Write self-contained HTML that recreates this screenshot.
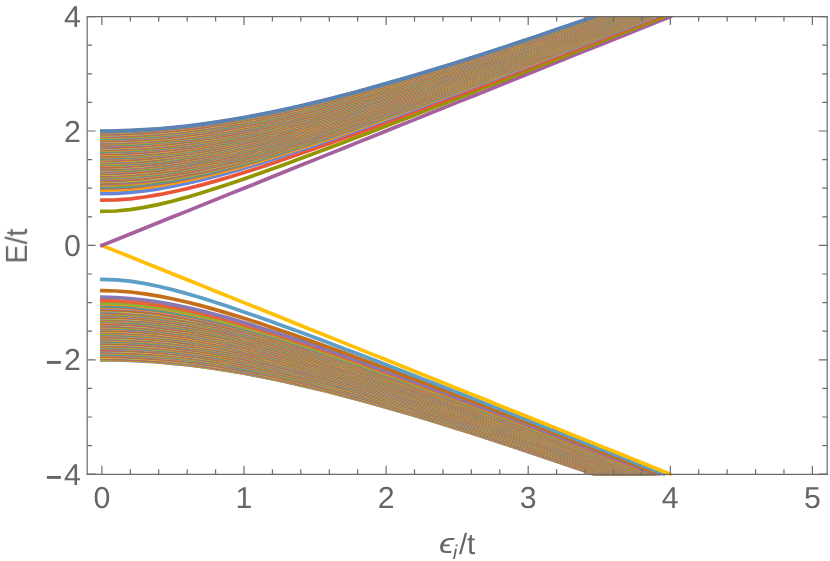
<!DOCTYPE html>
<html><head><meta charset="utf-8"><title>plot</title>
<style>
html,body{margin:0;padding:0;background:#fff;}
body{width:830px;height:561px;overflow:hidden;}
svg{display:block;}
text{font-family:"Liberation Sans",sans-serif;font-size:30.3px;fill:#666;text-rendering:geometricPrecision;}
</style></head><body>
<svg width="830" height="561" viewBox="0 0 830 561">
<rect width="830" height="561" fill="#fff"/>
<defs><clipPath id="c"><rect x="87.2" y="16.6" width="740.0" height="459.2"/></clipPath></defs>
<g clip-path="url(#c)" fill="none" stroke-width="3.7" stroke-linecap="square" stroke-linejoin="round">
<path d="M101.9 359.8 L116.0 359.9 L130.0 360.4 L144.1 361.1 L158.2 362.0 L172.2 363.3 L186.3 364.7 L200.3 366.5 L214.4 368.4 L228.5 370.6 L242.5 373.0 L256.6 375.7 L270.7 378.5 L284.7 381.4 L298.8 384.6 L312.9 387.9 L326.9 391.3 L341.0 394.9 L355.1 398.6 L369.1 402.4 L383.2 406.4 L397.2 410.4 L411.3 414.5 L425.4 418.7 L439.4 423.0 L453.5 427.4 L467.6 431.8 L481.6 436.3 L495.7 440.9 L509.8 445.5 L523.8 450.2 L537.9 454.9 L552.0 459.7 L566.0 464.5 L580.1 469.3 L594.1 474.2" stroke="#5E81B5"/>
<path d="M101.9 359.4 L116.0 359.5 L130.1 359.9 L144.1 360.6 L158.2 361.6 L172.3 362.8 L186.4 364.3 L200.5 366.1 L214.6 368.1 L228.6 370.3 L242.7 372.7 L256.8 375.3 L270.9 378.1 L285.0 381.1 L299.0 384.3 L313.1 387.6 L327.2 391.1 L341.3 394.6 L355.4 398.4 L369.5 402.2 L383.5 406.2 L397.6 410.2 L411.7 414.3 L425.8 418.6 L439.9 422.9 L453.9 427.3 L468.0 431.7 L482.1 436.2 L496.2 440.8 L510.3 445.4 L524.4 450.1 L538.4 454.8 L552.5 459.6 L566.6 464.4 L580.7 469.3 L594.8 474.2" stroke="#E19C24"/>
<path d="M101.9 358.9 L116.0 359.1 L130.1 359.5 L144.2 360.2 L158.3 361.2 L172.4 362.4 L186.5 363.9 L200.6 365.7 L214.7 367.7 L228.8 369.9 L242.9 372.3 L257.0 375.0 L271.1 377.8 L285.2 380.8 L299.3 384.0 L313.4 387.3 L327.5 390.8 L341.6 394.4 L355.7 398.1 L369.8 402.0 L383.9 405.9 L398.0 410.0 L412.1 414.2 L426.2 418.4 L440.3 422.7 L454.4 427.1 L468.5 431.6 L482.6 436.1 L496.7 440.7 L510.8 445.3 L524.9 450.0 L539.0 454.8 L553.1 459.6 L567.2 464.4 L581.3 469.3 L595.4 474.2" stroke="#8FB032"/>
<path d="M101.9 358.5 L116.0 358.6 L130.1 359.1 L144.3 359.8 L158.4 360.8 L172.5 362.0 L186.6 363.5 L200.7 365.3 L214.8 367.3 L229.0 369.5 L243.1 372.0 L257.2 374.6 L271.3 377.5 L285.4 380.5 L299.5 383.7 L313.7 387.0 L327.8 390.5 L341.9 394.1 L356.0 397.9 L370.1 401.8 L384.2 405.7 L398.4 409.8 L412.5 414.0 L426.6 418.2 L440.7 422.6 L454.8 427.0 L469.0 431.5 L483.1 436.0 L497.2 440.6 L511.3 445.3 L525.4 450.0 L539.5 454.7 L553.7 459.5 L567.8 464.4 L581.9 469.3 L596.0 474.2" stroke="#EB6235"/>
<path d="M101.9 358.1 L116.0 358.2 L130.2 358.6 L144.3 359.3 L158.4 360.3 L172.6 361.6 L186.7 363.1 L200.8 364.9 L215.0 366.9 L229.1 369.2 L243.2 371.6 L257.4 374.3 L271.5 377.1 L285.7 380.2 L299.8 383.4 L313.9 386.7 L328.1 390.2 L342.2 393.9 L356.3 397.7 L370.5 401.5 L384.6 405.5 L398.7 409.6 L412.9 413.8 L427.0 418.1 L441.1 422.4 L455.3 426.9 L469.4 431.3 L483.5 435.9 L497.7 440.5 L511.8 445.2 L525.9 449.9 L540.1 454.7 L554.2 459.5 L568.4 464.4 L582.5 469.3 L596.6 474.2" stroke="#8778B3"/>
<path d="M101.9 357.6 L116.1 357.8 L130.2 358.2 L144.4 358.9 L158.5 359.9 L172.7 361.2 L186.8 362.7 L201.0 364.5 L215.1 366.5 L229.3 368.8 L243.4 371.3 L257.6 373.9 L271.7 376.8 L285.9 379.9 L300.0 383.1 L314.2 386.5 L328.3 390.0 L342.5 393.6 L356.6 397.4 L370.8 401.3 L384.9 405.3 L399.1 409.4 L413.3 413.6 L427.4 417.9 L441.6 422.3 L455.7 426.7 L469.9 431.2 L484.0 435.8 L498.2 440.4 L512.3 445.1 L526.5 449.9 L540.6 454.6 L554.8 459.5 L568.9 464.3 L583.1 469.3 L597.2 474.2" stroke="#C56E1A"/>
<path d="M101.9 357.2 L116.1 357.3 L130.2 357.8 L144.4 358.5 L158.6 359.5 L172.7 360.8 L186.9 362.3 L201.1 364.1 L215.3 366.1 L229.4 368.4 L243.6 370.9 L257.8 373.6 L271.9 376.5 L286.1 379.5 L300.3 382.8 L314.4 386.2 L328.6 389.7 L342.8 393.4 L357.0 397.2 L371.1 401.1 L385.3 405.1 L399.5 409.2 L413.6 413.5 L427.8 417.8 L442.0 422.1 L456.1 426.6 L470.3 431.1 L484.5 435.7 L498.7 440.3 L512.8 445.0 L527.0 449.8 L541.2 454.6 L555.3 459.4 L569.5 464.3 L583.7 469.2 L597.8 474.2" stroke="#5D9EC7"/>
<path d="M101.9 356.8 L116.1 356.9 L130.3 357.3 L144.5 358.1 L158.6 359.1 L172.8 360.4 L187.0 361.9 L201.2 363.7 L215.4 365.8 L229.6 368.0 L243.8 370.5 L258.0 373.2 L272.1 376.1 L286.3 379.2 L300.5 382.5 L314.7 385.9 L328.9 389.4 L343.1 393.1 L357.3 396.9 L371.5 400.9 L385.6 404.9 L399.8 409.0 L414.0 413.3 L428.2 417.6 L442.4 422.0 L456.6 426.5 L470.8 431.0 L484.9 435.6 L499.1 440.3 L513.3 445.0 L527.5 449.7 L541.7 454.5 L555.9 459.4 L570.1 464.3 L584.3 469.2 L598.4 474.2" stroke="#FFBF00"/>
<path d="M101.9 356.3 L116.1 356.5 L130.3 356.9 L144.5 357.6 L158.7 358.6 L172.9 359.9 L187.1 361.5 L201.3 363.3 L215.5 365.4 L229.7 367.7 L243.9 370.2 L258.1 372.9 L272.4 375.8 L286.6 378.9 L300.8 382.2 L315.0 385.6 L329.2 389.2 L343.4 392.9 L357.6 396.7 L371.8 400.7 L386.0 404.7 L400.2 408.9 L414.4 413.1 L428.6 417.4 L442.8 421.8 L457.0 426.3 L471.2 430.9 L485.4 435.5 L499.6 440.2 L513.8 444.9 L528.0 449.7 L542.2 454.5 L556.4 459.4 L570.6 464.3 L584.8 469.2 L599.0 474.2" stroke="#A5609D"/>
<path d="M101.9 355.9 L116.1 356.0 L130.3 356.5 L144.6 357.2 L158.8 358.2 L173.0 359.5 L187.2 361.1 L201.4 362.9 L215.7 365.0 L229.9 367.3 L244.1 369.8 L258.3 372.6 L272.6 375.5 L286.8 378.6 L301.0 381.9 L315.2 385.3 L329.4 388.9 L343.7 392.6 L357.9 396.5 L372.1 400.4 L386.3 404.5 L400.5 408.7 L414.8 412.9 L429.0 417.3 L443.2 421.7 L457.4 426.2 L471.7 430.8 L485.9 435.4 L500.1 440.1 L514.3 444.8 L528.5 449.6 L542.8 454.4 L557.0 459.3 L571.2 464.2 L585.4 469.2 L599.6 474.2" stroke="#929600"/>
<path d="M101.9 355.4 L116.1 355.6 L130.4 356.0 L144.6 356.8 L158.9 357.8 L173.1 359.1 L187.3 360.7 L201.6 362.5 L215.8 364.6 L230.0 366.9 L244.3 369.5 L258.5 372.2 L272.8 375.2 L287.0 378.3 L301.2 381.6 L315.5 385.0 L329.7 388.6 L344.0 392.4 L358.2 396.2 L372.4 400.2 L386.7 404.3 L400.9 408.5 L415.1 412.8 L429.4 417.1 L443.6 421.6 L457.9 426.1 L472.1 430.6 L486.3 435.3 L500.6 440.0 L514.8 444.7 L529.1 449.5 L543.3 454.4 L557.5 459.3 L571.8 464.2 L586.0 469.2 L600.2 474.2" stroke="#E95536"/>
<path d="M101.9 355.0 L116.2 355.2 L130.4 355.6 L144.7 356.4 L158.9 357.4 L173.2 358.7 L187.4 360.3 L201.7 362.1 L215.9 364.2 L230.2 366.6 L244.5 369.1 L258.7 371.9 L273.0 374.8 L287.2 378.0 L301.5 381.3 L315.7 384.8 L330.0 388.4 L344.2 392.1 L358.5 396.0 L372.8 400.0 L387.0 404.1 L401.3 408.3 L415.5 412.6 L429.8 417.0 L444.0 421.4 L458.3 425.9 L472.5 430.5 L486.8 435.2 L501.0 439.9 L515.3 444.7 L529.6 449.5 L543.8 454.3 L558.1 459.2 L572.3 464.2 L586.6 469.2 L600.8 474.2" stroke="#6685D9"/>
<path d="M101.9 354.6 L116.2 354.7 L130.4 355.2 L144.7 355.9 L159.0 357.0 L173.3 358.3 L187.5 359.9 L201.8 361.7 L216.1 363.9 L230.3 366.2 L244.6 368.8 L258.9 371.5 L273.2 374.5 L287.4 377.7 L301.7 381.0 L316.0 384.5 L330.3 388.1 L344.5 391.9 L358.8 395.8 L373.1 399.8 L387.3 403.9 L401.6 408.1 L415.9 412.4 L430.2 416.8 L444.4 421.3 L458.7 425.8 L473.0 430.4 L487.2 435.1 L501.5 439.8 L515.8 444.6 L530.1 449.4 L544.3 454.3 L558.6 459.2 L572.9 464.2 L587.2 469.2 L601.4 474.2" stroke="#F89F13"/>
<path d="M101.9 354.1 L116.2 354.3 L130.5 354.7 L144.8 355.5 L159.1 356.5 L173.3 357.9 L187.6 359.5 L201.9 361.3 L216.2 363.5 L230.5 365.8 L244.8 368.4 L259.1 371.2 L273.4 374.2 L287.7 377.4 L301.9 380.7 L316.2 384.2 L330.5 387.9 L344.8 391.6 L359.1 395.5 L373.4 399.6 L387.7 403.7 L402.0 407.9 L416.3 412.2 L430.5 416.6 L444.8 421.1 L459.1 425.7 L473.4 430.3 L487.7 435.0 L502.0 439.7 L516.3 444.5 L530.6 449.4 L544.9 454.2 L559.1 459.2 L573.4 464.1 L587.7 469.2 L602.0 474.2" stroke="#BC5B80"/>
<path d="M101.9 353.7 L116.2 353.9 L130.5 354.3 L144.8 355.1 L159.1 356.1 L173.4 357.5 L187.7 359.1 L202.0 361.0 L216.3 363.1 L230.7 365.5 L245.0 368.1 L259.3 370.9 L273.6 373.9 L287.9 377.1 L302.2 380.4 L316.5 383.9 L330.8 387.6 L345.1 391.4 L359.4 395.3 L373.7 399.3 L388.0 403.5 L402.3 407.7 L416.6 412.1 L430.9 416.5 L445.2 421.0 L459.5 425.5 L473.8 430.2 L488.2 434.9 L502.5 439.6 L516.8 444.4 L531.1 449.3 L545.4 454.2 L559.7 459.1 L574.0 464.1 L588.3 469.1 L602.6 474.2" stroke="#47B66D"/>
<path d="M101.9 353.3 L116.2 353.4 L130.5 353.9 L144.9 354.6 L159.2 355.7 L173.5 357.0 L187.8 358.7 L202.2 360.6 L216.5 362.7 L230.8 365.1 L245.1 367.7 L259.4 370.5 L273.8 373.5 L288.1 376.7 L302.4 380.1 L316.7 383.6 L331.1 387.3 L345.4 391.1 L359.7 395.1 L374.0 399.1 L388.3 403.3 L402.7 407.5 L417.0 411.9 L431.3 416.3 L445.6 420.8 L460.0 425.4 L474.3 430.1 L488.6 434.8 L502.9 439.5 L517.2 444.4 L531.6 449.2 L545.9 454.1 L560.2 459.1 L574.5 464.1 L588.9 469.1 L603.2 474.2" stroke="#5E81B5"/>
<path d="M101.9 352.8 L116.2 353.0 L130.6 353.4 L144.9 354.2 L159.3 355.3 L173.6 356.6 L187.9 358.3 L202.3 360.2 L216.6 362.3 L230.9 364.7 L245.3 367.3 L259.6 370.2 L274.0 373.2 L288.3 376.4 L302.6 379.8 L317.0 383.4 L331.3 387.1 L345.7 390.9 L360.0 394.8 L374.3 398.9 L388.7 403.1 L403.0 407.4 L417.4 411.7 L431.7 416.2 L446.0 420.7 L460.4 425.3 L474.7 430.0 L489.0 434.7 L503.4 439.5 L517.7 444.3 L532.1 449.2 L546.4 454.1 L560.7 459.1 L575.1 464.1 L589.4 469.1 L603.8 474.2" stroke="#E19C24"/>
<path d="M101.9 352.4 L116.3 352.5 L130.6 353.0 L145.0 353.8 L159.3 354.9 L173.7 356.2 L188.0 357.9 L202.4 359.8 L216.7 362.0 L231.1 364.4 L245.5 367.0 L259.8 369.8 L274.2 372.9 L288.5 376.1 L302.9 379.5 L317.2 383.1 L331.6 386.8 L345.9 390.6 L360.3 394.6 L374.6 398.7 L389.0 402.9 L403.4 407.2 L417.7 411.6 L432.1 416.0 L446.4 420.6 L460.8 425.2 L475.1 429.8 L489.5 434.6 L503.8 439.4 L518.2 444.2 L532.6 449.1 L546.9 454.0 L561.3 459.0 L575.6 464.1 L590.0 469.1 L604.3 474.2" stroke="#8FB032"/>
<path d="M101.9 352.0 L116.3 352.1 L130.6 352.6 L145.0 353.4 L159.4 354.4 L173.8 355.8 L188.1 357.5 L202.5 359.4 L216.9 361.6 L231.2 364.0 L245.6 366.6 L260.0 369.5 L274.4 372.6 L288.7 375.8 L303.1 379.2 L317.5 382.8 L331.8 386.5 L346.2 390.4 L360.6 394.4 L375.0 398.5 L389.3 402.7 L403.7 407.0 L418.1 411.4 L432.4 415.9 L446.8 420.4 L461.2 425.0 L475.6 429.7 L489.9 434.5 L504.3 439.3 L518.7 444.1 L533.0 449.0 L547.4 454.0 L561.8 459.0 L576.2 464.0 L590.5 469.1 L604.9 474.2" stroke="#EB6235"/>
<path d="M101.9 351.5 L116.3 351.7 L130.7 352.1 L145.1 352.9 L159.5 354.0 L173.8 355.4 L188.2 357.1 L202.6 359.0 L217.0 361.2 L231.4 363.6 L245.8 366.3 L260.2 369.2 L274.6 372.3 L288.9 375.5 L303.3 378.9 L317.7 382.5 L332.1 386.3 L346.5 390.2 L360.9 394.2 L375.3 398.3 L389.7 402.5 L404.0 406.8 L418.4 411.2 L432.8 415.7 L447.2 420.3 L461.6 424.9 L476.0 429.6 L490.4 434.4 L504.8 439.2 L519.1 444.1 L533.5 449.0 L547.9 454.0 L562.3 459.0 L576.7 464.0 L591.1 469.1 L605.5 474.2" stroke="#8778B3"/>
<path d="M101.9 351.1 L116.3 351.2 L130.7 351.7 L145.1 352.5 L159.5 353.6 L173.9 355.0 L188.3 356.7 L202.7 358.6 L217.1 360.8 L231.5 363.3 L245.9 365.9 L260.3 368.8 L274.7 371.9 L289.1 375.2 L303.6 378.7 L318.0 382.3 L332.4 386.0 L346.8 389.9 L361.2 393.9 L375.6 398.1 L390.0 402.3 L404.4 406.6 L418.8 411.0 L433.2 415.6 L447.6 420.1 L462.0 424.8 L476.4 429.5 L490.8 434.3 L505.2 439.1 L519.6 444.0 L534.0 448.9 L548.4 453.9 L562.8 458.9 L577.2 464.0 L591.6 469.1 L606.0 474.2" stroke="#C56E1A"/>
<path d="M101.9 350.6 L115.9 350.8 L129.9 351.2 L144.0 352.0 L158.0 353.0 L172.0 354.4 L186.0 356.0 L200.0 357.8 L214.1 359.9 L228.1 362.3 L242.1 364.8 L256.1 367.6 L270.1 370.6 L284.2 373.7 L298.2 377.0 L312.2 380.5 L326.2 384.1 L340.2 387.8 L354.2 391.7 L368.3 395.6 L382.3 399.7 L396.3 403.9 L410.3 408.2 L424.3 412.5 L438.4 416.9 L452.4 421.4 L466.4 426.0 L480.4 430.6 L494.4 435.3 L508.5 440.0 L522.5 444.7 L536.5 449.6 L550.5 454.4 L564.5 459.3 L578.6 464.2 L592.6 469.2 L606.6 474.2" stroke="#5D9EC7"/>
<path d="M101.9 350.2 L115.9 350.4 L130.0 350.8 L144.0 351.6 L158.0 352.6 L172.1 354.0 L186.1 355.6 L200.1 357.4 L214.2 359.5 L228.2 361.9 L242.2 364.5 L256.3 367.2 L270.3 370.2 L284.4 373.4 L298.4 376.7 L312.4 380.2 L326.5 383.8 L340.5 387.6 L354.5 391.4 L368.6 395.4 L382.6 399.5 L396.6 403.7 L410.7 408.0 L424.7 412.3 L438.7 416.8 L452.8 421.3 L466.8 425.8 L480.8 430.5 L494.9 435.2 L508.9 439.9 L522.9 444.7 L537.0 449.5 L551.0 454.4 L565.1 459.3 L579.1 464.2 L593.1 469.2 L607.2 474.2" stroke="#FFBF00"/>
<path d="M101.9 349.8 L116.0 349.9 L130.0 350.4 L144.1 351.1 L158.1 352.2 L172.2 353.5 L186.2 355.2 L200.3 357.0 L214.3 359.2 L228.4 361.5 L242.4 364.1 L256.5 366.9 L270.5 369.9 L284.6 373.1 L298.6 376.4 L312.7 379.9 L326.7 383.5 L340.8 387.3 L354.8 391.2 L368.9 395.2 L382.9 399.3 L397.0 403.5 L411.0 407.8 L425.1 412.2 L439.1 416.6 L453.2 421.1 L467.2 425.7 L481.3 430.4 L495.3 435.1 L509.4 439.8 L523.4 444.6 L537.5 449.4 L551.5 454.3 L565.6 459.2 L579.6 464.2 L593.7 469.2 L607.7 474.2" stroke="#A5609D"/>
<path d="M101.9 349.3 L116.0 349.5 L130.0 350.0 L144.1 350.7 L158.2 351.8 L172.2 353.1 L186.3 354.7 L200.4 356.6 L214.4 358.8 L228.5 361.2 L242.6 363.8 L256.6 366.6 L270.7 369.6 L284.8 372.8 L298.8 376.1 L312.9 379.6 L327.0 383.3 L341.0 387.1 L355.1 391.0 L369.1 395.0 L383.2 399.1 L397.3 403.3 L411.3 407.6 L425.4 412.0 L439.5 416.5 L453.5 421.0 L467.6 425.6 L481.7 430.3 L495.7 435.0 L509.8 439.7 L523.9 444.5 L537.9 449.4 L552.0 454.3 L566.1 459.2 L580.1 464.2 L594.2 469.2 L608.3 474.2" stroke="#929600"/>
<path d="M101.9 348.9 L116.0 349.1 L130.1 349.5 L144.1 350.3 L158.2 351.4 L172.3 352.7 L186.4 354.3 L200.5 356.2 L214.5 358.4 L228.6 360.8 L242.7 363.4 L256.8 366.2 L270.9 369.3 L285.0 372.5 L299.0 375.8 L313.1 379.3 L327.2 383.0 L341.3 386.8 L355.4 390.7 L369.4 394.8 L383.5 398.9 L397.6 403.1 L411.7 407.5 L425.8 411.9 L439.8 416.3 L453.9 420.9 L468.0 425.5 L482.1 430.2 L496.2 434.9 L510.2 439.6 L524.3 444.5 L538.4 449.3 L552.5 454.2 L566.6 459.2 L580.7 464.2 L594.7 469.2 L608.8 474.2" stroke="#E95536"/>
<path d="M101.9 348.5 L116.0 348.6 L130.1 349.1 L144.2 349.9 L158.3 350.9 L172.4 352.3 L186.5 353.9 L200.6 355.9 L214.7 358.0 L228.8 360.4 L242.9 363.1 L257.0 365.9 L271.1 368.9 L285.2 372.1 L299.2 375.5 L313.3 379.1 L327.4 382.8 L341.5 386.6 L355.6 390.5 L369.7 394.5 L383.8 398.7 L397.9 402.9 L412.0 407.3 L426.1 411.7 L440.2 416.2 L454.3 420.7 L468.4 425.4 L482.5 430.0 L496.6 434.8 L510.7 439.6 L524.8 444.4 L538.9 449.3 L553.0 454.2 L567.1 459.1 L581.2 464.1 L595.3 469.1 L609.4 474.2" stroke="#6685D9"/>
<path d="M101.9 348.0 L116.0 348.2 L130.1 348.7 L144.2 349.4 L158.3 350.5 L172.5 351.9 L186.6 353.5 L200.7 355.5 L214.8 357.6 L228.9 360.1 L243.0 362.7 L257.1 365.6 L271.2 368.6 L285.3 371.8 L299.5 375.2 L313.6 378.8 L327.7 382.5 L341.8 386.3 L355.9 390.3 L370.0 394.3 L384.1 398.5 L398.2 402.8 L412.3 407.1 L426.5 411.5 L440.6 416.0 L454.7 420.6 L468.8 425.2 L482.9 429.9 L497.0 434.7 L511.1 439.5 L525.2 444.3 L539.4 449.2 L553.5 454.1 L567.6 459.1 L581.7 464.1 L595.8 469.1 L609.9 474.2" stroke="#F89F13"/>
<path d="M101.9 347.6 L116.0 347.8 L130.2 348.2 L144.3 349.0 L158.4 350.1 L172.5 351.5 L186.7 353.1 L200.8 355.1 L214.9 357.3 L229.0 359.7 L243.2 362.3 L257.3 365.2 L271.4 368.3 L285.5 371.5 L299.7 374.9 L313.8 378.5 L327.9 382.2 L342.0 386.1 L356.2 390.0 L370.3 394.1 L384.4 398.3 L398.6 402.6 L412.7 406.9 L426.8 411.4 L440.9 415.9 L455.1 420.5 L469.2 425.1 L483.3 429.8 L497.4 434.6 L511.6 439.4 L525.7 444.3 L539.8 449.2 L553.9 454.1 L568.1 459.1 L582.2 464.1 L596.3 469.1 L610.5 474.2" stroke="#BC5B80"/>
<path d="M101.9 347.2 L116.0 347.3 L130.2 347.8 L144.3 348.6 L158.5 349.7 L172.6 351.1 L186.7 352.7 L200.9 354.7 L215.0 356.9 L229.2 359.3 L243.3 362.0 L257.5 364.9 L271.6 368.0 L285.7 371.2 L299.9 374.7 L314.0 378.2 L328.2 382.0 L342.3 385.8 L356.4 389.8 L370.6 393.9 L384.7 398.1 L398.9 402.4 L413.0 406.8 L427.2 411.2 L441.3 415.7 L455.4 420.3 L469.6 425.0 L483.7 429.7 L497.9 434.5 L512.0 439.3 L526.1 444.2 L540.3 449.1 L554.4 454.1 L568.6 459.0 L582.7 464.1 L596.8 469.1 L611.0 474.2" stroke="#47B66D"/>
<path d="M101.9 346.7 L116.1 346.9 L130.2 347.4 L144.4 348.2 L158.5 349.3 L172.7 350.7 L186.8 352.3 L201.0 354.3 L215.2 356.5 L229.3 359.0 L243.5 361.6 L257.6 364.5 L271.8 367.6 L285.9 370.9 L300.1 374.4 L314.2 378.0 L328.4 381.7 L342.6 385.6 L356.7 389.6 L370.9 393.7 L385.0 397.9 L399.2 402.2 L413.3 406.6 L427.5 411.1 L441.7 415.6 L455.8 420.2 L470.0 424.9 L484.1 429.6 L498.3 434.4 L512.4 439.2 L526.6 444.1 L540.7 449.0 L554.9 454.0 L569.1 459.0 L583.2 464.0 L597.4 469.1 L611.5 474.2" stroke="#5E81B5"/>
<path d="M101.9 346.3 L116.1 346.4 L130.2 346.9 L144.4 347.7 L158.6 348.8 L172.8 350.2 L186.9 351.9 L201.1 353.9 L215.3 356.1 L229.4 358.6 L243.6 361.3 L257.8 364.2 L272.0 367.3 L286.1 370.6 L300.3 374.1 L314.5 377.7 L328.6 381.4 L342.8 385.3 L357.0 389.3 L371.2 393.5 L385.3 397.7 L399.5 402.0 L413.7 406.4 L427.8 410.9 L442.0 415.5 L456.2 420.1 L470.3 424.8 L484.5 429.5 L498.7 434.3 L512.9 439.2 L527.0 444.1 L541.2 449.0 L555.4 454.0 L569.5 459.0 L583.7 464.0 L597.9 469.1 L612.1 474.2" stroke="#E19C24"/>
<path d="M101.9 345.9 L116.1 346.0 L130.3 346.5 L144.5 347.3 L158.6 348.4 L172.8 349.8 L187.0 351.5 L201.2 353.5 L215.4 355.8 L229.6 358.2 L243.8 360.9 L257.9 363.9 L272.1 367.0 L286.3 370.3 L300.5 373.8 L314.7 377.4 L328.9 381.2 L343.1 385.1 L357.2 389.1 L371.4 393.3 L385.6 397.5 L399.8 401.8 L414.0 406.2 L428.2 410.7 L442.4 415.3 L456.5 420.0 L470.7 424.7 L484.9 429.4 L499.1 434.2 L513.3 439.1 L527.5 444.0 L541.7 448.9 L555.8 453.9 L570.0 458.9 L584.2 464.0 L598.4 469.1 L612.6 474.2" stroke="#8FB032"/>
<path d="M101.9 345.4 L116.1 345.6 L130.3 346.1 L144.5 346.9 L158.7 348.0 L172.9 349.4 L187.1 351.1 L201.3 353.1 L215.5 355.4 L229.7 357.9 L243.9 360.6 L258.1 363.5 L272.3 366.7 L286.5 370.0 L300.7 373.5 L314.9 377.1 L329.1 380.9 L343.3 384.8 L357.5 388.9 L371.7 393.0 L385.9 397.3 L400.1 401.6 L414.3 406.1 L428.5 410.6 L442.7 415.2 L456.9 419.8 L471.1 424.5 L485.3 429.3 L499.5 434.1 L513.7 439.0 L527.9 443.9 L542.1 448.9 L556.3 453.9 L570.5 458.9 L584.7 464.0 L598.9 469.1 L613.1 474.2" stroke="#EB6235"/>
<path d="M101.9 345.0 L116.1 345.1 L130.3 345.6 L144.5 346.4 L158.8 347.6 L173.0 349.0 L187.2 350.7 L201.4 352.7 L215.6 355.0 L229.8 357.5 L244.1 360.2 L258.3 363.2 L272.5 366.4 L286.7 369.7 L300.9 373.2 L315.1 376.9 L329.3 380.7 L343.6 384.6 L357.8 388.7 L372.0 392.8 L386.2 397.1 L400.4 401.5 L414.6 405.9 L428.8 410.4 L443.1 415.0 L457.3 419.7 L471.5 424.4 L485.7 429.2 L499.9 434.0 L514.1 438.9 L528.4 443.9 L542.6 448.8 L556.8 453.8 L571.0 458.9 L585.2 464.0 L599.4 469.1 L613.6 474.2" stroke="#8778B3"/>
<path d="M101.9 344.5 L116.1 344.7 L130.4 345.2 L144.6 346.0 L158.8 347.2 L173.0 348.6 L187.3 350.3 L201.5 352.3 L215.7 354.6 L230.0 357.1 L244.2 359.9 L258.4 362.9 L272.7 366.0 L286.9 369.4 L301.1 372.9 L315.3 376.6 L329.6 380.4 L343.8 384.4 L358.0 388.4 L372.3 392.6 L386.5 396.9 L400.7 401.3 L415.0 405.7 L429.2 410.3 L443.4 414.9 L457.6 419.6 L471.9 424.3 L486.1 429.1 L500.3 434.0 L514.6 438.8 L528.8 443.8 L543.0 448.8 L557.2 453.8 L571.5 458.8 L585.7 463.9 L599.9 469.1 L614.2 474.2" stroke="#C56E1A"/>
<path d="M101.9 344.1 L116.1 344.3 L130.4 344.8 L144.6 345.6 L158.9 346.7 L173.1 348.2 L187.4 349.9 L201.6 352.0 L215.9 354.2 L230.1 356.8 L244.3 359.6 L258.6 362.5 L272.8 365.7 L287.1 369.1 L301.3 372.6 L315.6 376.3 L329.8 380.2 L344.0 384.1 L358.3 388.2 L372.5 392.4 L386.8 396.7 L401.0 401.1 L415.3 405.6 L429.5 410.1 L443.8 414.7 L458.0 419.4 L472.2 424.2 L486.5 429.0 L500.7 433.9 L515.0 438.8 L529.2 443.7 L543.5 448.7 L557.7 453.7 L572.0 458.8 L586.2 463.9 L600.4 469.0 L614.7 474.2" stroke="#5D9EC7"/>
<path d="M101.9 343.7 L116.2 343.8 L130.4 344.3 L144.7 345.2 L158.9 346.3 L173.2 347.8 L187.5 349.5 L201.7 351.6 L216.0 353.9 L230.2 356.4 L244.5 359.2 L258.7 362.2 L273.0 365.4 L287.3 368.8 L301.5 372.3 L315.8 376.0 L330.0 379.9 L344.3 383.9 L358.6 388.0 L372.8 392.2 L387.1 396.5 L401.3 400.9 L415.6 405.4 L429.8 410.0 L444.1 414.6 L458.4 419.3 L472.6 424.1 L486.9 428.9 L501.1 433.8 L515.4 438.7 L529.7 443.7 L543.9 448.7 L558.2 453.7 L572.4 458.8 L586.7 463.9 L600.9 469.0 L615.2 474.2" stroke="#FFBF00"/>
<path d="M101.9 343.2 L116.2 343.4 L130.4 343.9 L144.7 344.7 L159.0 345.9 L173.3 347.4 L187.5 349.1 L201.8 351.2 L216.1 353.5 L230.4 356.1 L244.6 358.9 L258.9 361.9 L273.2 365.1 L287.4 368.5 L301.7 372.1 L316.0 375.8 L330.3 379.6 L344.5 383.6 L358.8 387.8 L373.1 392.0 L387.4 396.3 L401.6 400.7 L415.9 405.2 L430.2 409.8 L444.4 414.5 L458.7 419.2 L473.0 424.0 L487.3 428.8 L501.5 433.7 L515.8 438.6 L530.1 443.6 L544.4 448.6 L558.6 453.7 L572.9 458.7 L587.2 463.9 L601.4 469.0 L615.7 474.2" stroke="#A5609D"/>
<path d="M101.9 342.8 L116.2 343.0 L130.5 343.5 L144.8 344.3 L159.0 345.5 L173.3 347.0 L187.6 348.7 L201.9 350.8 L216.2 353.1 L230.5 355.7 L244.8 358.5 L259.1 361.5 L273.3 364.8 L287.6 368.2 L301.9 371.8 L316.2 375.5 L330.5 379.4 L344.8 383.4 L359.1 387.5 L373.4 391.8 L387.6 396.1 L401.9 400.6 L416.2 405.1 L430.5 409.7 L444.8 414.3 L459.1 419.1 L473.4 423.8 L487.6 428.7 L501.9 433.6 L516.2 438.5 L530.5 443.5 L544.8 448.5 L559.1 453.6 L573.4 458.7 L587.7 463.8 L601.9 469.0 L616.2 474.2" stroke="#929600"/>
<path d="M101.9 342.4 L116.2 342.5 L130.5 343.0 L144.8 343.9 L159.1 345.1 L173.4 346.5 L187.7 348.3 L202.0 350.4 L216.3 352.7 L230.6 355.3 L244.9 358.2 L259.2 361.2 L273.5 364.5 L287.8 367.9 L302.1 371.5 L316.4 375.2 L330.7 379.1 L345.0 383.2 L359.3 387.3 L373.6 391.6 L387.9 395.9 L402.2 400.4 L416.5 404.9 L430.8 409.5 L445.1 414.2 L459.4 418.9 L473.7 423.7 L488.0 428.6 L502.3 433.5 L516.6 438.5 L530.9 443.5 L545.2 448.5 L559.5 453.6 L573.8 458.7 L588.1 463.8 L602.4 469.0 L616.7 474.2" stroke="#E95536"/>
<path d="M101.9 341.9 L116.2 342.1 L130.5 342.6 L144.8 343.5 L159.2 344.6 L173.5 346.1 L187.8 347.9 L202.1 350.0 L216.4 352.4 L230.7 355.0 L245.1 357.8 L259.4 360.9 L273.7 364.1 L288.0 367.6 L302.3 371.2 L316.6 375.0 L330.9 378.9 L345.3 382.9 L359.6 387.1 L373.9 391.4 L388.2 395.7 L402.5 400.2 L416.8 404.7 L431.1 409.4 L445.5 414.0 L459.8 418.8 L474.1 423.6 L488.4 428.5 L502.7 433.4 L517.0 438.4 L531.4 443.4 L545.7 448.4 L560.0 453.5 L574.3 458.7 L588.6 463.8 L602.9 469.0 L617.2 474.2" stroke="#6685D9"/>
<path d="M101.9 341.5 L116.2 341.7 L130.6 342.2 L144.9 343.0 L159.2 344.2 L173.5 345.7 L187.9 347.5 L202.2 349.6 L216.5 352.0 L230.9 354.6 L245.2 357.5 L259.5 360.5 L273.8 363.8 L288.2 367.3 L302.5 370.9 L316.8 374.7 L331.2 378.6 L345.5 382.7 L359.8 386.9 L374.2 391.2 L388.5 395.5 L402.8 400.0 L417.1 404.6 L431.5 409.2 L445.8 413.9 L460.1 418.7 L474.5 423.5 L488.8 428.4 L503.1 433.3 L517.4 438.3 L531.8 443.3 L546.1 448.4 L560.4 453.5 L574.8 458.6 L589.1 463.8 L603.4 469.0 L617.7 474.2" stroke="#F89F13"/>
<path d="M101.9 341.1 L116.2 341.2 L130.6 341.7 L144.9 342.6 L159.3 343.8 L173.6 345.3 L188.0 347.1 L202.3 349.2 L216.6 351.6 L231.0 354.3 L245.3 357.1 L259.7 360.2 L274.0 363.5 L288.4 367.0 L302.7 370.6 L317.0 374.4 L331.4 378.4 L345.7 382.5 L360.1 386.6 L374.4 390.9 L388.8 395.3 L403.1 399.8 L417.4 404.4 L431.8 409.1 L446.1 413.8 L460.5 418.6 L474.8 423.4 L489.2 428.3 L503.5 433.2 L517.8 438.2 L532.2 443.3 L546.5 448.3 L560.9 453.4 L575.2 458.6 L589.6 463.8 L603.9 469.0 L618.2 474.2" stroke="#BC5B80"/>
<path d="M101.9 340.6 L116.3 340.8 L130.6 341.3 L145.0 342.2 L159.3 343.4 L173.7 344.9 L188.0 346.7 L202.4 348.9 L216.8 351.2 L231.1 353.9 L245.5 356.8 L259.8 359.9 L274.2 363.2 L288.5 366.7 L302.9 370.3 L317.2 374.2 L331.6 378.1 L346.0 382.2 L360.3 386.4 L374.7 390.7 L389.0 395.2 L403.4 399.7 L417.7 404.2 L432.1 408.9 L446.5 413.6 L460.8 418.4 L475.2 423.3 L489.5 428.2 L503.9 433.1 L518.2 438.2 L532.6 443.2 L547.0 448.3 L561.3 453.4 L575.7 458.6 L590.0 463.7 L604.4 469.0 L618.7 474.2" stroke="#47B66D"/>
<path d="M101.9 340.2 L116.3 340.4 L130.6 340.9 L145.0 341.8 L159.4 343.0 L173.8 344.5 L188.1 346.3 L202.5 348.5 L216.9 350.9 L231.2 353.5 L245.6 356.4 L260.0 359.6 L274.3 362.9 L288.7 366.4 L303.1 370.1 L317.5 373.9 L331.8 377.9 L346.2 382.0 L360.6 386.2 L374.9 390.5 L389.3 395.0 L403.7 399.5 L418.0 404.1 L432.4 408.8 L446.8 413.5 L461.2 418.3 L475.5 423.2 L489.9 428.1 L504.3 433.1 L518.6 438.1 L533.0 443.1 L547.4 448.2 L561.8 453.4 L576.1 458.5 L590.5 463.7 L604.9 468.9 L619.2 474.2" stroke="#5E81B5"/>
<path d="M101.9 339.7 L116.3 339.9 L130.7 340.5 L145.1 341.3 L159.4 342.5 L173.8 344.1 L188.2 345.9 L202.6 348.1 L217.0 350.5 L231.4 353.2 L245.7 356.1 L260.1 359.2 L274.5 362.6 L288.9 366.1 L303.3 369.8 L317.7 373.6 L332.0 377.6 L346.4 381.7 L360.8 386.0 L375.2 390.3 L389.6 394.8 L404.0 399.3 L418.3 403.9 L432.7 408.6 L447.1 413.4 L461.5 418.2 L475.9 423.1 L490.3 428.0 L504.7 433.0 L519.0 438.0 L533.4 443.1 L547.8 448.2 L562.2 453.3 L576.6 458.5 L591.0 463.7 L605.3 468.9 L619.7 474.2" stroke="#E19C24"/>
<path d="M101.9 339.3 L116.3 339.5 L130.7 340.0 L145.1 340.9 L159.5 342.1 L173.9 343.7 L188.3 345.5 L202.7 347.7 L217.1 350.1 L231.5 352.8 L245.9 355.8 L260.3 358.9 L274.7 362.3 L289.1 365.8 L303.5 369.5 L317.9 373.4 L332.3 377.4 L346.7 381.5 L361.1 385.8 L375.5 390.1 L389.9 394.6 L404.3 399.1 L418.6 403.8 L433.0 408.5 L447.4 413.2 L461.8 418.1 L476.2 423.0 L490.6 427.9 L505.0 432.9 L519.4 437.9 L533.8 443.0 L548.2 448.1 L562.6 453.3 L577.0 458.5 L591.4 463.7 L605.8 468.9 L620.2 474.2" stroke="#8FB032"/>
<path d="M101.9 338.9 L115.9 339.0 L129.9 339.6 L144.0 340.4 L158.0 341.6 L172.0 343.0 L186.0 344.8 L200.1 346.9 L214.1 349.2 L228.1 351.8 L242.1 354.6 L256.1 357.6 L270.2 360.8 L284.2 364.2 L298.2 367.8 L312.2 371.5 L326.2 375.4 L340.3 379.4 L354.3 383.5 L368.3 387.7 L382.3 392.0 L396.4 396.4 L410.4 400.8 L424.4 405.4 L438.4 410.0 L452.4 414.7 L466.5 419.4 L480.5 424.2 L494.5 429.0 L508.5 433.9 L522.5 438.8 L536.6 443.8 L550.6 448.8 L564.6 453.8 L578.6 458.9 L592.7 463.9 L606.7 469.1 L620.7 474.2" stroke="#EB6235"/>
<path d="M101.9 338.4 L115.9 338.6 L130.0 339.1 L144.0 340.0 L158.0 341.1 L172.1 342.6 L186.1 344.4 L200.1 346.5 L214.2 348.8 L228.2 351.4 L242.2 354.2 L256.3 357.3 L270.3 360.5 L284.4 363.9 L298.4 367.5 L312.4 371.2 L326.5 375.1 L340.5 379.1 L354.5 383.2 L368.6 387.4 L382.6 391.8 L396.6 396.2 L410.7 400.7 L424.7 405.2 L438.7 409.8 L452.8 414.5 L466.8 419.3 L480.8 424.1 L494.9 428.9 L508.9 433.8 L522.9 438.7 L537.0 443.7 L551.0 448.7 L565.0 453.8 L579.1 458.8 L593.1 463.9 L607.1 469.1 L621.2 474.2" stroke="#8778B3"/>
<path d="M101.9 338.0 L115.9 338.2 L130.0 338.7 L144.0 339.5 L158.1 340.7 L172.1 342.2 L186.2 344.0 L200.2 346.1 L214.3 348.5 L228.3 351.1 L242.4 353.9 L256.4 357.0 L270.5 360.2 L284.5 363.6 L298.6 367.2 L312.6 371.0 L326.7 374.9 L340.7 378.9 L354.8 383.0 L368.8 387.2 L382.9 391.6 L396.9 396.0 L410.9 400.5 L425.0 405.1 L439.0 409.7 L453.1 414.4 L467.1 419.2 L481.2 424.0 L495.2 428.8 L509.3 433.7 L523.3 438.7 L537.4 443.7 L551.4 448.7 L565.5 453.7 L579.5 458.8 L593.6 463.9 L607.6 469.0 L621.7 474.2" stroke="#C56E1A"/>
<path d="M101.9 337.6 L116.0 337.7 L130.0 338.3 L144.1 339.1 L158.1 340.3 L172.2 341.8 L186.3 343.6 L200.3 345.7 L214.4 348.1 L228.4 350.7 L242.5 353.6 L256.6 356.6 L270.6 359.9 L284.7 363.3 L298.7 366.9 L312.8 370.7 L326.9 374.6 L340.9 378.6 L355.0 382.8 L369.1 387.0 L383.1 391.4 L397.2 395.8 L411.2 400.3 L425.3 404.9 L439.4 409.6 L453.4 414.3 L467.5 419.0 L481.5 423.9 L495.6 428.7 L509.7 433.6 L523.7 438.6 L537.8 443.6 L551.8 448.6 L565.9 453.7 L580.0 458.8 L594.0 463.9 L608.1 469.0 L622.1 474.2" stroke="#5D9EC7"/>
<path d="M101.9 337.1 L116.0 337.3 L130.0 337.8 L144.1 338.7 L158.2 339.9 L172.3 341.4 L186.3 343.2 L200.4 345.3 L214.5 347.7 L228.6 350.3 L242.6 353.2 L256.7 356.3 L270.8 359.6 L284.9 363.0 L298.9 366.7 L313.0 370.4 L327.1 374.4 L341.1 378.4 L355.2 382.6 L369.3 386.8 L383.4 391.2 L397.4 395.6 L411.5 400.1 L425.6 404.7 L439.7 409.4 L453.7 414.1 L467.8 418.9 L481.9 423.8 L496.0 428.6 L510.0 433.6 L524.1 438.5 L538.2 443.5 L552.3 448.6 L566.3 453.6 L580.4 458.7 L594.5 463.9 L608.5 469.0 L622.6 474.2" stroke="#FFBF00"/>
<path d="M101.9 336.7 L116.0 336.9 L130.1 337.4 L144.2 338.3 L158.2 339.5 L172.3 341.0 L186.4 342.8 L200.5 344.9 L214.6 347.3 L228.7 350.0 L242.8 352.9 L256.8 356.0 L270.9 359.3 L285.0 362.7 L299.1 366.4 L313.2 370.2 L327.3 374.1 L341.4 378.2 L355.5 382.3 L369.5 386.6 L383.6 391.0 L397.7 395.4 L411.8 400.0 L425.9 404.6 L440.0 409.3 L454.1 414.0 L468.1 418.8 L482.2 423.6 L496.3 428.5 L510.4 433.5 L524.5 438.5 L538.6 443.5 L552.7 448.5 L566.7 453.6 L580.8 458.7 L594.9 463.8 L609.0 469.0 L623.1 474.2" stroke="#A5609D"/>
<path d="M101.9 336.3 L116.0 336.4 L130.1 337.0 L144.2 337.8 L158.3 339.1 L172.4 340.6 L186.5 342.4 L200.6 344.6 L214.7 347.0 L228.8 349.6 L242.9 352.5 L257.0 355.6 L271.1 358.9 L285.2 362.4 L299.3 366.1 L313.4 369.9 L327.5 373.9 L341.6 377.9 L355.7 382.1 L369.8 386.4 L383.9 390.8 L398.0 395.3 L412.1 399.8 L426.2 404.4 L440.3 409.1 L454.4 413.9 L468.5 418.7 L482.6 423.5 L496.7 428.4 L510.8 433.4 L524.9 438.4 L539.0 443.4 L553.1 448.5 L567.2 453.6 L581.3 458.7 L595.4 463.8 L609.5 469.0 L623.6 474.2" stroke="#929600"/>
<path d="M101.9 335.8 L116.0 336.0 L130.1 336.5 L144.2 337.4 L158.3 338.6 L172.5 340.2 L186.6 342.0 L200.7 344.2 L214.8 346.6 L228.9 349.3 L243.0 352.2 L257.1 355.3 L271.2 358.6 L285.4 362.1 L299.5 365.8 L313.6 369.6 L327.7 373.6 L341.8 377.7 L355.9 381.9 L370.0 386.2 L384.1 390.6 L398.2 395.1 L412.4 399.7 L426.5 404.3 L440.6 409.0 L454.7 413.8 L468.8 418.6 L482.9 423.4 L497.0 428.4 L511.1 433.3 L525.2 438.3 L539.4 443.4 L553.5 448.4 L567.6 453.5 L581.7 458.7 L595.8 463.8 L609.9 469.0 L624.0 474.2" stroke="#E95536"/>
<path d="M101.9 335.4 L116.0 335.6 L130.1 336.1 L144.3 337.0 L158.4 338.2 L172.5 339.8 L186.6 341.6 L200.8 343.8 L214.9 346.2 L229.0 348.9 L243.1 351.8 L257.3 355.0 L271.4 358.3 L285.5 361.8 L299.6 365.5 L313.8 369.4 L327.9 373.4 L342.0 377.5 L356.1 381.7 L370.3 386.0 L384.4 390.4 L398.5 394.9 L412.6 399.5 L426.8 404.1 L440.9 408.9 L455.0 413.6 L469.1 418.5 L483.3 423.3 L497.4 428.3 L511.5 433.2 L525.6 438.2 L539.7 443.3 L553.9 448.4 L568.0 453.5 L582.1 458.6 L596.2 463.8 L610.4 469.0 L624.5 474.2" stroke="#6685D9"/>
<path d="M101.9 335.0 L116.0 335.1 L130.2 335.7 L144.3 336.6 L158.4 337.8 L172.6 339.4 L186.7 341.2 L200.9 343.4 L215.0 345.9 L229.1 348.6 L243.3 351.5 L257.4 354.7 L271.5 358.0 L285.7 361.6 L299.8 365.3 L313.9 369.1 L328.1 373.1 L342.2 377.2 L356.4 381.5 L370.5 385.8 L384.6 390.2 L398.8 394.7 L412.9 399.3 L427.0 404.0 L441.2 408.7 L455.3 413.5 L469.5 418.3 L483.6 423.2 L497.7 428.2 L511.9 433.2 L526.0 438.2 L540.1 443.2 L554.3 448.3 L568.4 453.4 L582.5 458.6 L596.7 463.8 L610.8 469.0 L625.0 474.2" stroke="#F89F13"/>
<path d="M101.9 334.5 L116.0 334.7 L130.2 335.2 L144.3 336.1 L158.5 337.4 L172.6 339.0 L186.8 340.8 L200.9 343.0 L215.1 345.5 L229.2 348.2 L243.4 351.2 L257.5 354.3 L271.7 357.7 L285.8 361.3 L300.0 365.0 L314.1 368.9 L328.3 372.9 L342.4 377.0 L356.6 381.2 L370.7 385.6 L384.9 390.0 L399.0 394.6 L413.2 399.2 L427.3 403.8 L441.5 408.6 L455.6 413.4 L469.8 418.2 L483.9 423.1 L498.1 428.1 L512.2 433.1 L526.4 438.1 L540.5 443.2 L554.7 448.3 L568.8 453.4 L583.0 458.6 L597.1 463.8 L611.3 469.0 L625.4 474.2" stroke="#BC5B80"/>
<path d="M101.9 334.1 L116.1 334.3 L130.2 334.8 L144.4 335.7 L158.5 337.0 L172.7 338.5 L186.9 340.4 L201.0 342.6 L215.2 345.1 L229.4 347.9 L243.5 350.8 L257.7 354.0 L271.8 357.4 L286.0 361.0 L300.2 364.7 L314.3 368.6 L328.5 372.6 L342.6 376.8 L356.8 381.0 L371.0 385.4 L385.1 389.8 L399.3 394.4 L413.5 399.0 L427.6 403.7 L441.8 408.4 L455.9 413.2 L470.1 418.1 L484.3 423.0 L498.4 428.0 L512.6 433.0 L526.7 438.0 L540.9 443.1 L555.1 448.2 L569.2 453.4 L583.4 458.5 L597.5 463.7 L611.7 469.0 L625.9 474.2" stroke="#47B66D"/>
<path d="M101.9 333.6 L116.1 333.8 L130.2 334.4 L144.4 335.3 L158.6 336.5 L172.8 338.1 L186.9 340.1 L201.1 342.3 L215.3 344.7 L229.5 347.5 L243.6 350.5 L257.8 353.7 L272.0 357.1 L286.2 360.7 L300.3 364.4 L314.5 368.3 L328.7 372.4 L342.9 376.5 L357.0 380.8 L371.2 385.2 L385.4 389.6 L399.5 394.2 L413.7 398.8 L427.9 403.5 L442.1 408.3 L456.2 413.1 L470.4 418.0 L484.6 422.9 L498.8 427.9 L512.9 432.9 L527.1 438.0 L541.3 443.1 L555.5 448.2 L569.6 453.3 L583.8 458.5 L598.0 463.7 L612.2 468.9 L626.3 474.2" stroke="#5E81B5"/>
<path d="M101.9 333.2 L116.1 333.4 L130.3 333.9 L144.5 334.9 L158.6 336.1 L172.8 337.7 L187.0 339.7 L201.2 341.9 L215.4 344.4 L229.6 347.1 L243.8 350.1 L257.9 353.4 L272.1 356.8 L286.3 360.4 L300.5 364.1 L314.7 368.1 L328.9 372.1 L343.1 376.3 L357.2 380.6 L371.4 385.0 L385.6 389.5 L399.8 394.0 L414.0 398.7 L428.2 403.4 L442.4 408.2 L456.5 413.0 L470.7 417.9 L484.9 422.8 L499.1 427.8 L513.3 432.8 L527.5 437.9 L541.7 443.0 L555.8 448.1 L570.0 453.3 L584.2 458.5 L598.4 463.7 L612.6 468.9 L626.8 474.2" stroke="#E19C24"/>
<path d="M101.9 332.8 L116.1 333.0 L130.3 333.5 L144.5 334.4 L158.7 335.7 L172.9 337.3 L187.1 339.3 L201.3 341.5 L215.5 344.0 L229.7 346.8 L243.9 349.8 L258.1 353.0 L272.3 356.5 L286.5 360.1 L300.7 363.9 L314.9 367.8 L329.1 371.9 L343.3 376.1 L357.5 380.4 L371.7 384.8 L385.9 389.3 L400.1 393.9 L414.3 398.5 L428.5 403.2 L442.7 408.0 L456.8 412.9 L471.0 417.8 L485.2 422.7 L499.4 427.7 L513.6 432.8 L527.8 437.8 L542.0 442.9 L556.2 448.1 L570.4 453.3 L584.6 458.5 L598.8 463.7 L613.0 468.9 L627.2 474.2" stroke="#8FB032"/>
<path d="M101.9 332.3 L116.1 332.5 L130.3 333.1 L144.5 334.0 L158.7 335.3 L173.0 336.9 L187.2 338.9 L201.4 341.1 L215.6 343.6 L229.8 346.4 L244.0 349.5 L258.2 352.7 L272.4 356.2 L286.6 359.8 L300.8 363.6 L315.1 367.5 L329.3 371.6 L343.5 375.8 L357.7 380.2 L371.9 384.6 L386.1 389.1 L400.3 393.7 L414.5 398.3 L428.7 403.1 L442.9 407.9 L457.2 412.8 L471.4 417.7 L485.6 422.6 L499.8 427.6 L514.0 432.7 L528.2 437.8 L542.4 442.9 L556.6 448.0 L570.8 453.2 L585.0 458.4 L599.3 463.7 L613.5 468.9 L627.7 474.2" stroke="#EB6235"/>
<path d="M101.9 331.9 L116.1 332.1 L130.3 332.7 L144.6 333.6 L158.8 334.9 L173.0 336.5 L187.2 338.5 L201.5 340.7 L215.7 343.3 L229.9 346.1 L244.1 349.1 L258.3 352.4 L272.6 355.9 L286.8 359.5 L301.0 363.3 L315.2 367.3 L329.5 371.4 L343.7 375.6 L357.9 379.9 L372.1 384.4 L386.3 388.9 L400.6 393.5 L414.8 398.2 L429.0 402.9 L443.2 407.8 L457.5 412.6 L471.7 417.6 L485.9 422.5 L500.1 427.5 L514.3 432.6 L528.6 437.7 L542.8 442.8 L557.0 448.0 L571.2 453.2 L585.4 458.4 L599.7 463.6 L613.9 468.9 L628.1 474.2" stroke="#8778B3"/>
<path d="M101.9 331.5 L116.1 331.7 L130.4 332.2 L144.6 333.2 L158.8 334.5 L173.1 336.1 L187.3 338.1 L201.5 340.3 L215.8 342.9 L230.0 345.7 L244.2 348.8 L258.5 352.1 L272.7 355.6 L286.9 359.2 L301.2 363.0 L315.4 367.0 L329.6 371.1 L343.9 375.4 L358.1 379.7 L372.3 384.2 L386.6 388.7 L400.8 393.3 L415.0 398.0 L429.3 402.8 L443.5 407.6 L457.7 412.5 L472.0 417.4 L486.2 422.4 L500.5 427.5 L514.7 432.5 L528.9 437.6 L543.2 442.8 L557.4 447.9 L571.6 453.1 L585.9 458.4 L600.1 463.6 L614.3 468.9 L628.6 474.2" stroke="#C56E1A"/>
<path d="M101.9 331.0 L116.1 331.2 L130.4 331.8 L144.6 332.7 L158.9 334.0 L173.1 335.7 L187.4 337.7 L201.6 340.0 L215.9 342.5 L230.1 345.4 L244.4 348.5 L258.6 351.8 L272.8 355.3 L287.1 358.9 L301.3 362.8 L315.6 366.8 L329.8 370.9 L344.1 375.2 L358.3 379.5 L372.6 384.0 L386.8 388.5 L401.1 393.2 L415.3 397.9 L429.6 402.6 L443.8 407.5 L458.0 412.4 L472.3 417.3 L486.5 422.3 L500.8 427.4 L515.0 432.4 L529.3 437.6 L543.5 442.7 L557.8 447.9 L572.0 453.1 L586.3 458.3 L600.5 463.6 L614.7 468.9 L629.0 474.2" stroke="#5D9EC7"/>
<path d="M101.9 330.6 L116.2 330.8 L130.4 331.4 L144.7 332.3 L158.9 333.6 L173.2 335.3 L187.4 337.3 L201.7 339.6 L216.0 342.2 L230.2 345.0 L244.5 348.1 L258.7 351.4 L273.0 354.9 L287.2 358.6 L301.5 362.5 L315.8 366.5 L330.0 370.7 L344.3 374.9 L358.5 379.3 L372.8 383.8 L387.1 388.3 L401.3 393.0 L415.6 397.7 L429.8 402.5 L444.1 407.4 L458.3 412.3 L472.6 417.2 L486.9 422.2 L501.1 427.3 L515.4 432.4 L529.6 437.5 L543.9 442.7 L558.1 447.8 L572.4 453.1 L586.7 458.3 L600.9 463.6 L615.2 468.9 L629.4 474.2" stroke="#FFBF00"/>
<path d="M101.9 330.2 L116.2 330.3 L130.4 330.9 L144.7 331.9 L159.0 333.2 L173.2 334.9 L187.5 336.9 L201.8 339.2 L216.1 341.8 L230.3 344.7 L244.6 347.8 L258.9 351.1 L273.1 354.6 L287.4 358.4 L301.7 362.2 L315.9 366.3 L330.2 370.4 L344.5 374.7 L358.7 379.1 L373.0 383.6 L387.3 388.2 L401.6 392.8 L415.8 397.6 L430.1 402.4 L444.4 407.2 L458.6 412.1 L472.9 417.1 L487.2 422.1 L501.4 427.2 L515.7 432.3 L530.0 437.4 L544.2 442.6 L558.5 447.8 L572.8 453.0 L587.1 458.3 L601.3 463.6 L615.6 468.9 L629.9 474.2" stroke="#A5609D"/>
<path d="M101.9 329.7 L116.2 329.9 L130.5 330.5 L144.7 331.5 L159.0 332.8 L173.3 334.5 L187.6 336.5 L201.9 338.8 L216.1 341.4 L230.4 344.3 L244.7 347.5 L259.0 350.8 L273.3 354.3 L287.6 358.1 L301.8 362.0 L316.1 366.0 L330.4 370.2 L344.7 374.5 L359.0 378.9 L373.2 383.4 L387.5 388.0 L401.8 392.7 L416.1 397.4 L430.4 402.2 L444.6 407.1 L458.9 412.0 L473.2 417.0 L487.5 422.0 L501.8 427.1 L516.0 432.2 L530.3 437.4 L544.6 442.5 L558.9 447.8 L573.2 453.0 L587.5 458.3 L601.7 463.6 L616.0 468.9 L630.3 474.2" stroke="#929600"/>
<path d="M101.9 329.3 L116.2 329.5 L130.5 330.1 L144.8 331.0 L159.1 332.4 L173.4 334.1 L187.7 336.1 L201.9 338.4 L216.2 341.1 L230.5 344.0 L244.8 347.1 L259.1 350.5 L273.4 354.0 L287.7 357.8 L302.0 361.7 L316.3 365.7 L330.6 369.9 L344.9 374.2 L359.2 378.7 L373.5 383.2 L387.8 387.8 L402.0 392.5 L416.3 397.2 L430.6 402.1 L444.9 407.0 L459.2 411.9 L473.5 416.9 L487.8 421.9 L502.1 427.0 L516.4 432.1 L530.7 437.3 L545.0 442.5 L559.3 447.7 L573.6 453.0 L587.8 458.2 L602.1 463.5 L616.4 468.9 L630.7 474.2" stroke="#E95536"/>
<path d="M101.9 328.8 L116.2 329.0 L130.5 329.6 L144.8 330.6 L159.1 332.0 L173.4 333.7 L187.7 335.7 L202.0 338.1 L216.3 340.7 L230.6 343.6 L244.9 346.8 L259.2 350.2 L273.5 353.7 L287.9 357.5 L302.2 361.4 L316.5 365.5 L330.8 369.7 L345.1 374.0 L359.4 378.5 L373.7 383.0 L388.0 387.6 L402.3 392.3 L416.6 397.1 L430.9 401.9 L445.2 406.8 L459.5 411.8 L473.8 416.8 L488.1 421.8 L502.4 426.9 L516.7 432.1 L531.0 437.2 L545.3 442.4 L559.6 447.7 L573.9 452.9 L588.2 458.2 L602.5 463.5 L616.8 468.8 L631.1 474.2" stroke="#6685D9"/>
<path d="M101.9 328.4 L116.2 328.6 L130.5 329.2 L144.8 330.2 L159.2 331.6 L173.5 333.3 L187.8 335.3 L202.1 337.7 L216.4 340.4 L230.7 343.3 L245.1 346.5 L259.4 349.8 L273.7 353.4 L288.0 357.2 L302.3 361.2 L316.6 365.2 L330.9 369.5 L345.3 373.8 L359.6 378.3 L373.9 382.8 L388.2 387.4 L402.5 392.1 L416.8 396.9 L431.2 401.8 L445.5 406.7 L459.8 411.7 L474.1 416.7 L488.4 421.7 L502.7 426.8 L517.0 432.0 L531.4 437.2 L545.7 442.4 L560.0 447.6 L574.3 452.9 L588.6 458.2 L602.9 463.5 L617.3 468.8 L631.6 474.2" stroke="#F89F13"/>
<path d="M101.9 328.0 L116.2 328.2 L130.6 328.8 L144.9 329.8 L159.2 331.1 L173.5 332.9 L187.9 334.9 L202.2 337.3 L216.5 340.0 L230.8 342.9 L245.2 346.1 L259.5 349.5 L273.8 353.1 L288.1 356.9 L302.5 360.9 L316.8 365.0 L331.1 369.2 L345.5 373.6 L359.8 378.0 L374.1 382.6 L388.4 387.3 L402.8 392.0 L417.1 396.8 L431.4 401.6 L445.7 406.6 L460.1 411.5 L474.4 416.6 L488.7 421.6 L503.1 426.8 L517.4 431.9 L531.7 437.1 L546.0 442.3 L560.4 447.6 L574.7 452.9 L589.0 458.2 L603.3 463.5 L617.7 468.8 L632.0 474.2" stroke="#BC5B80"/>
<path d="M101.9 327.5 L116.2 327.7 L130.6 328.3 L144.9 329.3 L159.3 330.7 L173.6 332.5 L187.9 334.5 L202.3 336.9 L216.6 339.6 L230.9 342.6 L245.3 345.8 L259.6 349.2 L274.0 352.8 L288.3 356.6 L302.6 360.6 L317.0 364.7 L331.3 369.0 L345.6 373.4 L360.0 377.8 L374.3 382.4 L388.7 387.1 L403.0 391.8 L417.3 396.6 L431.7 401.5 L446.0 406.4 L460.4 411.4 L474.7 416.5 L489.0 421.6 L503.4 426.7 L517.7 431.8 L532.0 437.0 L546.4 442.3 L560.7 447.5 L575.1 452.8 L589.4 458.1 L603.7 463.5 L618.1 468.8 L632.4 474.2" stroke="#47B66D"/>
<path d="M101.9 327.1 L116.2 327.3 L130.6 327.9 L144.9 328.9 L159.3 330.3 L173.6 332.1 L188.0 334.1 L202.3 336.6 L216.7 339.3 L231.0 342.2 L245.4 345.5 L259.7 348.9 L274.1 352.5 L288.4 356.4 L302.8 360.4 L317.1 364.5 L331.5 368.8 L345.8 373.1 L360.2 377.6 L374.5 382.2 L388.9 386.9 L403.2 391.6 L417.6 396.5 L431.9 401.4 L446.3 406.3 L460.6 411.3 L475.0 416.4 L489.3 421.5 L503.7 426.6 L518.0 431.8 L532.4 437.0 L546.7 442.2 L561.1 447.5 L575.4 452.8 L589.8 458.1 L604.1 463.4 L618.5 468.8 L632.8 474.2" stroke="#5E81B5"/>
<path d="M101.9 326.7 L116.3 326.9 L130.6 327.5 L145.0 328.5 L159.3 329.9 L173.7 331.7 L188.1 333.8 L202.4 336.2 L216.8 338.9 L231.1 341.9 L245.5 345.1 L259.9 348.6 L274.2 352.2 L288.6 356.1 L302.9 360.1 L317.3 364.2 L331.7 368.5 L346.0 372.9 L360.4 377.4 L374.7 382.0 L389.1 386.7 L403.5 391.5 L417.8 396.3 L432.2 401.2 L446.6 406.2 L460.9 411.2 L475.3 416.3 L489.6 421.4 L504.0 426.5 L518.4 431.7 L532.7 436.9 L547.1 442.2 L561.4 447.4 L575.8 452.7 L590.2 458.1 L604.5 463.4 L618.9 468.8 L633.2 474.2" stroke="#E19C24"/>
<path d="M101.9 326.2 L116.3 326.4 L130.6 327.1 L145.0 328.1 L159.4 329.5 L173.8 331.2 L188.1 333.4 L202.5 335.8 L216.9 338.5 L231.2 341.5 L245.6 344.8 L260.0 348.3 L274.4 351.9 L288.7 355.8 L303.1 359.8 L317.5 364.0 L331.8 368.3 L346.2 372.7 L360.6 377.2 L375.0 381.8 L389.3 386.5 L403.7 391.3 L418.1 396.2 L432.4 401.1 L446.8 406.1 L461.2 411.1 L475.6 416.2 L489.9 421.3 L504.3 426.4 L518.7 431.6 L533.0 436.9 L547.4 442.1 L561.8 447.4 L576.2 452.7 L590.5 458.1 L604.9 463.4 L619.3 468.8 L633.6 474.2" stroke="#8FB032"/>
<path d="M101.9 325.8 L116.3 326.0 L130.7 326.6 L145.0 327.6 L159.4 329.1 L173.8 330.8 L188.2 333.0 L202.6 335.4 L217.0 338.2 L231.3 341.2 L245.7 344.5 L260.1 348.0 L274.5 351.7 L288.9 355.5 L303.3 359.6 L317.6 363.7 L332.0 368.1 L346.4 372.5 L360.8 377.0 L375.2 381.6 L389.6 386.4 L403.9 391.2 L418.3 396.0 L432.7 400.9 L447.1 405.9 L461.5 411.0 L475.8 416.0 L490.2 421.2 L504.6 426.3 L519.0 431.6 L533.4 436.8 L547.8 442.1 L562.1 447.4 L576.5 452.7 L590.9 458.0 L605.3 463.4 L619.7 468.8 L634.1 474.2" stroke="#EB6235"/>
<path d="M101.9 325.4 L116.3 325.6 L130.7 326.2 L145.1 327.2 L159.5 328.6 L173.9 330.4 L188.3 332.6 L202.7 335.1 L217.0 337.8 L231.4 340.9 L245.8 344.1 L260.2 347.6 L274.6 351.4 L289.0 355.2 L303.4 359.3 L317.8 363.5 L332.2 367.8 L346.6 372.3 L361.0 376.8 L375.4 381.5 L389.8 386.2 L404.2 391.0 L418.6 395.9 L433.0 400.8 L447.3 405.8 L461.7 410.9 L476.1 415.9 L490.5 421.1 L504.9 426.3 L519.3 431.5 L533.7 436.7 L548.1 442.0 L562.5 447.3 L576.9 452.6 L591.3 458.0 L605.7 463.4 L620.1 468.8 L634.5 474.2" stroke="#8778B3"/>
<path d="M101.9 324.9 L115.9 325.1 L130.0 325.7 L144.0 326.7 L158.0 328.1 L172.0 329.8 L186.1 331.8 L200.1 334.2 L214.1 336.9 L228.1 339.8 L242.2 342.9 L256.2 346.3 L270.2 349.9 L284.2 353.6 L298.3 357.5 L312.3 361.6 L326.3 365.7 L340.3 370.0 L354.4 374.4 L368.4 378.9 L382.4 383.5 L396.4 388.2 L410.5 392.9 L424.5 397.7 L438.5 402.5 L452.5 407.4 L466.6 412.3 L480.6 417.3 L494.6 422.4 L508.6 427.4 L522.7 432.5 L536.7 437.6 L550.7 442.8 L564.7 448.0 L578.8 453.2 L592.8 458.4 L606.8 463.6 L620.8 468.9 L634.9 474.2" stroke="#C56E1A"/>
<path d="M101.9 324.5 L115.9 324.7 L130.0 325.3 L144.0 326.3 L158.0 327.6 L172.1 329.4 L186.1 331.4 L200.2 333.8 L214.2 336.5 L228.2 339.4 L242.3 342.6 L256.3 346.0 L270.3 349.6 L284.4 353.3 L298.4 357.3 L312.4 361.3 L326.5 365.5 L340.5 369.8 L354.5 374.2 L368.6 378.7 L382.6 383.3 L396.7 388.0 L410.7 392.7 L424.7 397.5 L438.8 402.4 L452.8 407.3 L466.8 412.2 L480.9 417.2 L494.9 422.3 L508.9 427.3 L523.0 432.4 L537.0 437.6 L551.1 442.7 L565.1 447.9 L579.1 453.1 L593.2 458.4 L607.2 463.6 L621.2 468.9 L635.3 474.2" stroke="#5D9EC7"/>
<path d="M101.9 324.0 L115.9 324.2 L130.0 324.9 L144.0 325.9 L158.1 327.2 L172.1 329.0 L186.2 331.1 L200.2 333.4 L214.3 336.1 L228.3 339.1 L242.4 342.3 L256.4 345.7 L270.5 349.3 L284.5 353.0 L298.6 357.0 L312.6 361.1 L326.6 365.3 L340.7 369.6 L354.7 374.0 L368.8 378.5 L382.8 383.1 L396.9 387.8 L410.9 392.6 L425.0 397.4 L439.0 402.2 L453.1 407.2 L467.1 412.1 L481.2 417.1 L495.2 422.2 L509.2 427.3 L523.3 432.4 L537.3 437.5 L551.4 442.7 L565.4 447.9 L579.5 453.1 L593.5 458.4 L607.6 463.6 L621.6 468.9 L635.7 474.2" stroke="#FFBF00"/>
<path d="M101.9 323.6 L116.0 323.8 L130.0 324.4 L144.1 325.4 L158.1 326.8 L172.2 328.6 L186.2 330.7 L200.3 333.1 L214.4 335.8 L228.4 338.7 L242.5 341.9 L256.5 345.4 L270.6 349.0 L284.6 352.8 L298.7 356.7 L312.8 360.8 L326.8 365.0 L340.9 369.4 L354.9 373.8 L369.0 378.3 L383.0 383.0 L397.1 387.7 L411.2 392.4 L425.2 397.2 L439.3 402.1 L453.3 407.0 L467.4 412.0 L481.4 417.0 L495.5 422.1 L509.5 427.2 L523.6 432.3 L537.7 437.5 L551.7 442.6 L565.8 447.8 L579.8 453.1 L593.9 458.3 L607.9 463.6 L622.0 468.9 L636.1 474.2" stroke="#A5609D"/>
<path d="M101.9 323.2 L116.0 323.4 L130.0 324.0 L144.1 325.0 L158.2 326.4 L172.2 328.2 L186.3 330.3 L200.4 332.7 L214.4 335.4 L228.5 338.4 L242.6 341.6 L256.6 345.0 L270.7 348.7 L284.8 352.5 L298.8 356.5 L312.9 360.6 L327.0 364.8 L341.0 369.2 L355.1 373.6 L369.2 378.2 L383.2 382.8 L397.3 387.5 L411.4 392.3 L425.4 397.1 L439.5 402.0 L453.6 406.9 L467.6 411.9 L481.7 416.9 L495.8 422.0 L509.8 427.1 L523.9 432.2 L538.0 437.4 L552.1 442.6 L566.1 447.8 L580.2 453.0 L594.3 458.3 L608.3 463.6 L622.4 468.9 L636.5 474.2" stroke="#929600"/>
<path d="M101.9 322.7 L116.0 322.9 L130.1 323.6 L144.1 324.6 L158.2 326.0 L172.3 327.8 L186.4 329.9 L200.4 332.3 L214.5 335.0 L228.6 338.0 L242.7 341.3 L256.8 344.7 L270.8 348.4 L284.9 352.2 L299.0 356.2 L313.1 360.3 L327.1 364.6 L341.2 368.9 L355.3 373.4 L369.4 378.0 L383.5 382.6 L397.5 387.3 L411.6 392.1 L425.7 397.0 L439.8 401.9 L453.8 406.8 L467.9 411.8 L482.0 416.8 L496.1 421.9 L510.1 427.0 L524.2 432.2 L538.3 437.3 L552.4 442.5 L566.5 447.8 L580.5 453.0 L594.6 458.3 L608.7 463.6 L622.8 468.9 L636.8 474.2" stroke="#E95536"/>
<path d="M101.9 322.3 L116.0 322.5 L130.1 323.1 L144.2 324.2 L158.3 325.6 L172.3 327.4 L186.4 329.5 L200.5 331.9 L214.6 334.7 L228.7 337.7 L242.8 340.9 L256.9 344.4 L271.0 348.1 L285.0 351.9 L299.1 355.9 L313.2 360.1 L327.3 364.3 L341.4 368.7 L355.5 373.2 L369.6 377.8 L383.7 382.4 L397.7 387.2 L411.8 392.0 L425.9 396.8 L440.0 401.7 L454.1 406.7 L468.2 411.7 L482.3 416.7 L496.4 421.8 L510.4 426.9 L524.5 432.1 L538.6 437.3 L552.7 442.5 L566.8 447.7 L580.9 453.0 L595.0 458.3 L609.1 463.6 L623.1 468.9 L637.2 474.2" stroke="#6685D9"/>
<path d="M101.9 321.9 L116.0 322.1 L130.1 322.7 L144.2 323.7 L158.3 325.2 L172.4 327.0 L186.5 329.1 L200.6 331.6 L214.7 334.3 L228.8 337.3 L242.9 340.6 L257.0 344.1 L271.1 347.8 L285.2 351.6 L299.3 355.7 L313.4 359.8 L327.5 364.1 L341.6 368.5 L355.7 373.0 L369.8 377.6 L383.9 382.3 L398.0 387.0 L412.1 391.8 L426.2 396.7 L440.3 401.6 L454.3 406.6 L468.4 411.6 L482.5 416.6 L496.6 421.7 L510.7 426.9 L524.8 432.0 L538.9 437.2 L553.0 442.4 L567.1 447.7 L581.2 452.9 L595.3 458.2 L609.4 463.5 L623.5 468.9 L637.6 474.2" stroke="#F89F13"/>
<path d="M101.9 321.4 L116.0 321.6 L130.1 322.3 L144.2 323.3 L158.3 324.7 L172.4 326.6 L186.5 328.7 L200.7 331.2 L214.8 334.0 L228.9 337.0 L243.0 340.3 L257.1 343.8 L271.2 347.5 L285.3 351.4 L299.4 355.4 L313.5 359.6 L327.6 363.9 L341.7 368.3 L355.8 372.8 L370.0 377.4 L384.1 382.1 L398.2 386.8 L412.3 391.6 L426.4 396.5 L440.5 401.5 L454.6 406.4 L468.7 411.5 L482.8 416.5 L496.9 421.6 L511.0 426.8 L525.1 432.0 L539.3 437.2 L553.4 442.4 L567.5 447.6 L581.6 452.9 L595.7 458.2 L609.8 463.5 L623.9 468.9 L638.0 474.2" stroke="#BC5B80"/>
<path d="M101.9 321.0 L116.0 321.2 L130.1 321.8 L144.3 322.9 L158.4 324.3 L172.5 326.1 L186.6 328.3 L200.7 330.8 L214.8 333.6 L229.0 336.7 L243.1 340.0 L257.2 343.5 L271.3 347.2 L285.4 351.1 L299.6 355.1 L313.7 359.3 L327.8 363.6 L341.9 368.1 L356.0 372.6 L370.1 377.2 L384.3 381.9 L398.4 386.7 L412.5 391.5 L426.6 396.4 L440.7 401.3 L454.9 406.3 L469.0 411.4 L483.1 416.4 L497.2 421.6 L511.3 426.7 L525.4 431.9 L539.6 437.1 L553.7 442.3 L567.8 447.6 L581.9 452.9 L596.0 458.2 L610.2 463.5 L624.3 468.8 L638.4 474.2" stroke="#47B66D"/>
<path d="M101.9 320.5 L116.0 320.8 L130.2 321.4 L144.3 322.5 L158.4 323.9 L172.5 325.7 L186.7 327.9 L200.8 330.4 L214.9 333.2 L229.1 336.3 L243.2 339.6 L257.3 343.2 L271.4 346.9 L285.6 350.8 L299.7 354.9 L313.8 359.1 L328.0 363.4 L342.1 367.8 L356.2 372.4 L370.3 377.0 L384.5 381.7 L398.6 386.5 L412.7 391.3 L426.8 396.3 L441.0 401.2 L455.1 406.2 L469.2 411.3 L483.4 416.4 L497.5 421.5 L511.6 426.6 L525.7 431.8 L539.9 437.0 L554.0 442.3 L568.1 447.6 L582.3 452.8 L596.4 458.2 L610.5 463.5 L624.6 468.8 L638.8 474.2" stroke="#5E81B5"/>
<path d="M101.9 320.1 L116.0 320.3 L130.2 321.0 L144.3 322.0 L158.5 323.5 L172.6 325.3 L186.7 327.5 L200.9 330.1 L215.0 332.9 L229.1 336.0 L243.3 339.3 L257.4 342.9 L271.6 346.6 L285.7 350.5 L299.8 354.6 L314.0 358.8 L328.1 363.2 L342.2 367.6 L356.4 372.2 L370.5 376.8 L384.7 381.5 L398.8 386.3 L412.9 391.2 L427.1 396.1 L441.2 401.1 L455.4 406.1 L469.5 411.2 L483.6 416.3 L497.8 421.4 L511.9 426.6 L526.0 431.8 L540.2 437.0 L554.3 442.2 L568.5 447.5 L582.6 452.8 L596.7 458.1 L610.9 463.5 L625.0 468.8 L639.1 474.2" stroke="#E19C24"/>
<path d="M101.9 319.7 L116.0 319.9 L130.2 320.5 L144.3 321.6 L158.5 323.1 L172.6 324.9 L186.8 327.2 L200.9 329.7 L215.1 332.5 L229.2 335.6 L243.4 339.0 L257.5 342.6 L271.7 346.3 L285.8 350.3 L300.0 354.4 L314.1 358.6 L328.3 363.0 L342.4 367.4 L356.6 372.0 L370.7 376.6 L384.9 381.4 L399.0 386.2 L413.2 391.0 L427.3 396.0 L441.5 401.0 L455.6 406.0 L469.7 411.1 L483.9 416.2 L498.0 421.3 L512.2 426.5 L526.3 431.7 L540.5 436.9 L554.6 442.2 L568.8 447.5 L582.9 452.8 L597.1 458.1 L611.2 463.5 L625.4 468.8 L639.5 474.2" stroke="#8FB032"/>
<path d="M101.9 319.2 L116.1 319.4 L130.2 320.1 L144.4 321.2 L158.5 322.7 L172.7 324.5 L186.8 326.8 L201.0 329.3 L215.2 332.2 L229.3 335.3 L243.5 338.7 L257.6 342.3 L271.8 346.0 L286.0 350.0 L300.1 354.1 L314.3 358.4 L328.4 362.7 L342.6 367.2 L356.7 371.8 L370.9 376.5 L385.1 381.2 L399.2 386.0 L413.4 390.9 L427.5 395.8 L441.7 400.8 L455.8 405.9 L470.0 410.9 L484.2 416.1 L498.3 421.2 L512.5 426.4 L526.6 431.6 L540.8 436.9 L555.0 442.1 L569.1 447.4 L583.3 452.8 L597.4 458.1 L611.6 463.4 L625.7 468.8 L639.9 474.2" stroke="#EB6235"/>
<path d="M101.9 318.8 L116.1 319.0 L130.2 319.7 L144.4 320.8 L158.6 322.2 L172.7 324.1 L186.9 326.4 L201.1 328.9 L215.2 331.8 L229.4 335.0 L243.6 338.3 L257.7 341.9 L271.9 345.7 L286.1 349.7 L300.2 353.8 L314.4 358.1 L328.6 362.5 L342.7 367.0 L356.9 371.6 L371.1 376.3 L385.3 381.0 L399.4 385.9 L413.6 390.8 L427.8 395.7 L441.9 400.7 L456.1 405.8 L470.3 410.8 L484.4 416.0 L498.6 421.1 L512.8 426.3 L526.9 431.6 L541.1 436.8 L555.3 442.1 L569.4 447.4 L583.6 452.7 L597.8 458.1 L611.9 463.4 L626.1 468.8 L640.3 474.2" stroke="#8778B3"/>
<path d="M101.9 318.3 L116.1 318.6 L130.3 319.2 L144.4 320.3 L158.6 321.8 L172.8 323.7 L187.0 326.0 L201.1 328.6 L215.3 331.5 L229.5 334.6 L243.7 338.0 L257.9 341.6 L272.0 345.5 L286.2 349.4 L300.4 353.6 L314.6 357.9 L328.7 362.3 L342.9 366.8 L357.1 371.4 L371.3 376.1 L385.4 380.9 L399.6 385.7 L413.8 390.6 L428.0 395.6 L442.2 400.6 L456.3 405.6 L470.5 410.7 L484.7 415.9 L498.9 421.1 L513.0 426.3 L527.2 431.5 L541.4 436.8 L555.6 442.0 L569.8 447.4 L583.9 452.7 L598.1 458.0 L612.3 463.4 L626.5 468.8 L640.6 474.2" stroke="#C56E1A"/>
<path d="M101.9 317.9 L116.1 318.1 L130.3 318.8 L144.5 319.9 L158.6 321.4 L172.8 323.3 L187.0 325.6 L201.2 328.2 L215.4 331.1 L229.6 334.3 L243.8 337.7 L258.0 341.3 L272.1 345.2 L286.3 349.2 L300.5 353.3 L314.7 357.6 L328.9 362.0 L343.1 366.6 L357.3 371.2 L371.5 375.9 L385.6 380.7 L399.8 385.5 L414.0 390.5 L428.2 395.4 L442.4 400.5 L456.6 405.5 L470.8 410.6 L485.0 415.8 L499.1 421.0 L513.3 426.2 L527.5 431.4 L541.7 436.7 L555.9 442.0 L570.1 447.3 L584.3 452.7 L598.4 458.0 L612.6 463.4 L626.8 468.8 L641.0 474.2" stroke="#5D9EC7"/>
<path d="M101.9 317.5 L116.1 317.7 L130.3 318.4 L144.5 319.5 L158.7 321.0 L172.9 322.9 L187.1 325.2 L201.3 327.8 L215.5 330.7 L229.7 333.9 L243.9 337.4 L258.1 341.0 L272.3 344.9 L286.5 348.9 L300.7 353.1 L314.9 357.4 L329.0 361.8 L343.2 366.4 L357.4 371.0 L371.6 375.7 L385.8 380.5 L400.0 385.4 L414.2 390.3 L428.4 395.3 L442.6 400.3 L456.8 405.4 L471.0 410.5 L485.2 415.7 L499.4 420.9 L513.6 426.1 L527.8 431.4 L542.0 436.6 L556.2 442.0 L570.4 447.3 L584.6 452.6 L598.8 458.0 L613.0 463.4 L627.2 468.8 L641.4 474.2" stroke="#FFBF00"/>
<path d="M101.9 317.0 L116.1 317.2 L130.3 317.9 L144.5 319.0 L158.7 320.6 L172.9 322.5 L187.1 324.8 L201.3 327.4 L215.6 330.4 L229.8 333.6 L244.0 337.0 L258.2 340.7 L272.4 344.6 L286.6 348.6 L300.8 352.8 L315.0 357.1 L329.2 361.6 L343.4 366.1 L357.6 370.8 L371.8 375.5 L386.0 380.3 L400.2 385.2 L414.4 390.2 L428.6 395.2 L442.9 400.2 L457.1 405.3 L471.3 410.4 L485.5 415.6 L499.7 420.8 L513.9 426.0 L528.1 431.3 L542.3 436.6 L556.5 441.9 L570.7 447.2 L584.9 452.6 L599.1 458.0 L613.3 463.4 L627.5 468.8 L641.7 474.2" stroke="#A5609D"/>
<path d="M101.9 316.6 L116.1 316.8 L130.3 317.5 L144.5 318.6 L158.8 320.1 L173.0 322.1 L187.2 324.4 L201.4 327.1 L215.6 330.0 L229.8 333.2 L244.1 336.7 L258.3 340.4 L272.5 344.3 L286.7 348.3 L300.9 352.6 L315.1 356.9 L329.4 361.4 L343.6 365.9 L357.8 370.6 L372.0 375.3 L386.2 380.2 L400.4 385.1 L414.7 390.0 L428.9 395.0 L443.1 400.1 L457.3 405.2 L471.5 410.3 L485.7 415.5 L500.0 420.7 L514.2 426.0 L528.4 431.2 L542.6 436.5 L556.8 441.9 L571.0 447.2 L585.2 452.6 L599.5 458.0 L613.7 463.4 L627.9 468.8 L642.1 474.2" stroke="#929600"/>
<path d="M101.9 316.1 L116.1 316.3 L130.4 317.0 L144.6 318.2 L158.8 319.7 L173.0 321.7 L187.3 324.0 L201.5 326.7 L215.7 329.7 L229.9 332.9 L244.2 336.4 L258.4 340.1 L272.6 344.0 L286.8 348.1 L301.1 352.3 L315.3 356.7 L329.5 361.1 L343.7 365.7 L358.0 370.4 L372.2 375.2 L386.4 380.0 L400.6 384.9 L414.9 389.9 L429.1 394.9 L443.3 400.0 L457.5 405.1 L471.8 410.2 L486.0 415.4 L500.2 420.6 L514.4 425.9 L528.7 431.2 L542.9 436.5 L557.1 441.8 L571.3 447.2 L585.6 452.5 L599.8 457.9 L614.0 463.3 L628.3 468.8 L642.5 474.2" stroke="#E95536"/>
<path d="M101.9 315.7 L116.1 315.9 L130.4 316.6 L144.6 317.7 L158.8 319.3 L173.1 321.3 L187.3 323.6 L201.5 326.3 L215.8 329.3 L230.0 332.6 L244.3 336.1 L258.5 339.8 L272.7 343.7 L287.0 347.8 L301.2 352.0 L315.4 356.4 L329.7 360.9 L343.9 365.5 L358.1 370.2 L372.4 375.0 L386.6 379.8 L400.8 384.7 L415.1 389.7 L429.3 394.8 L443.5 399.8 L457.8 405.0 L472.0 410.1 L486.3 415.3 L500.5 420.6 L514.7 425.8 L529.0 431.1 L543.2 436.4 L557.4 441.8 L571.7 447.1 L585.9 452.5 L600.1 457.9 L614.4 463.3 L628.6 468.8 L642.8 474.2" stroke="#6685D9"/>
<path d="M101.9 315.2 L116.1 315.4 L130.4 316.1 L144.6 317.3 L158.9 318.9 L173.1 320.9 L187.4 323.2 L201.6 325.9 L215.9 328.9 L230.1 332.2 L244.3 335.7 L258.6 339.5 L272.8 343.4 L287.1 347.5 L301.3 351.8 L315.6 356.2 L329.8 360.7 L344.1 365.3 L358.3 370.0 L372.6 374.8 L386.8 379.7 L401.0 384.6 L415.3 389.6 L429.5 394.6 L443.8 399.7 L458.0 404.8 L472.3 410.0 L486.5 415.2 L500.8 420.5 L515.0 425.7 L529.2 431.0 L543.5 436.4 L557.7 441.7 L572.0 447.1 L586.2 452.5 L600.5 457.9 L614.7 463.3 L629.0 468.7 L643.2 474.2" stroke="#F89F13"/>
<path d="M101.9 314.7 L116.2 315.0 L130.4 315.7 L144.7 316.8 L158.9 318.4 L173.2 320.4 L187.4 322.8 L201.7 325.5 L215.9 328.6 L230.2 331.9 L244.4 335.4 L258.7 339.2 L273.0 343.1 L287.2 347.2 L301.5 351.5 L315.7 355.9 L330.0 360.4 L344.2 365.1 L358.5 369.8 L372.7 374.6 L387.0 379.5 L401.2 384.4 L415.5 389.4 L429.8 394.5 L444.0 399.6 L458.3 404.7 L472.5 409.9 L486.8 415.1 L501.0 420.4 L515.3 425.7 L529.5 431.0 L543.8 436.3 L558.0 441.7 L572.3 447.0 L586.6 452.4 L600.8 457.9 L615.1 463.3 L629.3 468.7 L643.6 474.2" stroke="#BC5B80"/>
<path d="M101.9 314.3 L116.2 314.5 L130.4 315.2 L144.7 316.4 L159.0 318.0 L173.2 320.0 L187.5 322.4 L201.7 325.1 L216.0 328.2 L230.3 331.5 L244.5 335.1 L258.8 338.8 L273.1 342.8 L287.3 347.0 L301.6 351.3 L315.9 355.7 L330.1 360.2 L344.4 364.9 L358.7 369.6 L372.9 374.4 L387.2 379.3 L401.4 384.3 L415.7 389.3 L430.0 394.3 L444.2 399.5 L458.5 404.6 L472.8 409.8 L487.0 415.0 L501.3 420.3 L515.6 425.6 L529.8 430.9 L544.1 436.3 L558.4 441.6 L572.6 447.0 L586.9 452.4 L601.1 457.8 L615.4 463.3 L629.7 468.7 L643.9 474.2" stroke="#47B66D"/>
<path d="M101.9 313.8 L116.2 314.0 L130.4 314.8 L144.7 315.9 L159.0 317.6 L173.3 319.6 L187.5 322.0 L201.8 324.8 L216.1 327.8 L230.4 331.2 L244.6 334.7 L258.9 338.5 L273.2 342.5 L287.5 346.7 L301.7 351.0 L316.0 355.4 L330.3 360.0 L344.6 364.6 L358.8 369.4 L373.1 374.2 L387.4 379.1 L401.6 384.1 L415.9 389.1 L430.2 394.2 L444.5 399.3 L458.7 404.5 L473.0 409.7 L487.3 414.9 L501.6 420.2 L515.8 425.5 L530.1 430.8 L544.4 436.2 L558.7 441.6 L572.9 447.0 L587.2 452.4 L601.5 457.8 L615.8 463.3 L630.0 468.7 L644.3 474.2" stroke="#5E81B5"/>
<path d="M101.9 313.3 L116.2 313.6 L130.5 314.3 L144.8 315.5 L159.0 317.1 L173.3 319.2 L187.6 321.6 L201.9 324.4 L216.2 327.4 L230.5 330.8 L244.7 334.4 L259.0 338.2 L273.3 342.2 L287.6 346.4 L301.9 350.7 L316.2 355.2 L330.4 359.8 L344.7 364.4 L359.0 369.2 L373.3 374.0 L387.6 379.0 L401.9 383.9 L416.1 389.0 L430.4 394.1 L444.7 399.2 L459.0 404.4 L473.3 409.6 L487.6 414.8 L501.8 420.1 L516.1 425.4 L530.4 430.8 L544.7 436.1 L559.0 441.5 L573.3 446.9 L587.5 452.4 L601.8 457.8 L616.1 463.2 L630.4 468.7 L644.7 474.2" stroke="#E19C24"/>
<path d="M101.9 312.8 L116.2 313.1 L130.5 313.8 L144.8 315.0 L159.1 316.7 L173.4 318.7 L187.7 321.2 L202.0 324.0 L216.2 327.1 L230.5 330.4 L244.8 334.1 L259.1 337.9 L273.4 341.9 L287.7 346.1 L302.0 350.5 L316.3 354.9 L330.6 359.5 L344.9 364.2 L359.2 369.0 L373.5 373.8 L387.8 378.8 L402.1 383.8 L416.4 388.8 L430.6 393.9 L444.9 399.1 L459.2 404.3 L473.5 409.5 L487.8 414.8 L502.1 420.0 L516.4 425.4 L530.7 430.7 L545.0 436.1 L559.3 441.5 L573.6 446.9 L587.9 452.3 L602.2 457.8 L616.5 463.2 L630.7 468.7 L645.0 474.2" stroke="#8FB032"/>
<path d="M101.9 312.4 L116.2 312.6 L130.5 313.3 L144.8 314.5 L159.1 316.2 L173.4 318.3 L187.7 320.7 L202.0 323.5 L216.3 326.7 L230.6 330.1 L244.9 333.7 L259.2 337.6 L273.5 341.6 L287.8 345.8 L302.1 350.2 L316.4 354.7 L330.7 359.3 L345.1 364.0 L359.4 368.8 L373.7 373.7 L388.0 378.6 L402.3 383.6 L416.6 388.7 L430.9 393.8 L445.2 398.9 L459.5 404.1 L473.8 409.4 L488.1 414.7 L502.4 420.0 L516.7 425.3 L531.0 430.6 L545.3 436.0 L559.6 441.4 L573.9 446.8 L588.2 452.3 L602.5 457.7 L616.8 463.2 L631.1 468.7 L645.4 474.2" stroke="#EB6235"/>
<path d="M101.9 311.9 L116.2 312.1 L130.5 312.8 L144.8 314.1 L159.2 315.7 L173.5 317.8 L187.8 320.3 L202.1 323.1 L216.4 326.3 L230.7 329.7 L245.0 333.4 L259.3 337.2 L273.7 341.3 L288.0 345.5 L302.3 349.9 L316.6 354.4 L330.9 359.0 L345.2 363.8 L359.5 368.6 L373.8 373.5 L388.2 378.4 L402.5 383.4 L416.8 388.5 L431.1 393.6 L445.4 398.8 L459.7 404.0 L474.0 409.3 L488.4 414.6 L502.7 419.9 L517.0 425.2 L531.3 430.6 L545.6 436.0 L559.9 441.4 L574.2 446.8 L588.5 452.3 L602.9 457.7 L617.2 463.2 L631.5 468.7 L645.8 474.2" stroke="#8778B3"/>
<path d="M101.9 311.3 L116.2 311.6 L130.5 312.3 L144.9 313.6 L159.2 315.3 L173.5 317.4 L187.8 319.9 L202.2 322.7 L216.5 325.9 L230.8 329.3 L245.1 333.0 L259.5 336.9 L273.8 341.0 L288.1 345.2 L302.4 349.6 L316.7 354.2 L331.1 358.8 L345.4 363.5 L359.7 368.4 L374.0 373.3 L388.4 378.2 L402.7 383.3 L417.0 388.4 L431.3 393.5 L445.7 398.7 L460.0 403.9 L474.3 409.2 L488.6 414.5 L503.0 419.8 L517.3 425.1 L531.6 430.5 L545.9 435.9 L560.2 441.3 L574.6 446.8 L588.9 452.2 L603.2 457.7 L617.5 463.2 L631.9 468.7 L646.2 474.2" stroke="#C56E1A"/>
<path d="M101.9 310.8 L116.2 311.1 L130.6 311.8 L144.9 313.1 L159.2 314.8 L173.6 316.9 L187.9 319.4 L202.2 322.3 L216.6 325.5 L230.9 328.9 L245.2 332.6 L259.6 336.5 L273.9 340.6 L288.2 344.9 L302.6 349.3 L316.9 353.9 L331.2 358.5 L345.6 363.3 L359.9 368.1 L374.2 373.1 L388.6 378.0 L402.9 383.1 L417.2 388.2 L431.6 393.3 L445.9 398.5 L460.2 403.8 L474.6 409.1 L488.9 414.4 L503.2 419.7 L517.6 425.1 L531.9 430.4 L546.2 435.8 L560.6 441.3 L574.9 446.7 L589.2 452.2 L603.6 457.7 L617.9 463.2 L632.2 468.7 L646.6 474.2" stroke="#5D9EC7"/>
<path d="M101.9 310.3 L116.2 310.5 L130.6 311.3 L144.9 312.5 L159.3 314.3 L173.6 316.4 L188.0 318.9 L202.3 321.8 L216.7 325.0 L231.0 328.5 L245.3 332.2 L259.7 336.2 L274.0 340.3 L288.4 344.6 L302.7 349.0 L317.1 353.6 L331.4 358.3 L345.8 363.1 L360.1 367.9 L374.4 372.8 L388.8 377.9 L403.1 382.9 L417.5 388.0 L431.8 393.2 L446.2 398.4 L460.5 403.7 L474.8 408.9 L489.2 414.3 L503.5 419.6 L517.9 425.0 L532.2 430.4 L546.6 435.8 L560.9 441.2 L575.3 446.7 L589.6 452.2 L603.9 457.6 L618.3 463.2 L632.6 468.7 L647.0 474.2" stroke="#FFBF00"/>
<path d="M101.9 309.7 L116.3 310.0 L130.6 310.7 L145.0 312.0 L159.3 313.7 L173.7 315.9 L188.0 318.5 L202.4 321.4 L216.7 324.6 L231.1 328.1 L245.4 331.9 L259.8 335.8 L274.2 340.0 L288.5 344.3 L302.9 348.7 L317.2 353.3 L331.6 358.0 L345.9 362.8 L360.3 367.7 L374.6 372.6 L389.0 377.7 L403.4 382.7 L417.7 387.9 L432.1 393.0 L446.4 398.3 L460.8 403.5 L475.1 408.8 L489.5 414.1 L503.8 419.5 L518.2 424.9 L532.5 430.3 L546.9 435.7 L561.3 441.2 L575.6 446.6 L590.0 452.1 L604.3 457.6 L618.7 463.1 L633.0 468.7 L647.4 474.2" stroke="#A5609D"/>
<path d="M101.9 309.1 L116.3 309.4 L130.6 310.2 L145.0 311.4 L159.4 313.2 L173.7 315.4 L188.1 318.0 L202.5 320.9 L216.8 324.1 L231.2 327.7 L245.6 331.4 L259.9 335.4 L274.3 339.6 L288.7 343.9 L303.0 348.4 L317.4 353.0 L331.8 357.7 L346.1 362.6 L360.5 367.4 L374.9 372.4 L389.2 377.4 L403.6 382.5 L418.0 387.7 L432.3 392.9 L446.7 398.1 L461.1 403.4 L475.4 408.7 L489.8 414.0 L504.2 419.4 L518.5 424.8 L532.9 430.2 L547.3 435.7 L561.6 441.1 L576.0 446.6 L590.3 452.1 L604.7 457.6 L619.1 463.1 L633.4 468.7 L647.8 474.2" stroke="#929600"/>
<path d="M101.9 308.5 L116.3 308.8 L130.7 309.6 L145.0 310.8 L159.4 312.6 L173.8 314.8 L188.2 317.4 L202.5 320.4 L216.9 323.7 L231.3 327.2 L245.7 331.0 L260.1 335.0 L274.4 339.2 L288.8 343.6 L303.2 348.1 L317.6 352.7 L331.9 357.5 L346.3 362.3 L360.7 367.2 L375.1 372.2 L389.5 377.2 L403.8 382.3 L418.2 387.5 L432.6 392.7 L447.0 398.0 L461.3 403.3 L475.7 408.6 L490.1 413.9 L504.5 419.3 L518.9 424.7 L533.2 430.1 L547.6 435.6 L562.0 441.1 L576.4 446.5 L590.7 452.0 L605.1 457.6 L619.5 463.1 L633.9 468.6 L648.3 474.2" stroke="#E95536"/>
<path d="M101.9 307.9 L116.3 308.1 L130.7 308.9 L145.1 310.2 L159.5 312.0 L173.8 314.2 L188.2 316.9 L202.6 319.9 L217.0 323.2 L231.4 326.8 L245.8 330.6 L260.2 334.6 L274.6 338.8 L289.0 343.2 L303.4 347.8 L317.7 352.4 L332.1 357.2 L346.5 362.0 L360.9 366.9 L375.3 371.9 L389.7 377.0 L404.1 382.1 L418.5 387.3 L432.9 392.5 L447.3 397.8 L461.6 403.1 L476.0 408.4 L490.4 413.8 L504.8 419.2 L519.2 424.6 L533.6 430.1 L548.0 435.5 L562.4 441.0 L576.8 446.5 L591.2 452.0 L605.5 457.5 L619.9 463.1 L634.3 468.6 L648.7 474.2" stroke="#6685D9"/>
<path d="M101.9 307.2 L115.9 307.4 L130.0 308.2 L144.0 309.5 L158.0 311.2 L172.1 313.3 L186.1 315.9 L200.1 318.7 L214.2 321.9 L228.2 325.4 L242.2 329.1 L256.3 333.0 L270.3 337.1 L284.3 341.4 L298.4 345.7 L312.4 350.3 L326.4 354.9 L340.5 359.6 L354.5 364.4 L368.5 369.2 L382.6 374.2 L396.6 379.1 L410.6 384.2 L424.7 389.3 L438.7 394.4 L452.7 399.5 L466.8 404.7 L480.8 410.0 L494.8 415.2 L508.9 420.5 L522.9 425.8 L536.9 431.1 L551.0 436.4 L565.0 441.8 L579.0 447.1 L593.1 452.5 L607.1 457.9 L621.1 463.3 L635.2 468.8 L649.2 474.2" stroke="#F89F13"/>
<path d="M101.9 306.4 L115.9 306.7 L130.0 307.5 L144.0 308.8 L158.1 310.5 L172.1 312.7 L186.2 315.2 L200.2 318.2 L214.3 321.4 L228.3 324.9 L242.4 328.6 L256.4 332.5 L270.5 336.7 L284.5 340.9 L298.5 345.4 L312.6 349.9 L326.6 354.5 L340.7 359.3 L354.7 364.1 L368.8 369.0 L382.8 373.9 L396.9 378.9 L410.9 384.0 L425.0 389.1 L439.0 394.2 L453.1 399.4 L467.1 404.6 L481.1 409.8 L495.2 415.1 L509.2 420.4 L523.3 425.7 L537.3 431.0 L551.4 436.3 L565.4 441.7 L579.5 447.1 L593.5 452.5 L607.6 457.9 L621.6 463.3 L635.7 468.8 L649.7 474.2" stroke="#BC5B80"/>
<path d="M101.9 305.7 L116.0 305.9 L130.0 306.7 L144.1 308.0 L158.1 309.8 L172.2 312.0 L186.3 314.6 L200.3 317.5 L214.4 320.8 L228.4 324.3 L242.5 328.1 L256.6 332.0 L270.6 336.2 L284.7 340.5 L298.7 344.9 L312.8 349.5 L326.9 354.2 L340.9 358.9 L355.0 363.8 L369.0 368.7 L383.1 373.6 L397.2 378.7 L411.2 383.7 L425.3 388.8 L439.3 394.0 L453.4 399.2 L467.5 404.4 L481.5 409.7 L495.6 414.9 L509.6 420.2 L523.7 425.6 L537.8 430.9 L551.8 436.3 L565.9 441.6 L579.9 447.0 L594.0 452.4 L608.1 457.9 L622.1 463.3 L636.2 468.7 L650.2 474.2" stroke="#47B66D"/>
<path d="M101.9 304.8 L116.0 305.1 L130.0 305.9 L144.1 307.2 L158.2 309.0 L172.3 311.2 L186.3 313.9 L200.4 316.8 L214.5 320.1 L228.6 323.7 L242.6 327.5 L256.7 331.5 L270.8 335.7 L284.9 340.0 L298.9 344.5 L313.0 349.1 L327.1 353.8 L341.2 358.6 L355.2 363.4 L369.3 368.4 L383.4 373.3 L397.5 378.4 L411.5 383.5 L425.6 388.6 L439.7 393.8 L453.8 399.0 L467.8 404.2 L481.9 409.5 L496.0 414.8 L510.1 420.1 L524.1 425.4 L538.2 430.8 L552.3 436.2 L566.4 441.6 L580.4 447.0 L594.5 452.4 L608.6 457.8 L622.7 463.3 L636.7 468.7 L650.8 474.2" stroke="#5E81B5"/>
<path d="M101.9 303.9 L116.0 304.2 L130.1 305.0 L144.2 306.3 L158.3 308.1 L172.4 310.4 L186.4 313.1 L200.5 316.1 L214.6 319.4 L228.7 323.0 L242.8 326.9 L256.9 330.9 L271.0 335.1 L285.1 339.5 L299.2 344.0 L313.3 348.6 L327.3 353.4 L341.4 358.2 L355.5 363.1 L369.6 368.0 L383.7 373.0 L397.8 378.1 L411.9 383.2 L426.0 388.4 L440.1 393.6 L454.2 398.8 L468.2 404.0 L482.3 409.3 L496.4 414.6 L510.5 420.0 L524.6 425.3 L538.7 430.7 L552.8 436.1 L566.9 441.5 L581.0 446.9 L595.1 452.3 L609.1 457.8 L623.2 463.3 L637.3 468.7 L651.4 474.2" stroke="#E19C24"/>
<path d="M101.9 302.9 L116.0 303.2 L130.1 304.0 L144.2 305.4 L158.3 307.2 L172.4 309.5 L186.5 312.2 L200.6 315.3 L214.8 318.7 L228.9 322.3 L243.0 326.2 L257.1 330.3 L271.2 334.6 L285.3 339.0 L299.4 343.5 L313.5 348.2 L327.6 352.9 L341.7 357.8 L355.8 362.7 L369.9 367.7 L384.0 372.7 L398.1 377.8 L412.3 382.9 L426.4 388.1 L440.5 393.3 L454.6 398.6 L468.7 403.8 L482.8 409.1 L496.9 414.5 L511.0 419.8 L525.1 425.2 L539.2 430.6 L553.3 436.0 L567.4 441.4 L581.5 446.8 L595.6 452.3 L609.7 457.8 L623.9 463.2 L638.0 468.7 L652.1 474.2" stroke="#8FB032"/>
<path d="M101.9 300.6 L116.0 300.9 L130.2 301.8 L144.3 303.2 L158.5 305.1 L172.6 307.5 L186.8 310.3 L200.9 313.5 L215.1 317.0 L229.2 320.7 L243.3 324.7 L257.5 328.9 L271.6 333.2 L285.8 337.7 L299.9 342.4 L314.1 347.1 L328.2 351.9 L342.3 356.8 L356.5 361.8 L370.6 366.8 L384.8 371.9 L398.9 377.1 L413.1 382.3 L427.2 387.5 L441.4 392.8 L455.5 398.1 L469.6 403.4 L483.8 408.7 L497.9 414.1 L512.1 419.5 L526.2 424.9 L540.4 430.3 L554.5 435.8 L568.6 441.2 L582.8 446.7 L596.9 452.2 L611.1 457.7 L625.2 463.2 L639.4 468.7 L653.5 474.2" stroke="#EB6235"/>
<path d="M101.9 297.2 L116.1 297.5 L130.3 298.5 L144.5 300.0 L158.7 302.0 L172.9 304.6 L187.1 307.5 L201.3 310.9 L215.5 314.5 L229.7 318.4 L243.9 322.5 L258.1 326.9 L272.2 331.4 L286.4 336.0 L300.6 340.7 L314.8 345.6 L329.0 350.5 L343.2 355.5 L357.4 360.6 L371.6 365.7 L385.8 370.9 L400.0 376.1 L414.2 381.4 L428.4 386.7 L442.6 392.0 L456.8 397.4 L471.0 402.7 L485.2 408.2 L499.4 413.6 L513.6 419.0 L527.8 424.5 L542.0 430.0 L556.2 435.5 L570.4 441.0 L584.6 446.5 L598.7 452.0 L612.9 457.5 L627.1 463.1 L641.3 468.6 L655.5 474.2" stroke="#8778B3"/>
<path d="M101.9 290.6 L116.2 291.0 L130.5 292.0 L144.8 293.8 L159.0 296.1 L173.3 299.0 L187.6 302.3 L201.9 305.9 L216.2 309.9 L230.5 314.1 L244.8 318.5 L259.1 323.1 L273.3 327.9 L287.6 332.8 L301.9 337.7 L316.2 342.8 L330.5 347.9 L344.8 353.1 L359.1 358.4 L373.4 363.6 L387.6 369.0 L401.9 374.4 L416.2 379.8 L430.5 385.2 L444.8 390.6 L459.1 396.1 L473.4 401.6 L487.7 407.1 L501.9 412.7 L516.2 418.2 L530.5 423.8 L544.8 429.3 L559.1 434.9 L573.4 440.5 L587.7 446.1 L602.0 451.7 L616.2 457.3 L630.5 462.9 L644.8 468.6 L659.1 474.2" stroke="#C56E1A"/>
<path d="M101.9 279.4 L116.0 279.8 L130.0 281.2 L144.1 283.4 L158.1 286.2 L172.2 289.6 L186.2 293.4 L200.3 297.6 L214.3 302.0 L228.4 306.6 L242.4 311.4 L256.5 316.3 L270.5 321.3 L284.6 326.4 L298.6 331.6 L312.7 336.8 L326.7 342.1 L340.8 347.4 L354.8 352.7 L368.9 358.1 L382.9 363.5 L397.0 369.0 L411.1 374.4 L425.1 379.9 L439.2 385.3 L453.2 390.8 L467.3 396.3 L481.3 401.9 L495.4 407.4 L509.4 412.9 L523.5 418.5 L537.5 424.0 L551.6 429.6 L565.6 435.1 L579.7 440.7 L593.7 446.3 L607.8 451.9 L621.8 457.4 L635.9 463.0 L649.9 468.6 L664.0 474.2" stroke="#5D9EC7"/>
<path d="M101.9 245.4 L116.1 251.1 L130.3 256.8 L144.5 262.6 L158.7 268.3 L172.9 274.0 L187.2 279.7 L201.4 285.4 L215.6 291.2 L229.8 296.9 L244.0 302.6 L258.2 308.3 L272.4 314.0 L286.6 319.8 L300.8 325.5 L315.0 331.2 L329.3 336.9 L343.5 342.6 L357.7 348.4 L371.9 354.1 L386.1 359.8 L400.3 365.5 L414.5 371.2 L428.7 377.0 L442.9 382.7 L457.1 388.4 L471.4 394.1 L485.6 399.8 L499.8 405.6 L514.0 411.3 L528.2 417.0 L542.4 422.7 L556.6 428.4 L570.8 434.2 L585.0 439.9 L599.2 445.6 L613.5 451.3 L627.7 457.0 L641.9 462.8 L656.1 468.5 L670.3 474.2" stroke="#FFBF00"/>
<path d="M101.9 245.4 L116.1 239.7 L130.3 234.0 L144.5 228.2 L158.7 222.5 L172.9 216.8 L187.2 211.1 L201.4 205.4 L215.6 199.6 L229.8 193.9 L244.0 188.2 L258.2 182.5 L272.4 176.8 L286.6 171.0 L300.8 165.3 L315.0 159.6 L329.3 153.9 L343.5 148.2 L357.7 142.4 L371.9 136.7 L386.1 131.0 L400.3 125.3 L414.5 119.6 L428.7 113.8 L442.9 108.1 L457.1 102.4 L471.4 96.7 L485.6 91.0 L499.8 85.2 L514.0 79.5 L528.2 73.8 L542.4 68.1 L556.6 62.4 L570.8 56.6 L585.0 50.9 L599.2 45.2 L613.5 39.5 L627.7 33.8 L641.9 28.0 L656.1 22.3 L670.3 16.6" stroke="#A5609D"/>
<path d="M101.9 211.4 L116.0 211.0 L130.0 209.6 L144.1 207.4 L158.1 204.6 L172.2 201.2 L186.2 197.4 L200.3 193.2 L214.3 188.8 L228.4 184.2 L242.4 179.4 L256.5 174.5 L270.5 169.5 L284.6 164.4 L298.6 159.2 L312.7 154.0 L326.7 148.7 L340.8 143.4 L354.8 138.1 L368.9 132.7 L382.9 127.3 L397.0 121.8 L411.1 116.4 L425.1 110.9 L439.2 105.5 L453.2 100.0 L467.3 94.5 L481.3 88.9 L495.4 83.4 L509.4 77.9 L523.5 72.3 L537.5 66.8 L551.6 61.2 L565.6 55.7 L579.7 50.1 L593.7 44.5 L607.8 38.9 L621.8 33.4 L635.9 27.8 L649.9 22.2 L664.0 16.6" stroke="#929600"/>
<path d="M101.9 200.2 L116.2 199.8 L130.5 198.8 L144.8 197.0 L159.0 194.7 L173.3 191.8 L187.6 188.5 L201.9 184.9 L216.2 180.9 L230.5 176.7 L244.8 172.3 L259.1 167.7 L273.3 162.9 L287.6 158.0 L301.9 153.1 L316.2 148.0 L330.5 142.9 L344.8 137.7 L359.1 132.4 L373.4 127.2 L387.6 121.8 L401.9 116.4 L416.2 111.0 L430.5 105.6 L444.8 100.2 L459.1 94.7 L473.4 89.2 L487.7 83.7 L501.9 78.1 L516.2 72.6 L530.5 67.0 L544.8 61.5 L559.1 55.9 L573.4 50.3 L587.7 44.7 L602.0 39.1 L616.2 33.5 L630.5 27.9 L644.8 22.2 L659.1 16.6" stroke="#E95536"/>
<path d="M101.9 193.6 L116.1 193.3 L130.3 192.3 L144.5 190.8 L158.7 188.8 L172.9 186.2 L187.1 183.3 L201.3 179.9 L215.5 176.3 L229.7 172.4 L243.9 168.3 L258.1 163.9 L272.2 159.4 L286.4 154.8 L300.6 150.1 L314.8 145.2 L329.0 140.3 L343.2 135.3 L357.4 130.2 L371.6 125.1 L385.8 119.9 L400.0 114.7 L414.2 109.4 L428.4 104.1 L442.6 98.8 L456.8 93.4 L471.0 88.1 L485.2 82.6 L499.4 77.2 L513.6 71.8 L527.8 66.3 L542.0 60.8 L556.2 55.3 L570.4 49.8 L584.6 44.3 L598.7 38.8 L612.9 33.3 L627.1 27.7 L641.3 22.2 L655.5 16.6" stroke="#6685D9"/>
<path d="M101.9 190.2 L116.0 189.9 L130.2 189.0 L144.3 187.6 L158.5 185.7 L172.6 183.3 L186.8 180.5 L200.9 177.3 L215.1 173.8 L229.2 170.1 L243.3 166.1 L257.5 161.9 L271.6 157.6 L285.8 153.1 L299.9 148.4 L314.1 143.7 L328.2 138.9 L342.3 134.0 L356.5 129.0 L370.6 124.0 L384.8 118.9 L398.9 113.7 L413.1 108.5 L427.2 103.3 L441.4 98.0 L455.5 92.7 L469.6 87.4 L483.8 82.1 L497.9 76.7 L512.1 71.3 L526.2 65.9 L540.4 60.5 L554.5 55.0 L568.6 49.6 L582.8 44.1 L596.9 38.6 L611.1 33.1 L625.2 27.6 L639.4 22.1 L653.5 16.6" stroke="#F89F13"/>
<path d="M101.9 187.9 L116.0 187.6 L130.1 186.8 L144.2 185.4 L158.3 183.6 L172.4 181.3 L186.5 178.6 L200.6 175.5 L214.8 172.1 L228.9 168.5 L243.0 164.6 L257.1 160.5 L271.2 156.2 L285.3 151.8 L299.4 147.3 L313.5 142.6 L327.6 137.9 L341.7 133.0 L355.8 128.1 L369.9 123.1 L384.0 118.1 L398.1 113.0 L412.3 107.9 L426.4 102.7 L440.5 97.5 L454.6 92.2 L468.7 87.0 L482.8 81.7 L496.9 76.3 L511.0 71.0 L525.1 65.6 L539.2 60.2 L553.3 54.8 L567.4 49.4 L581.5 44.0 L595.6 38.5 L609.7 33.0 L623.9 27.6 L638.0 22.1 L652.1 16.6" stroke="#BC5B80"/>
<path d="M101.9 186.9 L116.0 186.6 L130.1 185.8 L144.2 184.5 L158.3 182.7 L172.4 180.4 L186.4 177.7 L200.5 174.7 L214.6 171.4 L228.7 167.8 L242.8 163.9 L256.9 159.9 L271.0 155.7 L285.1 151.3 L299.2 146.8 L313.3 142.2 L327.3 137.4 L341.4 132.6 L355.5 127.7 L369.6 122.8 L383.7 117.8 L397.8 112.7 L411.9 107.6 L426.0 102.4 L440.1 97.2 L454.2 92.0 L468.2 86.8 L482.3 81.5 L496.4 76.2 L510.5 70.8 L524.6 65.5 L538.7 60.1 L552.8 54.7 L566.9 49.3 L581.0 43.9 L595.1 38.5 L609.1 33.0 L623.2 27.5 L637.3 22.1 L651.4 16.6" stroke="#47B66D"/>
<path d="M101.9 186.0 L116.0 185.7 L130.0 184.9 L144.1 183.6 L158.2 181.8 L172.3 179.6 L186.3 176.9 L200.4 174.0 L214.5 170.7 L228.6 167.1 L242.6 163.3 L256.7 159.3 L270.8 155.1 L284.9 150.8 L298.9 146.3 L313.0 141.7 L327.1 137.0 L341.2 132.2 L355.2 127.4 L369.3 122.4 L383.4 117.5 L397.5 112.4 L411.5 107.3 L425.6 102.2 L439.7 97.0 L453.8 91.8 L467.8 86.6 L481.9 81.3 L496.0 76.0 L510.1 70.7 L524.1 65.4 L538.2 60.0 L552.3 54.6 L566.4 49.2 L580.4 43.8 L594.5 38.4 L608.6 33.0 L622.7 27.5 L636.7 22.1 L650.8 16.6" stroke="#5E81B5"/>
<path d="M101.9 185.1 L116.0 184.9 L130.0 184.1 L144.1 182.8 L158.1 181.0 L172.2 178.8 L186.3 176.2 L200.3 173.3 L214.4 170.0 L228.4 166.5 L242.5 162.7 L256.6 158.8 L270.6 154.6 L284.7 150.3 L298.7 145.9 L312.8 141.3 L326.9 136.6 L340.9 131.9 L355.0 127.0 L369.0 122.1 L383.1 117.2 L397.2 112.1 L411.2 107.1 L425.3 102.0 L439.3 96.8 L453.4 91.6 L467.5 86.4 L481.5 81.1 L495.6 75.9 L509.6 70.6 L523.7 65.2 L537.8 59.9 L551.8 54.5 L565.9 49.2 L579.9 43.8 L594.0 38.4 L608.1 32.9 L622.1 27.5 L636.2 22.1 L650.2 16.6" stroke="#E19C24"/>
<path d="M101.9 184.4 L115.9 184.1 L130.0 183.3 L144.0 182.0 L158.1 180.3 L172.1 178.1 L186.2 175.6 L200.2 172.6 L214.3 169.4 L228.3 165.9 L242.4 162.2 L256.4 158.3 L270.5 154.1 L284.5 149.9 L298.5 145.4 L312.6 140.9 L326.6 136.3 L340.7 131.5 L354.7 126.7 L368.8 121.8 L382.8 116.9 L396.9 111.9 L410.9 106.8 L425.0 101.7 L439.0 96.6 L453.1 91.4 L467.1 86.2 L481.1 81.0 L495.2 75.7 L509.2 70.4 L523.3 65.1 L537.3 59.8 L551.4 54.5 L565.4 49.1 L579.5 43.7 L593.5 38.3 L607.6 32.9 L621.6 27.5 L635.7 22.0 L649.7 16.6" stroke="#8FB032"/>
<path d="M101.9 183.6 L115.9 183.4 L130.0 182.6 L144.0 181.3 L158.0 179.6 L172.1 177.5 L186.1 174.9 L200.1 172.1 L214.2 168.9 L228.2 165.4 L242.2 161.7 L256.3 157.8 L270.3 153.7 L284.3 149.4 L298.4 145.1 L312.4 140.5 L326.4 135.9 L340.5 131.2 L354.5 126.4 L368.5 121.6 L382.6 116.6 L396.6 111.7 L410.6 106.6 L424.7 101.5 L438.7 96.4 L452.7 91.3 L466.8 86.1 L480.8 80.8 L494.8 75.6 L508.9 70.3 L522.9 65.0 L536.9 59.7 L551.0 54.4 L565.0 49.0 L579.0 43.7 L593.1 38.3 L607.1 32.9 L621.1 27.5 L635.2 22.0 L649.2 16.6" stroke="#EB6235"/>
<path d="M101.9 182.9 L116.3 182.7 L130.7 181.9 L145.1 180.6 L159.5 178.8 L173.8 176.6 L188.2 173.9 L202.6 170.9 L217.0 167.6 L231.4 164.0 L245.8 160.2 L260.2 156.2 L274.6 152.0 L289.0 147.6 L303.4 143.0 L317.7 138.4 L332.1 133.6 L346.5 128.8 L360.9 123.9 L375.3 118.9 L389.7 113.8 L404.1 108.7 L418.5 103.5 L432.9 98.3 L447.3 93.0 L461.6 87.7 L476.0 82.4 L490.4 77.0 L504.8 71.6 L519.2 66.2 L533.6 60.7 L548.0 55.3 L562.4 49.8 L576.8 44.3 L591.2 38.8 L605.5 33.3 L619.9 27.7 L634.3 22.2 L648.7 16.6" stroke="#8778B3"/>
<path d="M101.9 182.3 L116.3 182.0 L130.7 181.2 L145.0 180.0 L159.4 178.2 L173.8 176.0 L188.2 173.4 L202.5 170.4 L216.9 167.1 L231.3 163.6 L245.7 159.8 L260.1 155.8 L274.4 151.6 L288.8 147.2 L303.2 142.7 L317.6 138.1 L331.9 133.3 L346.3 128.5 L360.7 123.6 L375.1 118.6 L389.5 113.6 L403.8 108.5 L418.2 103.3 L432.6 98.1 L447.0 92.8 L461.3 87.5 L475.7 82.2 L490.1 76.9 L504.5 71.5 L518.9 66.1 L533.2 60.7 L547.6 55.2 L562.0 49.7 L576.4 44.3 L590.7 38.8 L605.1 33.2 L619.5 27.7 L633.9 22.2 L648.3 16.6" stroke="#C56E1A"/>
<path d="M101.9 181.7 L116.3 181.4 L130.6 180.6 L145.0 179.4 L159.4 177.6 L173.7 175.4 L188.1 172.8 L202.5 169.9 L216.8 166.7 L231.2 163.1 L245.6 159.4 L259.9 155.4 L274.3 151.2 L288.7 146.9 L303.0 142.4 L317.4 137.8 L331.8 133.1 L346.1 128.2 L360.5 123.4 L374.9 118.4 L389.2 113.4 L403.6 108.3 L418.0 103.1 L432.3 97.9 L446.7 92.7 L461.1 87.4 L475.4 82.1 L489.8 76.8 L504.2 71.4 L518.5 66.0 L532.9 60.6 L547.3 55.1 L561.6 49.7 L576.0 44.2 L590.3 38.7 L604.7 33.2 L619.1 27.7 L633.4 22.1 L647.8 16.6" stroke="#5D9EC7"/>
<path d="M101.9 181.1 L116.3 180.8 L130.6 180.1 L145.0 178.8 L159.3 177.1 L173.7 174.9 L188.0 172.3 L202.4 169.4 L216.7 166.2 L231.1 162.7 L245.4 158.9 L259.8 155.0 L274.2 150.8 L288.5 146.5 L302.9 142.1 L317.2 137.5 L331.6 132.8 L345.9 128.0 L360.3 123.1 L374.6 118.2 L389.0 113.1 L403.4 108.1 L417.7 102.9 L432.1 97.8 L446.4 92.5 L460.8 87.3 L475.1 82.0 L489.5 76.7 L503.8 71.3 L518.2 65.9 L532.5 60.5 L546.9 55.1 L561.3 49.6 L575.6 44.2 L590.0 38.7 L604.3 33.2 L618.7 27.7 L633.0 22.1 L647.4 16.6" stroke="#FFBF00"/>
<path d="M101.9 180.5 L116.2 180.3 L130.6 179.5 L144.9 178.3 L159.3 176.5 L173.6 174.4 L188.0 171.9 L202.3 169.0 L216.7 165.8 L231.0 162.3 L245.3 158.6 L259.7 154.6 L274.0 150.5 L288.4 146.2 L302.7 141.8 L317.1 137.2 L331.4 132.5 L345.8 127.7 L360.1 122.9 L374.4 118.0 L388.8 112.9 L403.1 107.9 L417.5 102.8 L431.8 97.6 L446.2 92.4 L460.5 87.1 L474.8 81.9 L489.2 76.5 L503.5 71.2 L517.9 65.8 L532.2 60.4 L546.6 55.0 L560.9 49.6 L575.3 44.1 L589.6 38.6 L603.9 33.2 L618.3 27.6 L632.6 22.1 L647.0 16.6" stroke="#A5609D"/>
<path d="M101.9 180.0 L116.2 179.7 L130.6 179.0 L144.9 177.7 L159.2 176.0 L173.6 173.9 L187.9 171.4 L202.2 168.5 L216.6 165.3 L230.9 161.9 L245.2 158.2 L259.6 154.3 L273.9 150.2 L288.2 145.9 L302.6 141.5 L316.9 136.9 L331.2 132.3 L345.6 127.5 L359.9 122.7 L374.2 117.7 L388.6 112.8 L402.9 107.7 L417.2 102.6 L431.6 97.5 L445.9 92.3 L460.2 87.0 L474.6 81.7 L488.9 76.4 L503.2 71.1 L517.6 65.7 L531.9 60.4 L546.2 55.0 L560.6 49.5 L574.9 44.1 L589.2 38.6 L603.6 33.1 L617.9 27.6 L632.2 22.1 L646.6 16.6" stroke="#929600"/>
<path d="M101.9 179.5 L116.2 179.2 L130.5 178.5 L144.9 177.2 L159.2 175.5 L173.5 173.4 L187.8 170.9 L202.2 168.1 L216.5 164.9 L230.8 161.5 L245.1 157.8 L259.5 153.9 L273.8 149.8 L288.1 145.6 L302.4 141.2 L316.7 136.6 L331.1 132.0 L345.4 127.3 L359.7 122.4 L374.0 117.5 L388.4 112.6 L402.7 107.5 L417.0 102.4 L431.3 97.3 L445.7 92.1 L460.0 86.9 L474.3 81.6 L488.6 76.3 L503.0 71.0 L517.3 65.7 L531.6 60.3 L545.9 54.9 L560.2 49.5 L574.6 44.0 L588.9 38.6 L603.2 33.1 L617.5 27.6 L631.9 22.1 L646.2 16.6" stroke="#E95536"/>
<path d="M101.9 178.9 L116.2 178.7 L130.5 178.0 L144.8 176.7 L159.2 175.1 L173.5 173.0 L187.8 170.5 L202.1 167.7 L216.4 164.5 L230.7 161.1 L245.0 157.4 L259.3 153.6 L273.7 149.5 L288.0 145.3 L302.3 140.9 L316.6 136.4 L330.9 131.8 L345.2 127.0 L359.5 122.2 L373.8 117.3 L388.2 112.4 L402.5 107.4 L416.8 102.3 L431.1 97.2 L445.4 92.0 L459.7 86.8 L474.0 81.5 L488.4 76.2 L502.7 70.9 L517.0 65.6 L531.3 60.2 L545.6 54.8 L559.9 49.4 L574.2 44.0 L588.5 38.5 L602.9 33.1 L617.2 27.6 L631.5 22.1 L645.8 16.6" stroke="#6685D9"/>
<path d="M101.9 178.4 L116.2 178.2 L130.5 177.5 L144.8 176.3 L159.1 174.6 L173.4 172.5 L187.7 170.1 L202.0 167.3 L216.3 164.1 L230.6 160.7 L244.9 157.1 L259.2 153.2 L273.5 149.2 L287.8 145.0 L302.1 140.6 L316.4 136.1 L330.7 131.5 L345.1 126.8 L359.4 122.0 L373.7 117.1 L388.0 112.2 L402.3 107.2 L416.6 102.1 L430.9 97.0 L445.2 91.9 L459.5 86.7 L473.8 81.4 L488.1 76.1 L502.4 70.8 L516.7 65.5 L531.0 60.2 L545.3 54.8 L559.6 49.4 L573.9 44.0 L588.2 38.5 L602.5 33.1 L616.8 27.6 L631.1 22.1 L645.4 16.6" stroke="#F89F13"/>
<path d="M101.9 178.0 L116.2 177.7 L130.5 177.0 L144.8 175.8 L159.1 174.1 L173.4 172.1 L187.7 169.6 L202.0 166.8 L216.2 163.7 L230.5 160.4 L244.8 156.7 L259.1 152.9 L273.4 148.9 L287.7 144.7 L302.0 140.3 L316.3 135.9 L330.6 131.3 L344.9 126.6 L359.2 121.8 L373.5 117.0 L387.8 112.0 L402.1 107.0 L416.4 102.0 L430.6 96.9 L444.9 91.7 L459.2 86.5 L473.5 81.3 L487.8 76.0 L502.1 70.8 L516.4 65.4 L530.7 60.1 L545.0 54.7 L559.3 49.3 L573.6 43.9 L587.9 38.5 L602.2 33.0 L616.5 27.6 L630.7 22.1 L645.0 16.6" stroke="#BC5B80"/>
<path d="M101.9 177.5 L116.2 177.2 L130.5 176.5 L144.8 175.3 L159.0 173.7 L173.3 171.6 L187.6 169.2 L201.9 166.4 L216.2 163.4 L230.5 160.0 L244.7 156.4 L259.0 152.6 L273.3 148.6 L287.6 144.4 L301.9 140.1 L316.2 135.6 L330.4 131.0 L344.7 126.4 L359.0 121.6 L373.3 116.8 L387.6 111.8 L401.9 106.9 L416.1 101.8 L430.4 96.7 L444.7 91.6 L459.0 86.4 L473.3 81.2 L487.6 76.0 L501.8 70.7 L516.1 65.4 L530.4 60.0 L544.7 54.7 L559.0 49.3 L573.3 43.9 L587.5 38.4 L601.8 33.0 L616.1 27.6 L630.4 22.1 L644.7 16.6" stroke="#47B66D"/>
<path d="M101.9 177.0 L116.2 176.8 L130.4 176.0 L144.7 174.9 L159.0 173.2 L173.3 171.2 L187.5 168.8 L201.8 166.0 L216.1 163.0 L230.4 159.6 L244.6 156.1 L258.9 152.3 L273.2 148.3 L287.5 144.1 L301.7 139.8 L316.0 135.4 L330.3 130.8 L344.6 126.2 L358.8 121.4 L373.1 116.6 L387.4 111.7 L401.6 106.7 L415.9 101.7 L430.2 96.6 L444.5 91.5 L458.7 86.3 L473.0 81.1 L487.3 75.9 L501.6 70.6 L515.8 65.3 L530.1 60.0 L544.4 54.6 L558.7 49.2 L572.9 43.8 L587.2 38.4 L601.5 33.0 L615.8 27.5 L630.0 22.1 L644.3 16.6" stroke="#5E81B5"/>
<path d="M101.9 176.5 L116.2 176.3 L130.4 175.6 L144.7 174.4 L159.0 172.8 L173.2 170.8 L187.5 168.4 L201.7 165.7 L216.0 162.6 L230.3 159.3 L244.5 155.7 L258.8 152.0 L273.1 148.0 L287.3 143.8 L301.6 139.5 L315.9 135.1 L330.1 130.6 L344.4 125.9 L358.7 121.2 L372.9 116.4 L387.2 111.5 L401.4 106.5 L415.7 101.5 L430.0 96.5 L444.2 91.3 L458.5 86.2 L472.8 81.0 L487.0 75.8 L501.3 70.5 L515.6 65.2 L529.8 59.9 L544.1 54.5 L558.4 49.2 L572.6 43.8 L586.9 38.4 L601.1 33.0 L615.4 27.5 L629.7 22.1 L643.9 16.6" stroke="#E19C24"/>
<path d="M101.9 176.1 L116.2 175.8 L130.4 175.1 L144.7 174.0 L158.9 172.4 L173.2 170.4 L187.4 168.0 L201.7 165.3 L215.9 162.2 L230.2 158.9 L244.4 155.4 L258.7 151.6 L273.0 147.7 L287.2 143.6 L301.5 139.3 L315.7 134.9 L330.0 130.4 L344.2 125.7 L358.5 121.0 L372.7 116.2 L387.0 111.3 L401.2 106.4 L415.5 101.4 L429.8 96.3 L444.0 91.2 L458.3 86.1 L472.5 80.9 L486.8 75.7 L501.0 70.4 L515.3 65.1 L529.5 59.8 L543.8 54.5 L558.0 49.1 L572.3 43.8 L586.6 38.4 L600.8 32.9 L615.1 27.5 L629.3 22.1 L643.6 16.6" stroke="#8FB032"/>
<path d="M101.9 175.6 L116.1 175.4 L130.4 174.7 L144.6 173.5 L158.9 171.9 L173.1 169.9 L187.4 167.6 L201.6 164.9 L215.9 161.9 L230.1 158.6 L244.3 155.1 L258.6 151.3 L272.8 147.4 L287.1 143.3 L301.3 139.0 L315.6 134.6 L329.8 130.1 L344.1 125.5 L358.3 120.8 L372.6 116.0 L386.8 111.1 L401.0 106.2 L415.3 101.2 L429.5 96.2 L443.8 91.1 L458.0 86.0 L472.3 80.8 L486.5 75.6 L500.8 70.3 L515.0 65.1 L529.2 59.8 L543.5 54.4 L557.7 49.1 L572.0 43.7 L586.2 38.3 L600.5 32.9 L614.7 27.5 L629.0 22.1 L643.2 16.6" stroke="#EB6235"/>
<path d="M101.9 175.1 L116.1 174.9 L130.4 174.2 L144.6 173.1 L158.8 171.5 L173.1 169.5 L187.3 167.2 L201.5 164.5 L215.8 161.5 L230.0 158.2 L244.3 154.7 L258.5 151.0 L272.7 147.1 L287.0 143.0 L301.2 138.8 L315.4 134.4 L329.7 129.9 L343.9 125.3 L358.1 120.6 L372.4 115.8 L386.6 111.0 L400.8 106.1 L415.1 101.1 L429.3 96.0 L443.5 91.0 L457.8 85.8 L472.0 80.7 L486.3 75.5 L500.5 70.2 L514.7 65.0 L529.0 59.7 L543.2 54.4 L557.4 49.0 L571.7 43.7 L585.9 38.3 L600.1 32.9 L614.4 27.5 L628.6 22.0 L642.8 16.6" stroke="#8778B3"/>
<path d="M101.9 174.7 L116.1 174.5 L130.4 173.8 L144.6 172.6 L158.8 171.1 L173.0 169.1 L187.3 166.8 L201.5 164.1 L215.7 161.1 L229.9 157.9 L244.2 154.4 L258.4 150.7 L272.6 146.8 L286.8 142.7 L301.1 138.5 L315.3 134.1 L329.5 129.7 L343.7 125.1 L358.0 120.4 L372.2 115.6 L386.4 110.8 L400.6 105.9 L414.9 100.9 L429.1 95.9 L443.3 90.8 L457.5 85.7 L471.8 80.6 L486.0 75.4 L500.2 70.2 L514.4 64.9 L528.7 59.6 L542.9 54.3 L557.1 49.0 L571.3 43.6 L585.6 38.3 L599.8 32.9 L614.0 27.5 L628.3 22.0 L642.5 16.6" stroke="#C56E1A"/>
<path d="M101.9 174.2 L116.1 174.0 L130.3 173.3 L144.5 172.2 L158.8 170.7 L173.0 168.7 L187.2 166.4 L201.4 163.7 L215.6 160.8 L229.8 157.6 L244.1 154.1 L258.3 150.4 L272.5 146.5 L286.7 142.5 L300.9 138.2 L315.1 133.9 L329.4 129.4 L343.6 124.9 L357.8 120.2 L372.0 115.5 L386.2 110.6 L400.4 105.7 L414.7 100.8 L428.9 95.8 L443.1 90.7 L457.3 85.6 L471.5 80.5 L485.7 75.3 L500.0 70.1 L514.2 64.8 L528.4 59.6 L542.6 54.3 L556.8 48.9 L571.0 43.6 L585.2 38.2 L599.5 32.8 L613.7 27.4 L627.9 22.0 L642.1 16.6" stroke="#5D9EC7"/>
<path d="M101.9 173.8 L116.1 173.6 L130.3 172.9 L144.5 171.8 L158.7 170.2 L172.9 168.3 L187.1 166.0 L201.3 163.4 L215.6 160.4 L229.8 157.2 L244.0 153.8 L258.2 150.1 L272.4 146.2 L286.6 142.2 L300.8 138.0 L315.0 133.7 L329.2 129.2 L343.4 124.7 L357.6 120.0 L371.8 115.3 L386.0 110.5 L400.2 105.6 L414.4 100.6 L428.6 95.6 L442.9 90.6 L457.1 85.5 L471.3 80.4 L485.5 75.2 L499.7 70.0 L513.9 64.8 L528.1 59.5 L542.3 54.2 L556.5 48.9 L570.7 43.6 L584.9 38.2 L599.1 32.8 L613.3 27.4 L627.5 22.0 L641.7 16.6" stroke="#FFBF00"/>
<path d="M101.9 173.3 L116.1 173.1 L130.3 172.4 L144.5 171.3 L158.7 169.8 L172.9 167.9 L187.1 165.6 L201.3 163.0 L215.5 160.1 L229.7 156.9 L243.9 153.4 L258.1 149.8 L272.3 145.9 L286.5 141.9 L300.7 137.7 L314.9 133.4 L329.0 129.0 L343.2 124.4 L357.4 119.8 L371.6 115.1 L385.8 110.3 L400.0 105.4 L414.2 100.5 L428.4 95.5 L442.6 90.5 L456.8 85.4 L471.0 80.3 L485.2 75.1 L499.4 69.9 L513.6 64.7 L527.8 59.4 L542.0 54.2 L556.2 48.8 L570.4 43.5 L584.6 38.2 L598.8 32.8 L613.0 27.4 L627.2 22.0 L641.4 16.6" stroke="#A5609D"/>
<path d="M101.9 172.9 L116.1 172.7 L130.3 172.0 L144.5 170.9 L158.6 169.4 L172.8 167.5 L187.0 165.2 L201.2 162.6 L215.4 159.7 L229.6 156.5 L243.8 153.1 L258.0 149.5 L272.1 145.6 L286.3 141.6 L300.5 137.5 L314.7 133.2 L328.9 128.8 L343.1 124.2 L357.3 119.6 L371.5 114.9 L385.6 110.1 L399.8 105.3 L414.0 100.3 L428.2 95.4 L442.4 90.3 L456.6 85.3 L470.8 80.2 L485.0 75.0 L499.1 69.8 L513.3 64.6 L527.5 59.4 L541.7 54.1 L555.9 48.8 L570.1 43.5 L584.3 38.1 L598.4 32.8 L612.6 27.4 L626.8 22.0 L641.0 16.6" stroke="#929600"/>
<path d="M101.9 172.5 L116.1 172.2 L130.3 171.6 L144.4 170.5 L158.6 169.0 L172.8 167.1 L187.0 164.8 L201.1 162.2 L215.3 159.3 L229.5 156.2 L243.7 152.8 L257.9 149.2 L272.0 145.3 L286.2 141.4 L300.4 137.2 L314.6 132.9 L328.7 128.5 L342.9 124.0 L357.1 119.4 L371.3 114.7 L385.4 109.9 L399.6 105.1 L413.8 100.2 L428.0 95.2 L442.2 90.2 L456.3 85.2 L470.5 80.1 L484.7 74.9 L498.9 69.7 L513.0 64.5 L527.2 59.3 L541.4 54.0 L555.6 48.8 L569.8 43.4 L583.9 38.1 L598.1 32.8 L612.3 27.4 L626.5 22.0 L640.6 16.6" stroke="#E95536"/>
<path d="M101.9 172.0 L116.1 171.8 L130.2 171.1 L144.4 170.0 L158.6 168.6 L172.7 166.7 L186.9 164.4 L201.1 161.9 L215.2 159.0 L229.4 155.8 L243.6 152.5 L257.7 148.9 L271.9 145.1 L286.1 141.1 L300.2 137.0 L314.4 132.7 L328.6 128.3 L342.7 123.8 L356.9 119.2 L371.1 114.5 L385.3 109.8 L399.4 104.9 L413.6 100.0 L427.8 95.1 L441.9 90.1 L456.1 85.0 L470.3 80.0 L484.4 74.8 L498.6 69.7 L512.8 64.5 L526.9 59.2 L541.1 54.0 L555.3 48.7 L569.4 43.4 L583.6 38.1 L597.8 32.7 L611.9 27.4 L626.1 22.0 L640.3 16.6" stroke="#6685D9"/>
<path d="M101.9 171.6 L116.1 171.4 L130.2 170.7 L144.4 169.6 L158.5 168.1 L172.7 166.3 L186.8 164.0 L201.0 161.5 L215.2 158.6 L229.3 155.5 L243.5 152.1 L257.6 148.5 L271.8 144.8 L286.0 140.8 L300.1 136.7 L314.3 132.4 L328.4 128.1 L342.6 123.6 L356.7 119.0 L370.9 114.3 L385.1 109.6 L399.2 104.8 L413.4 99.9 L427.5 95.0 L441.7 90.0 L455.8 84.9 L470.0 79.9 L484.2 74.7 L498.3 69.6 L512.5 64.4 L526.6 59.2 L540.8 53.9 L555.0 48.7 L569.1 43.4 L583.3 38.0 L597.4 32.7 L611.6 27.4 L625.7 22.0 L639.9 16.6" stroke="#F89F13"/>
<path d="M101.9 171.1 L116.0 170.9 L130.2 170.3 L144.3 169.2 L158.5 167.7 L172.6 165.9 L186.8 163.6 L200.9 161.1 L215.1 158.3 L229.2 155.2 L243.4 151.8 L257.5 148.2 L271.7 144.5 L285.8 140.5 L300.0 136.4 L314.1 132.2 L328.3 127.8 L342.4 123.4 L356.6 118.8 L370.7 114.2 L384.9 109.4 L399.0 104.6 L413.2 99.8 L427.3 94.8 L441.5 89.8 L455.6 84.8 L469.7 79.7 L483.9 74.6 L498.0 69.5 L512.2 64.3 L526.3 59.1 L540.5 53.9 L554.6 48.6 L568.8 43.3 L582.9 38.0 L597.1 32.7 L611.2 27.3 L625.4 22.0 L639.5 16.6" stroke="#BC5B80"/>
<path d="M101.9 170.7 L116.0 170.5 L130.2 169.8 L144.3 168.8 L158.5 167.3 L172.6 165.5 L186.7 163.3 L200.9 160.7 L215.0 157.9 L229.1 154.8 L243.3 151.5 L257.4 147.9 L271.6 144.2 L285.7 140.3 L299.8 136.2 L314.0 132.0 L328.1 127.6 L342.2 123.2 L356.4 118.6 L370.5 114.0 L384.7 109.3 L398.8 104.5 L412.9 99.6 L427.1 94.7 L441.2 89.7 L455.4 84.7 L469.5 79.6 L483.6 74.5 L497.8 69.4 L511.9 64.2 L526.0 59.0 L540.2 53.8 L554.3 48.6 L568.5 43.3 L582.6 38.0 L596.7 32.7 L610.9 27.3 L625.0 22.0 L639.1 16.6" stroke="#47B66D"/>
<path d="M101.9 170.3 L116.0 170.0 L130.2 169.4 L144.3 168.3 L158.4 166.9 L172.5 165.1 L186.7 162.9 L200.8 160.4 L214.9 157.6 L229.1 154.5 L243.2 151.2 L257.3 147.6 L271.4 143.9 L285.6 140.0 L299.7 135.9 L313.8 131.7 L328.0 127.4 L342.1 123.0 L356.2 118.4 L370.3 113.8 L384.5 109.1 L398.6 104.3 L412.7 99.5 L426.8 94.5 L441.0 89.6 L455.1 84.6 L469.2 79.5 L483.4 74.4 L497.5 69.3 L511.6 64.2 L525.7 59.0 L539.9 53.8 L554.0 48.5 L568.1 43.2 L582.3 38.0 L596.4 32.6 L610.5 27.3 L624.6 22.0 L638.8 16.6" stroke="#5E81B5"/>
<path d="M101.9 169.8 L116.0 169.6 L130.1 169.0 L144.3 167.9 L158.4 166.5 L172.5 164.7 L186.6 162.5 L200.7 160.0 L214.8 157.2 L229.0 154.1 L243.1 150.8 L257.2 147.3 L271.3 143.6 L285.4 139.7 L299.6 135.7 L313.7 131.5 L327.8 127.2 L341.9 122.7 L356.0 118.2 L370.1 113.6 L384.3 108.9 L398.4 104.1 L412.5 99.3 L426.6 94.4 L440.7 89.5 L454.9 84.5 L469.0 79.4 L483.1 74.4 L497.2 69.2 L511.3 64.1 L525.4 58.9 L539.6 53.7 L553.7 48.5 L567.8 43.2 L581.9 37.9 L596.0 32.6 L610.2 27.3 L624.3 22.0 L638.4 16.6" stroke="#E19C24"/>
<path d="M101.9 169.4 L116.0 169.2 L130.1 168.5 L144.2 167.5 L158.3 166.1 L172.4 164.2 L186.5 162.1 L200.7 159.6 L214.8 156.8 L228.9 153.8 L243.0 150.5 L257.1 147.0 L271.2 143.3 L285.3 139.4 L299.4 135.4 L313.5 131.2 L327.6 126.9 L341.7 122.5 L355.8 118.0 L370.0 113.4 L384.1 108.7 L398.2 104.0 L412.3 99.2 L426.4 94.3 L440.5 89.3 L454.6 84.4 L468.7 79.3 L482.8 74.3 L496.9 69.2 L511.0 64.0 L525.1 58.8 L539.3 53.6 L553.4 48.4 L567.5 43.2 L581.6 37.9 L595.7 32.6 L609.8 27.3 L623.9 21.9 L638.0 16.6" stroke="#8FB032"/>
<path d="M101.9 168.9 L116.0 168.7 L130.1 168.1 L144.2 167.1 L158.3 165.6 L172.4 163.8 L186.5 161.7 L200.6 159.2 L214.7 156.5 L228.8 153.5 L242.9 150.2 L257.0 146.7 L271.1 143.0 L285.2 139.2 L299.3 135.1 L313.4 131.0 L327.5 126.7 L341.6 122.3 L355.7 117.8 L369.8 113.2 L383.9 108.5 L398.0 103.8 L412.1 99.0 L426.2 94.1 L440.3 89.2 L454.3 84.2 L468.4 79.2 L482.5 74.2 L496.6 69.1 L510.7 63.9 L524.8 58.8 L538.9 53.6 L553.0 48.4 L567.1 43.1 L581.2 37.9 L595.3 32.6 L609.4 27.3 L623.5 21.9 L637.6 16.6" stroke="#EB6235"/>
<path d="M101.9 168.5 L116.0 168.3 L130.1 167.7 L144.2 166.6 L158.3 165.2 L172.3 163.4 L186.4 161.3 L200.5 158.9 L214.6 156.1 L228.7 153.1 L242.8 149.9 L256.9 146.4 L271.0 142.7 L285.0 138.9 L299.1 134.9 L313.2 130.7 L327.3 126.5 L341.4 122.1 L355.5 117.6 L369.6 113.0 L383.7 108.4 L397.7 103.6 L411.8 98.8 L425.9 94.0 L440.0 89.1 L454.1 84.1 L468.2 79.1 L482.3 74.1 L496.4 69.0 L510.4 63.9 L524.5 58.7 L538.6 53.5 L552.7 48.3 L566.8 43.1 L580.9 37.8 L595.0 32.5 L609.1 27.2 L623.1 21.9 L637.2 16.6" stroke="#8778B3"/>
<path d="M101.9 168.1 L116.0 167.9 L130.1 167.2 L144.1 166.2 L158.2 164.8 L172.3 163.0 L186.4 160.9 L200.4 158.5 L214.5 155.8 L228.6 152.8 L242.7 149.5 L256.8 146.1 L270.8 142.4 L284.9 138.6 L299.0 134.6 L313.1 130.5 L327.1 126.2 L341.2 121.9 L355.3 117.4 L369.4 112.8 L383.5 108.2 L397.5 103.5 L411.6 98.7 L425.7 93.8 L439.8 88.9 L453.8 84.0 L467.9 79.0 L482.0 74.0 L496.1 68.9 L510.1 63.8 L524.2 58.6 L538.3 53.5 L552.4 48.3 L566.5 43.0 L580.5 37.8 L594.6 32.5 L608.7 27.2 L622.8 21.9 L636.8 16.6" stroke="#C56E1A"/>
<path d="M101.9 167.6 L116.0 167.4 L130.0 166.8 L144.1 165.8 L158.2 164.4 L172.2 162.6 L186.3 160.5 L200.4 158.1 L214.4 155.4 L228.5 152.4 L242.6 149.2 L256.6 145.8 L270.7 142.1 L284.8 138.3 L298.8 134.3 L312.9 130.2 L327.0 126.0 L341.0 121.6 L355.1 117.2 L369.2 112.6 L383.2 108.0 L397.3 103.3 L411.4 98.5 L425.4 93.7 L439.5 88.8 L453.6 83.9 L467.6 78.9 L481.7 73.9 L495.8 68.8 L509.8 63.7 L523.9 58.6 L538.0 53.4 L552.1 48.2 L566.1 43.0 L580.2 37.8 L594.3 32.5 L608.3 27.2 L622.4 21.9 L636.5 16.6" stroke="#5D9EC7"/>
<path d="M101.9 167.2 L116.0 167.0 L130.0 166.4 L144.1 165.4 L158.1 164.0 L172.2 162.2 L186.2 160.1 L200.3 157.7 L214.4 155.0 L228.4 152.1 L242.5 148.9 L256.5 145.4 L270.6 141.8 L284.6 138.0 L298.7 134.1 L312.8 130.0 L326.8 125.8 L340.9 121.4 L354.9 117.0 L369.0 112.5 L383.0 107.8 L397.1 103.1 L411.2 98.4 L425.2 93.6 L439.3 88.7 L453.3 83.8 L467.4 78.8 L481.4 73.8 L495.5 68.7 L509.5 63.6 L523.6 58.5 L537.7 53.3 L551.7 48.2 L565.8 43.0 L579.8 37.7 L593.9 32.5 L607.9 27.2 L622.0 21.9 L636.1 16.6" stroke="#FFBF00"/>
<path d="M101.9 166.8 L115.9 166.6 L130.0 165.9 L144.0 164.9 L158.1 163.6 L172.1 161.8 L186.2 159.7 L200.2 157.4 L214.3 154.7 L228.3 151.7 L242.4 148.5 L256.4 145.1 L270.5 141.5 L284.5 137.8 L298.6 133.8 L312.6 129.7 L326.6 125.5 L340.7 121.2 L354.7 116.8 L368.8 112.3 L382.8 107.7 L396.9 103.0 L410.9 98.2 L425.0 93.4 L439.0 88.6 L453.1 83.6 L467.1 78.7 L481.2 73.7 L495.2 68.6 L509.2 63.5 L523.3 58.4 L537.3 53.3 L551.4 48.1 L565.4 42.9 L579.5 37.7 L593.5 32.4 L607.6 27.2 L621.6 21.9 L635.7 16.6" stroke="#A5609D"/>
<path d="M101.9 166.3 L115.9 166.1 L130.0 165.5 L144.0 164.5 L158.0 163.2 L172.1 161.4 L186.1 159.4 L200.2 157.0 L214.2 154.3 L228.2 151.4 L242.3 148.2 L256.3 144.8 L270.3 141.2 L284.4 137.5 L298.4 133.5 L312.4 129.5 L326.5 125.3 L340.5 121.0 L354.5 116.6 L368.6 112.1 L382.6 107.5 L396.7 102.8 L410.7 98.1 L424.7 93.3 L438.8 88.4 L452.8 83.5 L466.8 78.6 L480.9 73.6 L494.9 68.5 L508.9 63.5 L523.0 58.4 L537.0 53.2 L551.1 48.1 L565.1 42.9 L579.1 37.7 L593.2 32.4 L607.2 27.2 L621.2 21.9 L635.3 16.6" stroke="#929600"/>
<path d="M101.9 165.9 L115.9 165.7 L130.0 165.1 L144.0 164.1 L158.0 162.7 L172.0 161.0 L186.1 159.0 L200.1 156.6 L214.1 153.9 L228.1 151.0 L242.2 147.9 L256.2 144.5 L270.2 140.9 L284.2 137.2 L298.3 133.3 L312.3 129.2 L326.3 125.1 L340.3 120.8 L354.4 116.4 L368.4 111.9 L382.4 107.3 L396.4 102.6 L410.5 97.9 L424.5 93.1 L438.5 88.3 L452.5 83.4 L466.6 78.5 L480.6 73.5 L494.6 68.4 L508.6 63.4 L522.7 58.3 L536.7 53.2 L550.7 48.0 L564.7 42.8 L578.8 37.6 L592.8 32.4 L606.8 27.2 L620.8 21.9 L634.9 16.6" stroke="#E95536"/>
<path d="M101.9 165.4 L116.3 165.2 L130.7 164.6 L145.1 163.6 L159.5 162.2 L173.9 160.4 L188.3 158.2 L202.7 155.7 L217.0 153.0 L231.4 149.9 L245.8 146.7 L260.2 143.2 L274.6 139.4 L289.0 135.6 L303.4 131.5 L317.8 127.3 L332.2 123.0 L346.6 118.5 L361.0 114.0 L375.4 109.3 L389.8 104.6 L404.2 99.8 L418.6 94.9 L433.0 90.0 L447.3 85.0 L461.7 79.9 L476.1 74.9 L490.5 69.7 L504.9 64.5 L519.3 59.3 L533.7 54.1 L548.1 48.8 L562.5 43.5 L576.9 38.2 L591.3 32.8 L605.7 27.4 L620.1 22.0 L634.5 16.6" stroke="#6685D9"/>
<path d="M101.9 165.0 L116.3 164.8 L130.7 164.2 L145.0 163.2 L159.4 161.7 L173.8 160.0 L188.2 157.8 L202.6 155.4 L217.0 152.6 L231.3 149.6 L245.7 146.3 L260.1 142.8 L274.5 139.1 L288.9 135.3 L303.3 131.2 L317.6 127.1 L332.0 122.7 L346.4 118.3 L360.8 113.8 L375.2 109.2 L389.6 104.4 L403.9 99.6 L418.3 94.8 L432.7 89.9 L447.1 84.9 L461.5 79.8 L475.8 74.8 L490.2 69.6 L504.6 64.5 L519.0 59.2 L533.4 54.0 L547.8 48.7 L562.1 43.4 L576.5 38.1 L590.9 32.8 L605.3 27.4 L619.7 22.0 L634.1 16.6" stroke="#F89F13"/>
<path d="M101.9 164.6 L116.3 164.4 L130.6 163.7 L145.0 162.7 L159.4 161.3 L173.8 159.6 L188.1 157.4 L202.5 155.0 L216.9 152.3 L231.2 149.3 L245.6 146.0 L260.0 142.5 L274.4 138.9 L288.7 135.0 L303.1 131.0 L317.5 126.8 L331.8 122.5 L346.2 118.1 L360.6 113.6 L375.0 109.0 L389.3 104.3 L403.7 99.5 L418.1 94.6 L432.4 89.7 L446.8 84.7 L461.2 79.7 L475.6 74.6 L489.9 69.5 L504.3 64.4 L518.7 59.2 L533.0 53.9 L547.4 48.7 L561.8 43.4 L576.2 38.1 L590.5 32.7 L604.9 27.4 L619.3 22.0 L633.6 16.6" stroke="#BC5B80"/>
<path d="M101.9 164.1 L116.3 163.9 L130.6 163.3 L145.0 162.3 L159.3 160.9 L173.7 159.1 L188.1 157.0 L202.4 154.6 L216.8 151.9 L231.1 148.9 L245.5 145.7 L259.9 142.2 L274.2 138.6 L288.6 134.7 L302.9 130.7 L317.3 126.6 L331.7 122.3 L346.0 117.9 L360.4 113.4 L374.7 108.8 L389.1 104.1 L403.5 99.3 L417.8 94.5 L432.2 89.6 L446.6 84.6 L460.9 79.6 L475.3 74.5 L489.6 69.4 L504.0 64.3 L518.4 59.1 L532.7 53.9 L547.1 48.6 L561.4 43.4 L575.8 38.1 L590.2 32.7 L604.5 27.4 L618.9 22.0 L633.2 16.6" stroke="#47B66D"/>
<path d="M101.9 163.7 L116.2 163.5 L130.6 162.9 L144.9 161.9 L159.3 160.5 L173.6 158.7 L188.0 156.7 L202.3 154.2 L216.7 151.5 L231.0 148.6 L245.4 145.3 L259.7 141.9 L274.1 138.3 L288.4 134.4 L302.8 130.4 L317.1 126.3 L331.5 122.0 L345.8 117.7 L360.2 113.2 L374.5 108.6 L388.9 103.9 L403.2 99.2 L417.6 94.3 L431.9 89.4 L446.3 84.5 L460.6 79.5 L475.0 74.4 L489.3 69.3 L503.7 64.2 L518.0 59.0 L532.4 53.8 L546.7 48.6 L561.1 43.3 L575.4 38.0 L589.8 32.7 L604.1 27.4 L618.5 22.0 L632.8 16.6" stroke="#5E81B5"/>
<path d="M101.9 163.3 L116.2 163.1 L130.6 162.5 L144.9 161.5 L159.3 160.1 L173.6 158.3 L187.9 156.3 L202.3 153.9 L216.6 151.2 L230.9 148.2 L245.3 145.0 L259.6 141.6 L274.0 138.0 L288.3 134.2 L302.6 130.2 L317.0 126.1 L331.3 121.8 L345.6 117.4 L360.0 113.0 L374.3 108.4 L388.7 103.7 L403.0 99.0 L417.3 94.2 L431.7 89.3 L446.0 84.4 L460.4 79.4 L474.7 74.3 L489.0 69.2 L503.4 64.1 L517.7 59.0 L532.0 53.8 L546.4 48.5 L560.7 43.3 L575.1 38.0 L589.4 32.7 L603.7 27.3 L618.1 22.0 L632.4 16.6" stroke="#E19C24"/>
<path d="M101.9 162.8 L116.2 162.6 L130.6 162.0 L144.9 161.0 L159.2 159.7 L173.5 157.9 L187.9 155.9 L202.2 153.5 L216.5 150.8 L230.8 147.9 L245.2 144.7 L259.5 141.3 L273.8 137.7 L288.1 133.9 L302.5 129.9 L316.8 125.8 L331.1 121.6 L345.5 117.2 L359.8 112.8 L374.1 108.2 L388.4 103.5 L402.8 98.8 L417.1 94.0 L431.4 89.2 L445.7 84.2 L460.1 79.3 L474.4 74.2 L488.7 69.2 L503.1 64.0 L517.4 58.9 L531.7 53.7 L546.0 48.5 L560.4 43.2 L574.7 37.9 L589.0 32.6 L603.3 27.3 L617.7 22.0 L632.0 16.6" stroke="#8FB032"/>
<path d="M101.9 162.4 L116.2 162.2 L130.5 161.6 L144.8 160.6 L159.2 159.2 L173.5 157.5 L187.8 155.5 L202.1 153.1 L216.4 150.4 L230.7 147.5 L245.1 144.3 L259.4 141.0 L273.7 137.4 L288.0 133.6 L302.3 129.6 L316.6 125.6 L330.9 121.3 L345.3 117.0 L359.6 112.5 L373.9 108.0 L388.2 103.4 L402.5 98.7 L416.8 93.9 L431.2 89.0 L445.5 84.1 L459.8 79.1 L474.1 74.1 L488.4 69.1 L502.7 64.0 L517.0 58.8 L531.4 53.6 L545.7 48.4 L560.0 43.2 L574.3 37.9 L588.6 32.6 L602.9 27.3 L617.3 22.0 L631.6 16.6" stroke="#EB6235"/>
<path d="M101.9 162.0 L116.2 161.8 L130.5 161.2 L144.8 160.2 L159.1 158.8 L173.4 157.1 L187.7 155.1 L202.0 152.7 L216.3 150.1 L230.6 147.2 L244.9 144.0 L259.2 140.6 L273.5 137.1 L287.9 133.3 L302.2 129.4 L316.5 125.3 L330.8 121.1 L345.1 116.8 L359.4 112.3 L373.7 107.8 L388.0 103.2 L402.3 98.5 L416.6 93.7 L430.9 88.9 L445.2 84.0 L459.5 79.0 L473.8 74.0 L488.1 69.0 L502.4 63.9 L516.7 58.7 L531.0 53.6 L545.3 48.4 L559.6 43.1 L573.9 37.9 L588.2 32.6 L602.5 27.3 L616.8 22.0 L631.1 16.6" stroke="#8778B3"/>
<path d="M101.9 161.5 L116.2 161.3 L130.5 160.7 L144.8 159.8 L159.1 158.4 L173.4 156.7 L187.7 154.7 L201.9 152.4 L216.2 149.7 L230.5 146.8 L244.8 143.7 L259.1 140.3 L273.4 136.8 L287.7 133.0 L302.0 129.1 L316.3 125.1 L330.6 120.9 L344.9 116.6 L359.2 112.1 L373.5 107.6 L387.8 103.0 L402.0 98.3 L416.3 93.6 L430.6 88.7 L444.9 83.8 L459.2 78.9 L473.5 73.9 L487.8 68.9 L502.1 63.8 L516.4 58.7 L530.7 53.5 L545.0 48.3 L559.3 43.1 L573.6 37.8 L587.8 32.6 L602.1 27.3 L616.4 21.9 L630.7 16.6" stroke="#C56E1A"/>
<path d="M101.9 161.1 L116.2 160.9 L130.5 160.3 L144.7 159.3 L159.0 158.0 L173.3 156.3 L187.6 154.3 L201.9 152.0 L216.1 149.4 L230.4 146.5 L244.7 143.3 L259.0 140.0 L273.3 136.5 L287.6 132.7 L301.8 128.8 L316.1 124.8 L330.4 120.6 L344.7 116.3 L359.0 111.9 L373.2 107.4 L387.5 102.8 L401.8 98.1 L416.1 93.4 L430.4 88.6 L444.6 83.7 L458.9 78.8 L473.2 73.8 L487.5 68.8 L501.8 63.7 L516.0 58.6 L530.3 53.4 L544.6 48.3 L558.9 43.0 L573.2 37.8 L587.5 32.5 L601.7 27.2 L616.0 21.9 L630.3 16.6" stroke="#5D9EC7"/>
<path d="M101.9 160.6 L116.2 160.5 L130.4 159.9 L144.7 158.9 L159.0 157.6 L173.2 155.9 L187.5 153.9 L201.8 151.6 L216.1 149.0 L230.3 146.1 L244.6 143.0 L258.9 139.7 L273.1 136.2 L287.4 132.4 L301.7 128.6 L315.9 124.5 L330.2 120.4 L344.5 116.1 L358.7 111.7 L373.0 107.2 L387.3 102.6 L401.6 98.0 L415.8 93.2 L430.1 88.4 L444.4 83.6 L458.6 78.7 L472.9 73.7 L487.2 68.7 L501.4 63.6 L515.7 58.5 L530.0 53.4 L544.2 48.2 L558.5 43.0 L572.8 37.8 L587.1 32.5 L601.3 27.2 L615.6 21.9 L629.9 16.6" stroke="#FFBF00"/>
<path d="M101.9 160.2 L116.2 160.0 L130.4 159.4 L144.7 158.5 L158.9 157.2 L173.2 155.5 L187.4 153.5 L201.7 151.2 L216.0 148.6 L230.2 145.8 L244.5 142.7 L258.7 139.4 L273.0 135.9 L287.2 132.2 L301.5 128.3 L315.8 124.3 L330.0 120.1 L344.3 115.9 L358.5 111.5 L372.8 107.0 L387.1 102.5 L401.3 97.8 L415.6 93.1 L429.8 88.3 L444.1 83.4 L458.3 78.5 L472.6 73.6 L486.9 68.6 L501.1 63.5 L515.4 58.4 L529.6 53.3 L543.9 48.1 L558.1 43.0 L572.4 37.7 L586.7 32.5 L600.9 27.2 L615.2 21.9 L629.4 16.6" stroke="#A5609D"/>
<path d="M101.9 159.8 L116.1 159.6 L130.4 159.0 L144.6 158.1 L158.9 156.8 L173.1 155.1 L187.4 153.1 L201.6 150.8 L215.9 148.3 L230.1 145.4 L244.4 142.3 L258.6 139.0 L272.8 135.5 L287.1 131.9 L301.3 128.0 L315.6 124.0 L329.8 119.9 L344.1 115.6 L358.3 111.3 L372.6 106.8 L386.8 102.3 L401.1 97.6 L415.3 92.9 L429.6 88.2 L443.8 83.3 L458.0 78.4 L472.3 73.5 L486.5 68.5 L500.8 63.4 L515.0 58.4 L529.3 53.2 L543.5 48.1 L557.8 42.9 L572.0 37.7 L586.3 32.5 L600.5 27.2 L614.7 21.9 L629.0 16.6" stroke="#929600"/>
<path d="M101.9 159.3 L116.1 159.1 L130.4 158.6 L144.6 157.6 L158.8 156.3 L173.1 154.7 L187.3 152.7 L201.5 150.5 L215.8 147.9 L230.0 145.1 L244.2 142.0 L258.5 138.7 L272.7 135.2 L286.9 131.6 L301.2 127.8 L315.4 123.8 L329.6 119.7 L343.9 115.4 L358.1 111.1 L372.3 106.6 L386.6 102.1 L400.8 97.5 L415.0 92.8 L429.3 88.0 L443.5 83.2 L457.7 78.3 L472.0 73.4 L486.2 68.4 L500.5 63.3 L514.7 58.3 L528.9 53.2 L543.2 48.0 L557.4 42.9 L571.6 37.7 L585.9 32.4 L600.1 27.2 L614.3 21.9 L628.6 16.6" stroke="#E95536"/>
<path d="M101.9 158.9 L116.1 158.7 L130.3 158.1 L144.6 157.2 L158.8 155.9 L173.0 154.3 L187.2 152.3 L201.5 150.1 L215.7 147.5 L229.9 144.7 L244.1 141.7 L258.3 138.4 L272.6 134.9 L286.8 131.3 L301.0 127.5 L315.2 123.5 L329.5 119.4 L343.7 115.2 L357.9 110.9 L372.1 106.4 L386.3 101.9 L400.6 97.3 L414.8 92.6 L429.0 87.9 L443.2 83.0 L457.5 78.2 L471.7 73.2 L485.9 68.3 L500.1 63.3 L514.3 58.2 L528.6 53.1 L542.8 48.0 L557.0 42.8 L571.2 37.6 L585.4 32.4 L599.7 27.2 L613.9 21.9 L628.1 16.6" stroke="#6685D9"/>
<path d="M101.9 158.5 L116.1 158.3 L130.3 157.7 L144.5 156.8 L158.7 155.5 L173.0 153.9 L187.2 151.9 L201.4 149.7 L215.6 147.2 L229.8 144.4 L244.0 141.3 L258.2 138.1 L272.4 134.6 L286.6 131.0 L300.8 127.2 L315.1 123.3 L329.3 119.2 L343.5 115.0 L357.7 110.6 L371.9 106.2 L386.1 101.7 L400.3 97.1 L414.5 92.5 L428.7 87.7 L442.9 82.9 L457.2 78.0 L471.4 73.1 L485.6 68.2 L499.8 63.2 L514.0 58.1 L528.2 53.0 L542.4 47.9 L556.6 42.8 L570.8 37.6 L585.0 32.4 L599.3 27.1 L613.5 21.9 L627.7 16.6" stroke="#F89F13"/>
<path d="M101.9 158.0 L116.1 157.8 L130.3 157.3 L144.5 156.4 L158.7 155.1 L172.9 153.5 L187.1 151.5 L201.3 149.3 L215.5 146.8 L229.7 144.0 L243.9 141.0 L258.1 137.8 L272.3 134.3 L286.5 130.7 L300.7 126.9 L314.9 123.0 L329.1 118.9 L343.3 114.7 L357.5 110.4 L371.7 106.0 L385.9 101.5 L400.1 96.9 L414.3 92.3 L428.5 87.6 L442.7 82.8 L456.8 77.9 L471.0 73.0 L485.2 68.1 L499.4 63.1 L513.6 58.0 L527.8 53.0 L542.0 47.9 L556.2 42.7 L570.4 37.5 L584.6 32.3 L598.8 27.1 L613.0 21.9 L627.2 16.6" stroke="#BC5B80"/>
<path d="M101.9 157.6 L116.1 157.4 L130.3 156.9 L144.5 155.9 L158.6 154.7 L172.8 153.1 L187.0 151.1 L201.2 148.9 L215.4 146.4 L229.6 143.7 L243.8 140.7 L257.9 137.4 L272.1 134.0 L286.3 130.4 L300.5 126.7 L314.7 122.7 L328.9 118.7 L343.1 114.5 L357.2 110.2 L371.4 105.8 L385.6 101.3 L399.8 96.8 L414.0 92.1 L428.2 87.4 L442.4 82.6 L456.5 77.8 L470.7 72.9 L484.9 68.0 L499.1 63.0 L513.3 58.0 L527.5 52.9 L541.7 47.8 L555.8 42.7 L570.0 37.5 L584.2 32.3 L598.4 27.1 L612.6 21.9 L626.8 16.6" stroke="#47B66D"/>
<path d="M101.9 157.2 L116.1 157.0 L130.2 156.4 L144.4 155.5 L158.6 154.3 L172.8 152.7 L186.9 150.7 L201.1 148.5 L215.3 146.1 L229.5 143.3 L243.6 140.3 L257.8 137.1 L272.0 133.7 L286.2 130.1 L300.3 126.4 L314.5 122.5 L328.7 118.4 L342.9 114.3 L357.0 110.0 L371.2 105.6 L385.4 101.2 L399.5 96.6 L413.7 92.0 L427.9 87.3 L442.1 82.5 L456.2 77.7 L470.4 72.8 L484.6 67.9 L498.8 62.9 L512.9 57.9 L527.1 52.8 L541.3 47.7 L555.5 42.6 L569.6 37.5 L583.8 32.3 L598.0 27.1 L612.2 21.9 L626.3 16.6" stroke="#5E81B5"/>
<path d="M101.9 156.7 L116.1 156.5 L130.2 156.0 L144.4 155.1 L158.5 153.8 L172.7 152.3 L186.9 150.4 L201.0 148.2 L215.2 145.7 L229.4 142.9 L243.5 140.0 L257.7 136.8 L271.8 133.4 L286.0 129.8 L300.2 126.1 L314.3 122.2 L328.5 118.2 L342.6 114.0 L356.8 109.8 L371.0 105.4 L385.1 101.0 L399.3 96.4 L413.5 91.8 L427.6 87.1 L441.8 82.4 L455.9 77.6 L470.1 72.7 L484.3 67.8 L498.4 62.8 L512.6 57.8 L526.7 52.8 L540.9 47.7 L555.1 42.6 L569.2 37.4 L583.4 32.3 L597.5 27.1 L611.7 21.8 L625.9 16.6" stroke="#E19C24"/>
<path d="M101.9 156.3 L116.0 156.1 L130.2 155.6 L144.3 154.7 L158.5 153.4 L172.6 151.8 L186.8 150.0 L200.9 147.8 L215.1 145.3 L229.2 142.6 L243.4 139.6 L257.5 136.5 L271.7 133.1 L285.8 129.5 L300.0 125.8 L314.1 121.9 L328.3 117.9 L342.4 113.8 L356.6 109.6 L370.7 105.2 L384.9 100.8 L399.0 96.2 L413.2 91.6 L427.3 87.0 L441.5 82.2 L455.6 77.4 L469.8 72.6 L483.9 67.7 L498.1 62.7 L512.2 57.7 L526.4 52.7 L540.5 47.6 L554.7 42.5 L568.8 37.4 L583.0 32.2 L597.1 27.0 L611.3 21.8 L625.4 16.6" stroke="#8FB032"/>
<path d="M101.9 155.8 L116.0 155.7 L130.2 155.1 L144.3 154.2 L158.4 153.0 L172.6 151.4 L186.7 149.6 L200.9 147.4 L215.0 144.9 L229.1 142.2 L243.3 139.3 L257.4 136.1 L271.5 132.8 L285.7 129.2 L299.8 125.5 L313.9 121.7 L328.1 117.7 L342.2 113.6 L356.4 109.3 L370.5 105.0 L384.6 100.6 L398.8 96.1 L412.9 91.5 L427.0 86.8 L441.2 82.1 L455.3 77.3 L469.5 72.5 L483.6 67.6 L497.7 62.6 L511.9 57.6 L526.0 52.6 L540.1 47.6 L554.3 42.5 L568.4 37.4 L582.5 32.2 L596.7 27.0 L610.8 21.8 L625.0 16.6" stroke="#EB6235"/>
<path d="M101.9 155.4 L116.0 155.2 L130.1 154.7 L144.3 153.8 L158.4 152.6 L172.5 151.0 L186.6 149.2 L200.8 147.0 L214.9 144.6 L229.0 141.9 L243.1 139.0 L257.3 135.8 L271.4 132.5 L285.5 129.0 L299.6 125.3 L313.8 121.4 L327.9 117.4 L342.0 113.3 L356.1 109.1 L370.3 104.8 L384.4 100.4 L398.5 95.9 L412.6 91.3 L426.8 86.7 L440.9 81.9 L455.0 77.2 L469.1 72.3 L483.3 67.5 L497.4 62.5 L511.5 57.6 L525.6 52.6 L539.7 47.5 L553.9 42.4 L568.0 37.3 L582.1 32.2 L596.2 27.0 L610.4 21.8 L624.5 16.6" stroke="#8778B3"/>
<path d="M101.9 155.0 L116.0 154.8 L130.1 154.3 L144.2 153.4 L158.3 152.2 L172.5 150.6 L186.6 148.8 L200.7 146.6 L214.8 144.2 L228.9 141.5 L243.0 138.6 L257.1 135.5 L271.2 132.2 L285.4 128.7 L299.5 125.0 L313.6 121.2 L327.7 117.2 L341.8 113.1 L355.9 108.9 L370.0 104.6 L384.1 100.2 L398.2 95.7 L412.4 91.1 L426.5 86.5 L440.6 81.8 L454.7 77.0 L468.8 72.2 L482.9 67.4 L497.0 62.4 L511.1 57.5 L525.2 52.5 L539.4 47.4 L553.5 42.4 L567.6 37.3 L581.7 32.1 L595.8 27.0 L609.9 21.8 L624.0 16.6" stroke="#C56E1A"/>
<path d="M101.9 154.5 L116.0 154.4 L130.1 153.8 L144.2 153.0 L158.3 151.7 L172.4 150.2 L186.5 148.4 L200.6 146.2 L214.7 143.8 L228.8 141.2 L242.9 138.3 L257.0 135.2 L271.1 131.9 L285.2 128.4 L299.3 124.7 L313.4 120.9 L327.5 116.9 L341.6 112.9 L355.7 108.7 L369.8 104.4 L383.9 100.0 L398.0 95.5 L412.1 91.0 L426.2 86.4 L440.3 81.7 L454.4 76.9 L468.5 72.1 L482.6 67.3 L496.7 62.4 L510.8 57.4 L524.9 52.4 L539.0 47.4 L553.1 42.3 L567.2 37.2 L581.3 32.1 L595.4 27.0 L609.5 21.8 L623.6 16.6" stroke="#5D9EC7"/>
<path d="M101.9 154.1 L116.0 153.9 L130.1 153.4 L144.2 152.5 L158.2 151.3 L172.3 149.8 L186.4 148.0 L200.5 145.9 L214.6 143.5 L228.7 140.8 L242.8 137.9 L256.8 134.8 L270.9 131.5 L285.0 128.1 L299.1 124.4 L313.2 120.6 L327.3 116.7 L341.4 112.6 L355.5 108.5 L369.5 104.2 L383.6 99.8 L397.7 95.4 L411.8 90.8 L425.9 86.2 L440.0 81.5 L454.1 76.8 L468.1 72.0 L482.2 67.2 L496.3 62.3 L510.4 57.3 L524.5 52.3 L538.6 47.3 L552.7 42.3 L566.7 37.2 L580.8 32.1 L594.9 27.0 L609.0 21.8 L623.1 16.6" stroke="#FFBF00"/>
<path d="M101.9 153.7 L116.0 153.5 L130.0 153.0 L144.1 152.1 L158.2 150.9 L172.3 149.4 L186.3 147.6 L200.4 145.5 L214.5 143.1 L228.6 140.5 L242.6 137.6 L256.7 134.5 L270.8 131.2 L284.9 127.8 L298.9 124.1 L313.0 120.4 L327.1 116.4 L341.1 112.4 L355.2 108.2 L369.3 104.0 L383.4 99.6 L397.4 95.2 L411.5 90.7 L425.6 86.1 L439.7 81.4 L453.7 76.7 L467.8 71.9 L481.9 67.0 L496.0 62.2 L510.0 57.2 L524.1 52.3 L538.2 47.3 L552.3 42.2 L566.3 37.2 L580.4 32.1 L594.5 26.9 L608.5 21.8 L622.6 16.6" stroke="#A5609D"/>
<path d="M101.9 153.2 L116.0 153.1 L130.0 152.5 L144.1 151.7 L158.1 150.5 L172.2 149.0 L186.3 147.2 L200.3 145.1 L214.4 142.7 L228.4 140.1 L242.5 137.2 L256.6 134.2 L270.6 130.9 L284.7 127.5 L298.7 123.9 L312.8 120.1 L326.9 116.2 L340.9 112.2 L355.0 108.0 L369.1 103.8 L383.1 99.4 L397.2 95.0 L411.2 90.5 L425.3 85.9 L439.4 81.2 L453.4 76.5 L467.5 71.8 L481.5 66.9 L495.6 62.1 L509.7 57.2 L523.7 52.2 L537.8 47.2 L551.8 42.2 L565.9 37.1 L580.0 32.0 L594.0 26.9 L608.1 21.8 L622.1 16.6" stroke="#929600"/>
<path d="M101.9 152.8 L115.9 152.6 L130.0 152.1 L144.0 151.3 L158.1 150.1 L172.1 148.6 L186.2 146.8 L200.2 144.7 L214.3 142.3 L228.3 139.7 L242.4 136.9 L256.4 133.8 L270.5 130.6 L284.5 127.2 L298.6 123.6 L312.6 119.8 L326.7 115.9 L340.7 111.9 L354.8 107.8 L368.8 103.6 L382.9 99.2 L396.9 94.8 L410.9 90.3 L425.0 85.7 L439.0 81.1 L453.1 76.4 L467.1 71.6 L481.2 66.8 L495.2 62.0 L509.3 57.1 L523.3 52.1 L537.4 47.1 L551.4 42.1 L565.5 37.1 L579.5 32.0 L593.6 26.9 L607.6 21.8 L621.7 16.6" stroke="#E95536"/>
<path d="M101.9 152.4 L115.9 152.2 L130.0 151.7 L144.0 150.8 L158.0 149.7 L172.1 148.2 L186.1 146.4 L200.1 144.3 L214.2 142.0 L228.2 139.4 L242.2 136.6 L256.3 133.5 L270.3 130.3 L284.4 126.9 L298.4 123.3 L312.4 119.6 L326.5 115.7 L340.5 111.7 L354.5 107.6 L368.6 103.4 L382.6 99.0 L396.6 94.6 L410.7 90.1 L424.7 85.6 L438.7 81.0 L452.8 76.3 L466.8 71.5 L480.8 66.7 L494.9 61.9 L508.9 57.0 L522.9 52.1 L537.0 47.1 L551.0 42.1 L565.0 37.0 L579.1 32.0 L593.1 26.9 L607.1 21.7 L621.2 16.6" stroke="#6685D9"/>
<path d="M101.9 151.9 L115.9 151.8 L129.9 151.2 L144.0 150.4 L158.0 149.2 L172.0 147.8 L186.0 146.0 L200.1 143.9 L214.1 141.6 L228.1 139.0 L242.1 136.2 L256.1 133.2 L270.2 130.0 L284.2 126.6 L298.2 123.0 L312.2 119.3 L326.2 115.4 L340.3 111.4 L354.3 107.3 L368.3 103.1 L382.3 98.8 L396.4 94.4 L410.4 90.0 L424.4 85.4 L438.4 80.8 L452.4 76.1 L466.5 71.4 L480.5 66.6 L494.5 61.8 L508.5 56.9 L522.5 52.0 L536.6 47.0 L550.6 42.0 L564.6 37.0 L578.6 31.9 L592.7 26.9 L606.7 21.7 L620.7 16.6" stroke="#F89F13"/>
<path d="M101.9 151.5 L116.3 151.3 L130.7 150.8 L145.1 149.9 L159.5 148.7 L173.9 147.1 L188.3 145.3 L202.7 143.1 L217.1 140.7 L231.5 138.0 L245.9 135.0 L260.3 131.9 L274.7 128.5 L289.1 125.0 L303.5 121.3 L317.9 117.4 L332.3 113.4 L346.7 109.3 L361.1 105.0 L375.5 100.7 L389.9 96.2 L404.3 91.7 L418.6 87.0 L433.0 82.3 L447.4 77.6 L461.8 72.7 L476.2 67.8 L490.6 62.9 L505.0 57.9 L519.4 52.9 L533.8 47.8 L548.2 42.7 L562.6 37.5 L577.0 32.3 L591.4 27.1 L605.8 21.9 L620.2 16.6" stroke="#BC5B80"/>
<path d="M101.9 151.1 L116.3 150.9 L130.7 150.3 L145.1 149.5 L159.4 148.3 L173.8 146.7 L188.2 144.9 L202.6 142.7 L217.0 140.3 L231.4 137.6 L245.7 134.7 L260.1 131.6 L274.5 128.2 L288.9 124.7 L303.3 121.0 L317.7 117.2 L332.0 113.2 L346.4 109.1 L360.8 104.8 L375.2 100.5 L389.6 96.0 L404.0 91.5 L418.3 86.9 L432.7 82.2 L447.1 77.4 L461.5 72.6 L475.9 67.7 L490.3 62.8 L504.7 57.8 L519.0 52.8 L533.4 47.7 L547.8 42.6 L562.2 37.5 L576.6 32.3 L591.0 27.1 L605.3 21.9 L619.7 16.6" stroke="#47B66D"/>
<path d="M101.9 150.6 L116.3 150.4 L130.6 149.9 L145.0 149.0 L159.4 147.8 L173.8 146.3 L188.1 144.5 L202.5 142.3 L216.9 139.9 L231.2 137.3 L245.6 134.4 L260.0 131.2 L274.3 127.9 L288.7 124.4 L303.1 120.7 L317.5 116.9 L331.8 112.9 L346.2 108.8 L360.6 104.6 L374.9 100.3 L389.3 95.8 L403.7 91.3 L418.0 86.7 L432.4 82.0 L446.8 77.3 L461.2 72.5 L475.5 67.6 L489.9 62.7 L504.3 57.7 L518.6 52.7 L533.0 47.7 L547.4 42.6 L561.8 37.4 L576.1 32.3 L590.5 27.1 L604.9 21.9 L619.2 16.6" stroke="#5E81B5"/>
<path d="M101.9 150.2 L116.3 150.0 L130.6 149.5 L145.0 148.6 L159.3 147.4 L173.7 145.9 L188.0 144.1 L202.4 141.9 L216.8 139.6 L231.1 136.9 L245.5 134.0 L259.8 130.9 L274.2 127.6 L288.5 124.1 L302.9 120.5 L317.2 116.6 L331.6 112.7 L346.0 108.6 L360.3 104.4 L374.7 100.1 L389.0 95.6 L403.4 91.1 L417.7 86.6 L432.1 81.9 L446.5 77.2 L460.8 72.4 L475.2 67.5 L489.5 62.6 L503.9 57.7 L518.2 52.6 L532.6 47.6 L547.0 42.5 L561.3 37.4 L575.7 32.2 L590.0 27.1 L604.4 21.8 L618.7 16.6" stroke="#E19C24"/>
<path d="M101.9 149.7 L116.2 149.6 L130.6 149.1 L144.9 148.2 L159.3 147.0 L173.6 145.5 L188.0 143.7 L202.3 141.6 L216.6 139.2 L231.0 136.5 L245.3 133.7 L259.7 130.6 L274.0 127.3 L288.4 123.8 L302.7 120.2 L317.0 116.4 L331.4 112.4 L345.7 108.3 L360.1 104.2 L374.4 99.9 L388.8 95.5 L403.1 91.0 L417.4 86.4 L431.8 81.7 L446.1 77.0 L460.5 72.2 L474.8 67.4 L489.2 62.5 L503.5 57.6 L517.8 52.6 L532.2 47.5 L546.5 42.5 L560.9 37.4 L575.2 32.2 L589.6 27.0 L603.9 21.8 L618.2 16.6" stroke="#8FB032"/>
<path d="M101.9 149.3 L116.2 149.1 L130.6 148.6 L144.9 147.8 L159.2 146.6 L173.5 145.1 L187.9 143.3 L202.2 141.2 L216.5 138.8 L230.9 136.2 L245.2 133.3 L259.5 130.3 L273.8 127.0 L288.2 123.5 L302.5 119.9 L316.8 116.1 L331.2 112.2 L345.5 108.1 L359.8 103.9 L374.2 99.6 L388.5 95.3 L402.8 90.8 L417.1 86.2 L431.5 81.6 L445.8 76.9 L460.1 72.1 L474.5 67.3 L488.8 62.4 L503.1 57.5 L517.4 52.5 L531.8 47.5 L546.1 42.4 L560.4 37.3 L574.8 32.2 L589.1 27.0 L603.4 21.8 L617.7 16.6" stroke="#EB6235"/>
<path d="M101.9 148.9 L116.2 148.7 L130.5 148.2 L144.8 147.3 L159.2 146.2 L173.5 144.7 L187.8 142.9 L202.1 140.8 L216.4 138.4 L230.7 135.8 L245.1 133.0 L259.4 129.9 L273.7 126.7 L288.0 123.2 L302.3 119.6 L316.6 115.8 L330.9 111.9 L345.3 107.9 L359.6 103.7 L373.9 99.4 L388.2 95.1 L402.5 90.6 L416.8 86.1 L431.1 81.4 L445.5 76.8 L459.8 72.0 L474.1 67.2 L488.4 62.3 L502.7 57.4 L517.0 52.4 L531.4 47.4 L545.7 42.4 L560.0 37.3 L574.3 32.1 L588.6 27.0 L602.9 21.8 L617.2 16.6" stroke="#8778B3"/>
<path d="M101.9 148.4 L116.2 148.3 L130.5 147.8 L144.8 146.9 L159.1 145.7 L173.4 144.3 L187.7 142.5 L202.0 140.4 L216.3 138.1 L230.6 135.5 L244.9 132.6 L259.2 129.6 L273.5 126.3 L287.8 122.9 L302.1 119.3 L316.4 115.6 L330.7 111.7 L345.0 107.6 L359.3 103.5 L373.6 99.2 L387.9 94.9 L402.2 90.4 L416.5 85.9 L430.8 81.3 L445.1 76.6 L459.4 71.9 L473.7 67.1 L488.0 62.2 L502.3 57.3 L516.6 52.3 L530.9 47.3 L545.2 42.3 L559.5 37.2 L573.8 32.1 L588.1 27.0 L602.4 21.8 L616.7 16.6" stroke="#C56E1A"/>
<path d="M101.9 148.0 L116.2 147.8 L130.5 147.3 L144.8 146.5 L159.0 145.3 L173.3 143.8 L187.6 142.1 L201.9 140.0 L216.2 137.7 L230.5 135.1 L244.8 132.3 L259.1 129.3 L273.3 126.0 L287.6 122.6 L301.9 119.0 L316.2 115.3 L330.5 111.4 L344.8 107.4 L359.1 103.3 L373.4 99.0 L387.6 94.7 L401.9 90.2 L416.2 85.7 L430.5 81.1 L444.8 76.5 L459.1 71.7 L473.4 67.0 L487.6 62.1 L501.9 57.2 L516.2 52.3 L530.5 47.3 L544.8 42.3 L559.1 37.2 L573.4 32.1 L587.7 27.0 L601.9 21.8 L616.2 16.6" stroke="#5D9EC7"/>
<path d="M101.9 147.6 L116.2 147.4 L130.4 146.9 L144.7 146.1 L159.0 144.9 L173.3 143.4 L187.5 141.7 L201.8 139.6 L216.1 137.3 L230.4 134.7 L244.6 131.9 L258.9 128.9 L273.2 125.7 L287.4 122.3 L301.7 118.7 L316.0 115.0 L330.3 111.2 L344.5 107.2 L358.8 103.0 L373.1 98.8 L387.4 94.5 L401.6 90.1 L415.9 85.6 L430.2 81.0 L444.4 76.3 L458.7 71.6 L473.0 66.8 L487.3 62.0 L501.5 57.1 L515.8 52.2 L530.1 47.2 L544.4 42.2 L558.6 37.1 L572.9 32.1 L587.2 26.9 L601.4 21.8 L615.7 16.6" stroke="#FFBF00"/>
<path d="M101.9 147.1 L116.2 147.0 L130.4 146.5 L144.7 145.6 L158.9 144.5 L173.2 143.0 L187.5 141.3 L201.7 139.2 L216.0 136.9 L230.2 134.4 L244.5 131.6 L258.7 128.6 L273.0 125.4 L287.3 122.0 L301.5 118.5 L315.8 114.8 L330.0 110.9 L344.3 106.9 L358.6 102.8 L372.8 98.6 L387.1 94.3 L401.3 89.9 L415.6 85.4 L429.8 80.8 L444.1 76.2 L458.4 71.5 L472.6 66.7 L486.9 61.9 L501.1 57.0 L515.4 52.1 L529.7 47.1 L543.9 42.1 L558.2 37.1 L572.4 32.0 L586.7 26.9 L600.9 21.8 L615.2 16.6" stroke="#A5609D"/>
<path d="M101.9 146.7 L116.1 146.5 L130.4 146.0 L144.6 145.2 L158.9 144.1 L173.1 142.6 L187.4 140.9 L201.6 138.8 L215.9 136.6 L230.1 134.0 L244.3 131.2 L258.6 128.3 L272.8 125.1 L287.1 121.7 L301.3 118.2 L315.6 114.5 L329.8 110.6 L344.0 106.7 L358.3 102.6 L372.5 98.4 L386.8 94.1 L401.0 89.7 L415.3 85.2 L429.5 80.7 L443.8 76.1 L458.0 71.4 L472.2 66.6 L486.5 61.8 L500.7 56.9 L515.0 52.0 L529.2 47.1 L543.5 42.1 L557.7 37.1 L572.0 32.0 L586.2 26.9 L600.4 21.8 L614.7 16.6" stroke="#929600"/>
<path d="M101.9 146.3 L116.1 146.1 L130.4 145.6 L144.6 144.8 L158.8 143.6 L173.0 142.2 L187.3 140.5 L201.5 138.5 L215.7 136.2 L230.0 133.7 L244.2 130.9 L258.4 127.9 L272.7 124.8 L286.9 121.4 L301.1 117.9 L315.3 114.2 L329.6 110.4 L343.8 106.4 L358.0 102.4 L372.3 98.2 L386.5 93.9 L400.7 89.5 L415.0 85.1 L429.2 80.5 L443.4 75.9 L457.6 71.2 L471.9 66.5 L486.1 61.7 L500.3 56.8 L514.6 52.0 L528.8 47.0 L543.0 42.0 L557.2 37.0 L571.5 32.0 L585.7 26.9 L599.9 21.7 L614.2 16.6" stroke="#E95536"/>
<path d="M101.9 145.8 L116.1 145.7 L130.3 145.2 L144.5 144.4 L158.8 143.2 L173.0 141.8 L187.2 140.1 L201.4 138.1 L215.6 135.8 L229.8 133.3 L244.1 130.6 L258.3 127.6 L272.5 124.4 L286.7 121.1 L300.9 117.6 L315.1 113.9 L329.3 110.1 L343.6 106.2 L357.8 102.1 L372.0 98.0 L386.2 93.7 L400.4 89.3 L414.6 84.9 L428.8 80.4 L443.1 75.8 L457.3 71.1 L471.5 66.4 L485.7 61.6 L499.9 56.8 L514.1 51.9 L528.4 46.9 L542.6 42.0 L556.8 37.0 L571.0 31.9 L585.2 26.8 L599.4 21.7 L613.6 16.6" stroke="#6685D9"/>
<path d="M101.9 145.4 L116.1 145.2 L130.3 144.7 L144.5 143.9 L158.7 142.8 L172.9 141.4 L187.1 139.7 L201.3 137.7 L215.5 135.4 L229.7 132.9 L243.9 130.2 L258.1 127.3 L272.3 124.1 L286.5 120.8 L300.7 117.3 L314.9 113.7 L329.1 109.9 L343.3 106.0 L357.5 101.9 L371.7 97.8 L385.9 93.5 L400.1 89.2 L414.3 84.7 L428.5 80.2 L442.7 75.6 L456.9 71.0 L471.1 66.3 L485.3 61.5 L499.5 56.7 L513.7 51.8 L527.9 46.9 L542.1 41.9 L556.3 36.9 L570.5 31.9 L584.7 26.8 L598.9 21.7 L613.1 16.6" stroke="#F89F13"/>
<path d="M101.9 144.9 L116.1 144.8 L130.3 144.3 L144.5 143.5 L158.6 142.4 L172.8 141.0 L187.0 139.3 L201.2 137.3 L215.4 135.0 L229.6 132.6 L243.8 129.9 L257.9 126.9 L272.1 123.8 L286.3 120.5 L300.5 117.0 L314.7 113.4 L328.9 109.6 L343.1 105.7 L357.2 101.7 L371.4 97.5 L385.6 93.3 L399.8 89.0 L414.0 84.6 L428.2 80.1 L442.4 75.5 L456.5 70.8 L470.7 66.1 L484.9 61.4 L499.1 56.6 L513.3 51.7 L527.5 46.8 L541.7 41.9 L555.8 36.9 L570.0 31.9 L584.2 26.8 L598.4 21.7 L612.6 16.6" stroke="#BC5B80"/>
<path d="M101.9 144.5 L116.1 144.4 L130.2 143.9 L144.4 143.1 L158.6 142.0 L172.8 140.6 L186.9 138.9 L201.1 136.9 L215.3 134.7 L229.4 132.2 L243.6 129.5 L257.8 126.6 L272.0 123.5 L286.1 120.2 L300.3 116.7 L314.5 113.1 L328.6 109.4 L342.8 105.5 L357.0 101.5 L371.2 97.3 L385.3 93.1 L399.5 88.8 L413.7 84.4 L427.8 79.9 L442.0 75.3 L456.2 70.7 L470.3 66.0 L484.5 61.3 L498.7 56.5 L512.9 51.6 L527.0 46.7 L541.2 41.8 L555.4 36.8 L569.5 31.8 L583.7 26.8 L597.9 21.7 L612.1 16.6" stroke="#47B66D"/>
<path d="M101.9 144.1 L116.1 143.9 L130.2 143.4 L144.4 142.6 L158.5 141.5 L172.7 140.1 L186.8 138.5 L201.0 136.5 L215.2 134.3 L229.3 131.8 L243.5 129.2 L257.6 126.3 L271.8 123.2 L285.9 119.9 L300.1 116.4 L314.2 112.8 L328.4 109.1 L342.6 105.2 L356.7 101.2 L370.9 97.1 L385.0 92.9 L399.2 88.6 L413.3 84.2 L427.5 79.7 L441.7 75.2 L455.8 70.6 L470.0 65.9 L484.1 61.2 L498.3 56.4 L512.4 51.6 L526.6 46.7 L540.7 41.8 L554.9 36.8 L569.1 31.8 L583.2 26.8 L597.4 21.7 L611.5 16.6" stroke="#5E81B5"/>
<path d="M101.9 143.6 L116.0 143.5 L130.2 143.0 L144.3 142.2 L158.5 141.1 L172.6 139.7 L186.7 138.1 L200.9 136.1 L215.0 133.9 L229.2 131.5 L243.3 128.8 L257.5 125.9 L271.6 122.8 L285.7 119.6 L299.9 116.1 L314.0 112.6 L328.2 108.8 L342.3 105.0 L356.4 101.0 L370.6 96.9 L384.7 92.7 L398.9 88.4 L413.0 84.0 L427.2 79.6 L441.3 75.1 L455.4 70.5 L469.6 65.8 L483.7 61.1 L497.9 56.3 L512.0 51.5 L526.1 46.6 L540.3 41.7 L554.4 36.7 L568.6 31.8 L582.7 26.7 L596.8 21.7 L611.0 16.6" stroke="#E19C24"/>
<path d="M101.9 143.2 L116.0 143.0 L130.2 142.6 L144.3 141.8 L158.4 140.7 L172.5 139.3 L186.7 137.7 L200.8 135.7 L214.9 133.5 L229.0 131.1 L243.2 128.5 L257.3 125.6 L271.4 122.5 L285.5 119.3 L299.7 115.9 L313.8 112.3 L327.9 108.6 L342.0 104.7 L356.2 100.8 L370.3 96.7 L384.4 92.5 L398.6 88.2 L412.7 83.9 L426.8 79.4 L440.9 74.9 L455.1 70.3 L469.2 65.7 L483.3 61.0 L497.4 56.2 L511.6 51.4 L525.7 46.5 L539.8 41.6 L553.9 36.7 L568.1 31.7 L582.2 26.7 L596.3 21.7 L610.5 16.6" stroke="#8FB032"/>
<path d="M101.9 142.8 L116.0 142.6 L130.1 142.1 L144.2 141.4 L158.3 140.3 L172.5 138.9 L186.6 137.3 L200.7 135.3 L214.8 133.2 L228.9 130.7 L243.0 128.1 L257.1 125.2 L271.2 122.2 L285.3 119.0 L299.5 115.6 L313.6 112.0 L327.7 108.3 L341.8 104.5 L355.9 100.5 L370.0 96.5 L384.1 92.3 L398.2 88.0 L412.3 83.7 L426.5 79.3 L440.6 74.8 L454.7 70.2 L468.8 65.6 L482.9 60.9 L497.0 56.1 L511.1 51.3 L525.2 46.5 L539.4 41.6 L553.5 36.7 L567.6 31.7 L581.7 26.7 L595.8 21.7 L609.9 16.6" stroke="#EB6235"/>
<path d="M101.9 142.3 L116.0 142.2 L130.1 141.7 L144.2 140.9 L158.3 139.9 L172.4 138.5 L186.5 136.9 L200.6 134.9 L214.7 132.8 L228.8 130.4 L242.9 127.7 L257.0 124.9 L271.1 121.9 L285.2 118.7 L299.2 115.3 L313.3 111.7 L327.4 108.0 L341.5 104.2 L355.6 100.3 L369.7 96.3 L383.8 92.1 L397.9 87.9 L412.0 83.5 L426.1 79.1 L440.2 74.6 L454.3 70.1 L468.4 65.4 L482.5 60.8 L496.6 56.0 L510.7 51.2 L524.8 46.4 L538.9 41.5 L553.0 36.6 L567.1 31.7 L581.2 26.7 L595.3 21.7 L609.4 16.6" stroke="#8778B3"/>
<path d="M101.9 141.9 L116.0 141.7 L130.1 141.3 L144.1 140.5 L158.2 139.4 L172.3 138.1 L186.4 136.5 L200.5 134.6 L214.5 132.4 L228.6 130.0 L242.7 127.4 L256.8 124.6 L270.9 121.5 L285.0 118.3 L299.0 115.0 L313.1 111.5 L327.2 107.8 L341.3 104.0 L355.4 100.1 L369.4 96.0 L383.5 91.9 L397.6 87.7 L411.7 83.3 L425.8 78.9 L439.8 74.5 L453.9 69.9 L468.0 65.3 L482.1 60.6 L496.2 55.9 L510.2 51.2 L524.3 46.3 L538.4 41.5 L552.5 36.6 L566.6 31.6 L580.7 26.6 L594.7 21.6 L608.8 16.6" stroke="#C56E1A"/>
<path d="M101.9 141.5 L116.0 141.3 L130.0 140.8 L144.1 140.1 L158.2 139.0 L172.2 137.7 L186.3 136.1 L200.4 134.2 L214.4 132.0 L228.5 129.6 L242.6 127.0 L256.6 124.2 L270.7 121.2 L284.8 118.0 L298.8 114.7 L312.9 111.2 L327.0 107.5 L341.0 103.7 L355.1 99.8 L369.1 95.8 L383.2 91.7 L397.3 87.5 L411.3 83.2 L425.4 78.8 L439.5 74.3 L453.5 69.8 L467.6 65.2 L481.7 60.5 L495.7 55.8 L509.8 51.1 L523.9 46.3 L537.9 41.4 L552.0 36.5 L566.1 31.6 L580.1 26.6 L594.2 21.6 L608.3 16.6" stroke="#5D9EC7"/>
<path d="M101.9 141.0 L116.0 140.9 L130.0 140.4 L144.1 139.7 L158.1 138.6 L172.2 137.3 L186.2 135.6 L200.3 133.8 L214.3 131.6 L228.4 129.3 L242.4 126.7 L256.5 123.9 L270.5 120.9 L284.6 117.7 L298.6 114.4 L312.7 110.9 L326.7 107.3 L340.8 103.5 L354.8 99.6 L368.9 95.6 L382.9 91.5 L397.0 87.3 L411.0 83.0 L425.1 78.6 L439.1 74.2 L453.2 69.7 L467.2 65.1 L481.3 60.4 L495.3 55.7 L509.4 51.0 L523.4 46.2 L537.5 41.4 L551.5 36.5 L565.6 31.6 L579.6 26.6 L593.7 21.6 L607.7 16.6" stroke="#FFBF00"/>
<path d="M101.9 140.6 L115.9 140.4 L130.0 140.0 L144.0 139.2 L158.0 138.2 L172.1 136.8 L186.1 135.2 L200.1 133.4 L214.2 131.3 L228.2 128.9 L242.2 126.3 L256.3 123.6 L270.3 120.6 L284.4 117.4 L298.4 114.1 L312.4 110.6 L326.5 107.0 L340.5 103.2 L354.5 99.4 L368.6 95.4 L382.6 91.3 L396.6 87.1 L410.7 82.8 L424.7 78.5 L438.7 74.0 L452.8 69.5 L466.8 65.0 L480.8 60.3 L494.9 55.6 L508.9 50.9 L522.9 46.1 L537.0 41.3 L551.0 36.4 L565.1 31.5 L579.1 26.6 L593.1 21.6 L607.2 16.6" stroke="#A5609D"/>
<path d="M101.9 140.2 L115.9 140.0 L129.9 139.6 L144.0 138.8 L158.0 137.8 L172.0 136.4 L186.0 134.8 L200.0 133.0 L214.1 130.9 L228.1 128.5 L242.1 126.0 L256.1 123.2 L270.1 120.2 L284.2 117.1 L298.2 113.8 L312.2 110.3 L326.2 106.7 L340.2 103.0 L354.2 99.1 L368.3 95.2 L382.3 91.1 L396.3 86.9 L410.3 82.6 L424.3 78.3 L438.4 73.9 L452.4 69.4 L466.4 64.8 L480.4 60.2 L494.4 55.5 L508.5 50.8 L522.5 46.1 L536.5 41.2 L550.5 36.4 L564.5 31.5 L578.6 26.6 L592.6 21.6 L606.6 16.6" stroke="#929600"/>
<path d="M101.9 139.7 L116.3 139.6 L130.7 139.1 L145.1 138.3 L159.5 137.2 L173.9 135.8 L188.3 134.1 L202.7 132.2 L217.1 130.0 L231.5 127.5 L245.9 124.9 L260.3 122.0 L274.7 118.9 L289.1 115.6 L303.6 112.1 L318.0 108.5 L332.4 104.8 L346.8 100.9 L361.2 96.9 L375.6 92.7 L390.0 88.5 L404.4 84.2 L418.8 79.8 L433.2 75.2 L447.6 70.7 L462.0 66.0 L476.4 61.3 L490.8 56.5 L505.2 51.7 L519.6 46.8 L534.0 41.9 L548.4 36.9 L562.8 31.9 L577.2 26.8 L591.6 21.7 L606.0 16.6" stroke="#E95536"/>
<path d="M101.9 139.3 L116.3 139.1 L130.7 138.7 L145.1 137.9 L159.5 136.8 L173.8 135.4 L188.2 133.7 L202.6 131.8 L217.0 129.6 L231.4 127.2 L245.8 124.5 L260.2 121.6 L274.6 118.5 L288.9 115.3 L303.3 111.9 L317.7 108.3 L332.1 104.5 L346.5 100.6 L360.9 96.6 L375.3 92.5 L389.7 88.3 L404.0 84.0 L418.4 79.6 L432.8 75.1 L447.2 70.5 L461.6 65.9 L476.0 61.2 L490.4 56.4 L504.8 51.6 L519.1 46.7 L533.5 41.8 L547.9 36.8 L562.3 31.8 L576.7 26.8 L591.1 21.7 L605.5 16.6" stroke="#6685D9"/>
<path d="M101.9 138.8 L116.3 138.7 L130.6 138.2 L145.0 137.4 L159.4 136.4 L173.8 135.0 L188.1 133.3 L202.5 131.4 L216.9 129.2 L231.2 126.8 L245.6 124.2 L260.0 121.3 L274.4 118.2 L288.7 115.0 L303.1 111.6 L317.5 108.0 L331.8 104.3 L346.2 100.4 L360.6 96.4 L375.0 92.3 L389.3 88.1 L403.7 83.8 L418.1 79.4 L432.4 74.9 L446.8 70.4 L461.2 65.8 L475.6 61.1 L489.9 56.3 L504.3 51.5 L518.7 46.7 L533.0 41.8 L547.4 36.8 L561.8 31.8 L576.2 26.8 L590.5 21.7 L604.9 16.6" stroke="#F89F13"/>
<path d="M101.9 138.4 L116.3 138.3 L130.6 137.8 L145.0 137.0 L159.3 135.9 L173.7 134.6 L188.0 132.9 L202.4 131.0 L216.7 128.8 L231.1 126.4 L245.5 123.8 L259.8 121.0 L274.2 117.9 L288.5 114.7 L302.9 111.3 L317.2 107.7 L331.6 104.0 L345.9 100.2 L360.3 96.2 L374.6 92.1 L389.0 87.9 L403.4 83.6 L417.7 79.2 L432.1 74.8 L446.4 70.2 L460.8 65.6 L475.1 61.0 L489.5 56.2 L503.8 51.4 L518.2 46.6 L532.6 41.7 L546.9 36.8 L561.3 31.8 L575.6 26.7 L590.0 21.7 L604.3 16.6" stroke="#BC5B80"/>
<path d="M101.9 138.0 L116.2 137.8 L130.6 137.4 L144.9 136.6 L159.3 135.5 L173.6 134.2 L187.9 132.5 L202.3 130.6 L216.6 128.5 L230.9 126.1 L245.3 123.5 L259.6 120.6 L274.0 117.6 L288.3 114.4 L302.6 111.0 L317.0 107.4 L331.3 103.7 L345.7 99.9 L360.0 96.0 L374.3 91.9 L388.7 87.7 L403.0 83.4 L417.4 79.1 L431.7 74.6 L446.0 70.1 L460.4 65.5 L474.7 60.8 L489.0 56.1 L503.4 51.3 L517.7 46.5 L532.1 41.6 L546.4 36.7 L560.7 31.7 L575.1 26.7 L589.4 21.7 L603.8 16.6" stroke="#47B66D"/>
<path d="M101.9 137.5 L116.2 137.4 L130.5 136.9 L144.9 136.2 L159.2 135.1 L173.5 133.8 L187.8 132.1 L202.2 130.2 L216.5 128.1 L230.8 125.7 L245.1 123.1 L259.4 120.3 L273.8 117.3 L288.1 114.1 L302.4 110.7 L316.7 107.2 L331.1 103.5 L345.4 99.7 L359.7 95.7 L374.0 91.7 L388.3 87.5 L402.7 83.3 L417.0 78.9 L431.3 74.5 L445.6 70.0 L460.0 65.4 L474.3 60.7 L488.6 56.0 L502.9 51.3 L517.2 46.4 L531.6 41.6 L545.9 36.7 L560.2 31.7 L574.5 26.7 L588.9 21.7 L603.2 16.6" stroke="#5E81B5"/>
<path d="M101.9 137.1 L116.2 136.9 L130.5 136.5 L144.8 135.7 L159.1 134.7 L173.4 133.3 L187.7 131.7 L202.0 129.8 L216.3 127.7 L230.7 125.3 L245.0 122.7 L259.3 119.9 L273.6 116.9 L287.9 113.7 L302.2 110.4 L316.5 106.9 L330.8 103.2 L345.1 99.4 L359.4 95.5 L373.7 91.5 L388.0 87.3 L402.3 83.1 L416.6 78.7 L430.9 74.3 L445.2 69.8 L459.5 65.3 L473.8 60.6 L488.2 55.9 L502.5 51.2 L516.8 46.4 L531.1 41.5 L545.4 36.6 L559.7 31.7 L574.0 26.7 L588.3 21.7 L602.6 16.6" stroke="#E19C24"/>
<path d="M101.9 136.7 L116.2 136.5 L130.5 136.1 L144.8 135.3 L159.1 134.3 L173.3 132.9 L187.6 131.3 L201.9 129.5 L216.2 127.3 L230.5 125.0 L244.8 122.4 L259.1 119.6 L273.4 116.6 L287.7 113.4 L301.9 110.1 L316.2 106.6 L330.5 102.9 L344.8 99.2 L359.1 95.3 L373.4 91.2 L387.7 87.1 L402.0 82.9 L416.3 78.6 L430.5 74.2 L444.8 69.7 L459.1 65.1 L473.4 60.5 L487.7 55.8 L502.0 51.1 L516.3 46.3 L530.6 41.4 L544.9 36.6 L559.1 31.6 L573.4 26.7 L587.7 21.6 L602.0 16.6" stroke="#8FB032"/>
<path d="M101.9 136.2 L116.2 136.1 L130.4 135.6 L144.7 134.9 L159.0 133.8 L173.3 132.5 L187.5 130.9 L201.8 129.1 L216.1 126.9 L230.3 124.6 L244.6 122.0 L258.9 119.3 L273.2 116.3 L287.4 113.1 L301.7 109.8 L316.0 106.3 L330.3 102.7 L344.5 98.9 L358.8 95.0 L373.1 91.0 L387.3 86.9 L401.6 82.7 L415.9 78.4 L430.2 74.0 L444.4 69.5 L458.7 65.0 L473.0 60.4 L487.2 55.7 L501.5 51.0 L515.8 46.2 L530.1 41.4 L544.3 36.5 L558.6 31.6 L572.9 26.6 L587.2 21.6 L601.4 16.6" stroke="#EB6235"/>
<path d="M101.9 135.8 L116.2 135.6 L130.4 135.2 L144.7 134.4 L158.9 133.4 L173.2 132.1 L187.4 130.5 L201.7 128.7 L215.9 126.6 L230.2 124.2 L244.5 121.7 L258.7 118.9 L273.0 116.0 L287.2 112.8 L301.5 109.5 L315.7 106.0 L330.0 102.4 L344.2 98.7 L358.5 94.8 L372.8 90.8 L387.0 86.7 L401.3 82.5 L415.5 78.2 L429.8 73.8 L444.0 69.4 L458.3 64.9 L472.5 60.3 L486.8 55.6 L501.0 50.9 L515.3 46.1 L529.6 41.3 L543.8 36.5 L558.1 31.6 L572.3 26.6 L586.6 21.6 L600.8 16.6" stroke="#8778B3"/>
<path d="M101.9 135.4 L116.1 135.2 L130.4 134.8 L144.6 134.0 L158.9 133.0 L173.1 131.7 L187.3 130.1 L201.6 128.3 L215.8 126.2 L230.0 123.9 L244.3 121.3 L258.5 118.6 L272.8 115.6 L287.0 112.5 L301.2 109.2 L315.5 105.8 L329.7 102.2 L344.0 98.4 L358.2 94.6 L372.4 90.6 L386.7 86.5 L400.9 82.3 L415.1 78.0 L429.4 73.7 L443.6 69.2 L457.9 64.7 L472.1 60.2 L486.3 55.5 L500.6 50.8 L514.8 46.1 L529.1 41.3 L543.3 36.4 L557.5 31.5 L571.8 26.6 L586.0 21.6 L600.2 16.6" stroke="#C56E1A"/>
<path d="M101.9 134.9 L116.1 134.8 L130.3 134.3 L144.6 133.6 L158.8 132.6 L173.0 131.3 L187.2 129.7 L201.4 127.9 L215.7 125.8 L229.9 123.5 L244.1 121.0 L258.3 118.2 L272.6 115.3 L286.8 112.2 L301.0 108.9 L315.2 105.5 L329.4 101.9 L343.7 98.2 L357.9 94.3 L372.1 90.4 L386.3 86.3 L400.5 82.1 L414.8 77.9 L429.0 73.5 L443.2 69.1 L457.4 64.6 L471.7 60.0 L485.9 55.4 L500.1 50.7 L514.3 46.0 L528.5 41.2 L542.8 36.4 L557.0 31.5 L571.2 26.6 L585.4 21.6 L599.6 16.6" stroke="#5D9EC7"/>
<path d="M101.9 134.5 L116.1 134.3 L130.3 133.9 L144.5 133.2 L158.7 132.2 L172.9 130.9 L187.1 129.3 L201.3 127.5 L215.5 125.4 L229.7 123.1 L243.9 120.6 L258.1 117.9 L272.4 115.0 L286.6 111.9 L300.8 108.6 L315.0 105.2 L329.2 101.6 L343.4 97.9 L357.6 94.1 L371.8 90.1 L386.0 86.1 L400.2 81.9 L414.4 77.7 L428.6 73.4 L442.8 69.0 L457.0 64.5 L471.2 59.9 L485.4 55.3 L499.6 50.6 L513.8 45.9 L528.0 41.1 L542.2 36.3 L556.4 31.4 L570.6 26.5 L584.8 21.6 L599.0 16.6" stroke="#FFBF00"/>
<path d="M101.9 134.0 L116.1 133.9 L130.3 133.5 L144.5 132.7 L158.6 131.7 L172.8 130.4 L187.0 128.9 L201.2 127.1 L215.4 125.0 L229.6 122.8 L243.8 120.3 L258.0 117.6 L272.1 114.7 L286.3 111.6 L300.5 108.3 L314.7 104.9 L328.9 101.4 L343.1 97.7 L357.3 93.9 L371.5 89.9 L385.6 85.9 L399.8 81.8 L414.0 77.5 L428.2 73.2 L442.4 68.8 L456.6 64.3 L470.8 59.8 L484.9 55.2 L499.1 50.5 L513.3 45.8 L527.5 41.1 L541.7 36.3 L555.9 31.4 L570.1 26.5 L584.3 21.6 L598.4 16.6" stroke="#A5609D"/>
<path d="M101.9 133.6 L116.1 133.5 L130.2 133.0 L144.4 132.3 L158.6 131.3 L172.7 130.0 L186.9 128.5 L201.1 126.7 L215.3 124.7 L229.4 122.4 L243.6 119.9 L257.8 117.2 L271.9 114.3 L286.1 111.3 L300.3 108.0 L314.4 104.6 L328.6 101.1 L342.8 97.4 L357.0 93.6 L371.1 89.7 L385.3 85.7 L399.5 81.6 L413.6 77.3 L427.8 73.0 L442.0 68.7 L456.1 64.2 L470.3 59.7 L484.5 55.1 L498.7 50.5 L512.8 45.8 L527.0 41.0 L541.2 36.2 L555.3 31.4 L569.5 26.5 L583.7 21.6 L597.8 16.6" stroke="#929600"/>
<path d="M101.9 133.2 L116.1 133.0 L130.2 132.6 L144.4 131.9 L158.5 130.9 L172.7 129.6 L186.8 128.1 L201.0 126.3 L215.1 124.3 L229.3 122.0 L243.4 119.5 L257.6 116.9 L271.7 114.0 L285.9 110.9 L300.0 107.7 L314.2 104.3 L328.3 100.8 L342.5 97.2 L356.6 93.4 L370.8 89.5 L384.9 85.5 L399.1 81.4 L413.3 77.2 L427.4 72.9 L441.6 68.5 L455.7 64.1 L469.9 59.6 L484.0 55.0 L498.2 50.4 L512.3 45.7 L526.5 40.9 L540.6 36.2 L554.8 31.3 L568.9 26.5 L583.1 21.5 L597.2 16.6" stroke="#E95536"/>
<path d="M101.9 132.7 L116.0 132.6 L130.2 132.2 L144.3 131.5 L158.4 130.5 L172.6 129.2 L186.7 127.7 L200.8 125.9 L215.0 123.9 L229.1 121.6 L243.2 119.2 L257.4 116.5 L271.5 113.7 L285.7 110.6 L299.8 107.4 L313.9 104.1 L328.1 100.6 L342.2 96.9 L356.3 93.1 L370.5 89.3 L384.6 85.3 L398.7 81.2 L412.9 77.0 L427.0 72.7 L441.1 68.4 L455.3 63.9 L469.4 59.5 L483.5 54.9 L497.7 50.3 L511.8 45.6 L525.9 40.9 L540.1 36.1 L554.2 31.3 L568.4 26.4 L582.5 21.5 L596.6 16.6" stroke="#6685D9"/>
<path d="M101.9 132.3 L116.0 132.2 L130.1 131.7 L144.3 131.0 L158.4 130.0 L172.5 128.8 L186.6 127.3 L200.7 125.5 L214.8 123.5 L229.0 121.3 L243.1 118.8 L257.2 116.2 L271.3 113.3 L285.4 110.3 L299.5 107.1 L313.7 103.8 L327.8 100.3 L341.9 96.7 L356.0 92.9 L370.1 89.0 L384.2 85.1 L398.4 81.0 L412.5 76.8 L426.6 72.6 L440.7 68.2 L454.8 63.8 L469.0 59.3 L483.1 54.8 L497.2 50.2 L511.3 45.5 L525.4 40.8 L539.5 36.1 L553.7 31.3 L567.8 26.4 L581.9 21.5 L596.0 16.6" stroke="#F89F13"/>
<path d="M101.9 131.9 L116.0 131.7 L130.1 131.3 L144.2 130.6 L158.3 129.6 L172.4 128.4 L186.5 126.9 L200.6 125.1 L214.7 123.1 L228.8 120.9 L242.9 118.5 L257.0 115.8 L271.1 113.0 L285.2 110.0 L299.3 106.8 L313.4 103.5 L327.5 100.0 L341.6 96.4 L355.7 92.7 L369.8 88.8 L383.9 84.9 L398.0 80.8 L412.1 76.6 L426.2 72.4 L440.3 68.1 L454.4 63.7 L468.5 59.2 L482.6 54.7 L496.7 50.1 L510.8 45.5 L524.9 40.8 L539.0 36.0 L553.1 31.2 L567.2 26.4 L581.3 21.5 L595.4 16.6" stroke="#BC5B80"/>
<path d="M101.9 131.4 L116.0 131.3 L130.1 130.9 L144.1 130.2 L158.2 129.2 L172.3 128.0 L186.4 126.5 L200.5 124.7 L214.6 122.7 L228.6 120.5 L242.7 118.1 L256.8 115.5 L270.9 112.7 L285.0 109.7 L299.0 106.5 L313.1 103.2 L327.2 99.7 L341.3 96.2 L355.4 92.4 L369.5 88.6 L383.5 84.6 L397.6 80.6 L411.7 76.5 L425.8 72.2 L439.9 67.9 L453.9 63.5 L468.0 59.1 L482.1 54.6 L496.2 50.0 L510.3 45.4 L524.4 40.7 L538.4 36.0 L552.5 31.2 L566.6 26.4 L580.7 21.5 L594.8 16.6" stroke="#47B66D"/>
<path d="M101.9 131.0 L116.0 130.9 L130.0 130.4 L144.1 129.7 L158.2 128.8 L172.2 127.5 L186.3 126.1 L200.3 124.3 L214.4 122.4 L228.5 120.2 L242.5 117.8 L256.6 115.1 L270.7 112.3 L284.7 109.4 L298.8 106.2 L312.9 102.9 L326.9 99.5 L341.0 95.9 L355.1 92.2 L369.1 88.4 L383.2 84.4 L397.2 80.4 L411.3 76.3 L425.4 72.1 L439.4 67.8 L453.5 63.4 L467.6 59.0 L481.6 54.5 L495.7 49.9 L509.8 45.3 L523.8 40.6 L537.9 35.9 L552.0 31.1 L566.0 26.3 L580.1 21.5 L594.1 16.6" stroke="#5E81B5"/>
</g>
<path d="M87.2 474.4 V16.6 H827.2 V474.4" fill="none" stroke="#6b6b6b" stroke-width="1.2" stroke-linecap="square"/>
<path d="M87.2 474.4 H827.2" fill="none" stroke="#6b6b6b" stroke-width="1.1" stroke-linecap="square"/>
<path d="M101.90 474.20 v-8.40 M101.90 16.60 v8.40 M130.32 474.20 v-4.90 M130.32 16.60 v4.90 M158.74 474.20 v-4.90 M158.74 16.60 v4.90 M187.16 474.20 v-4.90 M187.16 16.60 v4.90 M215.58 474.20 v-4.90 M215.58 16.60 v4.90 M244.00 474.20 v-8.40 M244.00 16.60 v8.40 M272.42 474.20 v-4.90 M272.42 16.60 v4.90 M300.84 474.20 v-4.90 M300.84 16.60 v4.90 M329.26 474.20 v-4.90 M329.26 16.60 v4.90 M357.68 474.20 v-4.90 M357.68 16.60 v4.90 M386.10 474.20 v-8.40 M386.10 16.60 v8.40 M414.52 474.20 v-4.90 M414.52 16.60 v4.90 M442.94 474.20 v-4.90 M442.94 16.60 v4.90 M471.36 474.20 v-4.90 M471.36 16.60 v4.90 M499.78 474.20 v-4.90 M499.78 16.60 v4.90 M528.20 474.20 v-8.40 M528.20 16.60 v8.40 M556.62 474.20 v-4.90 M556.62 16.60 v4.90 M585.04 474.20 v-4.90 M585.04 16.60 v4.90 M613.46 474.20 v-4.90 M613.46 16.60 v4.90 M641.88 474.20 v-4.90 M641.88 16.60 v4.90 M670.30 474.20 v-8.40 M670.30 16.60 v8.40 M698.72 474.20 v-4.90 M698.72 16.60 v4.90 M727.14 474.20 v-4.90 M727.14 16.60 v4.90 M755.56 474.20 v-4.90 M755.56 16.60 v4.90 M783.98 474.20 v-4.90 M783.98 16.60 v4.90 M812.40 474.20 v-8.40 M812.40 16.60 v8.40 M87.20 474.20 h8.40 M827.20 474.20 h-8.40 M87.20 445.60 h4.90 M827.20 445.60 h-4.90 M87.20 417.00 h4.90 M827.20 417.00 h-4.90 M87.20 388.40 h4.90 M827.20 388.40 h-4.90 M87.20 359.80 h8.40 M827.20 359.80 h-8.40 M87.20 331.20 h4.90 M827.20 331.20 h-4.90 M87.20 302.60 h4.90 M827.20 302.60 h-4.90 M87.20 274.00 h4.90 M827.20 274.00 h-4.90 M87.20 245.40 h8.40 M827.20 245.40 h-8.40 M87.20 216.80 h4.90 M827.20 216.80 h-4.90 M87.20 188.20 h4.90 M827.20 188.20 h-4.90 M87.20 159.60 h4.90 M827.20 159.60 h-4.90 M87.20 131.00 h8.40 M827.20 131.00 h-8.40 M87.20 102.40 h4.90 M827.20 102.40 h-4.90 M87.20 73.80 h4.90 M827.20 73.80 h-4.90 M87.20 45.20 h4.90 M827.20 45.20 h-4.90 M87.20 16.60 h8.40 M827.20 16.60 h-8.40" fill="none" stroke="#6b6b6b" stroke-width="1.2"/>
<g style="will-change:transform">
<text x="101.9" y="507.6" text-anchor="middle">0</text>
<text x="244.0" y="507.6" text-anchor="middle">1</text>
<text x="386.1" y="507.6" text-anchor="middle">2</text>
<text x="528.2" y="507.6" text-anchor="middle">3</text>
<text x="670.3" y="507.6" text-anchor="middle">4</text>
<text x="812.4" y="507.6" text-anchor="middle">5</text>
<text x="80.9" y="484.8" text-anchor="end">4</text>
<text transform="translate(62.4,490.5) scale(0.95,1.35)" text-anchor="end">−</text>
<text x="80.9" y="370.4" text-anchor="end">2</text>
<text transform="translate(62.4,376.1) scale(0.95,1.35)" text-anchor="end">−</text>
<text x="80.9" y="256.0" text-anchor="end">0</text>
<text x="80.9" y="141.6" text-anchor="end">2</text>
<text x="80.9" y="27.2" text-anchor="end">4</text>
<text transform="translate(26.9,246.0) rotate(-90) scale(0.936,1)" text-anchor="middle" style="font-size:30.6px">E/t</text>
<text transform="translate(439.0,552.9) scale(1.2,1)" style="font-size:28.4px;font-style:italic">ϵ</text>
<text x="452.8" y="558.6" style="font-size:20px;font-style:italic">i</text>
<text x="458.9" y="554.3" style="font-size:29.5px">/t</text>
</g>
</svg>
</body></html>
